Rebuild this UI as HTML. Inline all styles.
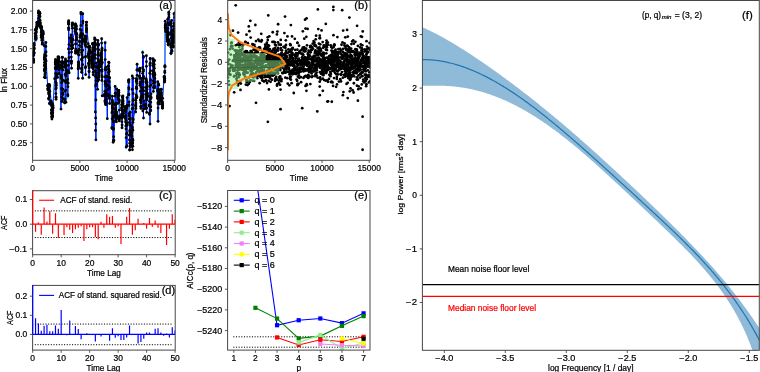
<!DOCTYPE html>
<html><head><meta charset="utf-8"><style>
html,body{margin:0;padding:0;background:#fff;width:760px;height:372px;overflow:hidden}
svg{display:block;filter:blur(0.3px)}
text{font-family:"Liberation Sans",sans-serif;stroke:currentColor;stroke-width:0.22px}
</style></head><body>
<svg width="760" height="372" viewBox="0 0 760 372" font-family="Liberation Sans, sans-serif">
<rect width="760" height="372" fill="#fff"/>
<clipPath id="ca"><rect x="32.6" y="0.5" width="142.4" height="159.8"/></clipPath>
<g clip-path="url(#ca)">
<polyline points="32.31,52.12 32.32,54.19 32.37,56.39 32.39,56.56 32.62,54.19 32.68,55.39 32.73,56.13 32.75,54.71 32.8,51.6 32.81,52.7 32.86,53.63 32.9,54.19 32.91,54.02 33.19,51.37 33.23,55.87 33.24,59.36 33.29,60.36 33.31,57.97 33.33,60.53 33.33,60.29 33.41,59.99 33.53,61.55 33.54,62.46 33.56,59.24 33.85,55.47 33.89,50.74 33.89,49.73 33.94,48.61 34.05,44.98 34.09,44.72 34.13,44.03 34.28,46.67 34.29,53.4 35.25,33.86 35.26,32.5 35.28,30.44 35.46,32.92 35.49,37.29 35.56,35.73 35.58,35.68 35.63,41.67 35.68,39.21 35.8,38.95 35.84,39.44 35.94,41.72 35.95,38.87 36.02,38.62 36.14,34.51 36.3,30.85 36.3,32.83 36.34,30.39 36.34,29.23 36.48,28.59 36.52,28.86 36.54,27.27 36.7,28.72 36.89,23.33 36.95,23.38 36.95,26.89 36.97,26.96 37.01,27.09 37.06,25.12 37.09,22.56 38.4,13.68 38.44,15.04 38.52,10.25 38.71,12.86 38.73,19.21 38.8,23 38.84,25.37 38.97,22.83 38.98,26.32 39.1,23.55 39.12,22.98 39.15,21.37 39.16,15.39 39.19,16.18 39.33,17.67 39.34,14.8 39.34,14.89 39.46,12.32 39.56,11.35 39.65,11.6 39.73,12.41 39.79,11.82 39.91,12.69 39.98,16.25 40.06,19.05 40.09,22.05 40.13,23.27 40.15,23.16 40.2,22.92 40.2,26.19 40.24,27.21 40.26,27.18 41.28,38.07 41.3,33.42 41.39,34.94 41.43,30.03 41.46,26.27 41.58,26.04 41.59,30.6 41.83,31.36 41.84,37.88 41.88,41.2 42.28,44.01 42.35,43.55 42.35,44.15 42.42,38.64 42.42,36.95 42.45,34.96 42.48,33.72 42.52,35.01 42.52,32.63 42.73,38.39 42.79,36.76 42.79,37.19 42.8,30.63 42.82,34.58 42.91,31.28 42.93,29.53 42.97,32.73 43.08,35 43.12,32.04 44.33,47.13 44.36,56.87 44.36,70.58 44.39,77.79 44.45,71.16 44.46,63.37 44.46,64.56 44.47,60.14 44.57,55.92 44.57,53.4 44.58,57.43 44.73,63.51 44.74,69.48 44.81,68.48 44.94,64.76 44.95,69.51 45.07,76.52 45.24,77.17 45.27,76.95 45.44,74.32 45.55,68.93 45.62,68.42 45.65,65.78 45.7,62.18 45.71,59.86 45.73,59.09 45.75,52.07 45.85,46.89 45.87,43.2 45.97,52.01 45.99,55.98 46.01,59.81 47.87,86.26 47.87,89.15 47.91,87.48 47.94,85.66 48.03,85.61 48.05,83.26 48.15,83.62 48.18,85.38 48.23,85.59 48.25,84.47 48.29,86.36 48.42,86.35 48.43,86.58 48.59,93.79 48.69,101.3 48.71,97.4 48.75,93.55 48.95,91.28 49.24,86.24 49.3,85.69 49.34,97.06 49.58,103.31 49.63,103.54 49.63,96.29 49.78,92.03 49.79,85.73 51.13,102.19 51.18,102.5 51.31,102 51.33,104.21 51.34,110.86 51.47,113.54 51.56,115.36 51.6,111.47 51.66,117.71 51.93,119.61 52.03,119.46 52.15,111.76 52.19,110.69 52.2,104.94 52.29,101.55 52.36,107.92 52.41,111.75 52.42,113.01 52.47,115.67 52.51,117.59 52.52,116.58 52.52,114.74 52.6,111.31 52.61,110.14 52.66,108.6 52.7,104.16 52.76,103.98 52.84,106.38 52.87,107.79 52.9,106.87 52.93,104.14 54.67,76.98 55.28,66.7 55.36,68.57 55.36,68.27 55.38,63.74 55.39,63.77 55.41,62.58 55.49,61.11 55.53,59.33 55.53,60.98 55.61,63.98 55.71,74.37 55.72,80.84 55.84,87.77 55.88,93.07 55.96,95.15 56.01,98.33 56.03,96.4 56.09,86.03 56.1,68.23 56.11,60.2 56.17,65.6 56.21,74.11 56.24,85.37 56.25,87.71 56.29,84.42 56.32,77.02 57.61,78.66 57.62,74.53 57.63,67.8 57.89,60.17 57.9,55.46 57.91,63.91 57.99,69.69 58.01,66.07 58.02,66.03 58.08,58.54 58.11,60.9 58.13,64.54 58.25,60.42 58.25,58.3 58.35,61.44 58.39,64.09 58.45,65.82 58.55,64.89 58.59,59.16 58.76,59.47 58.77,58.65 58.79,60.32 58.87,58.81 58.91,62.67 58.92,65.91 58.97,69.86 59.04,68.65 59.04,72.62 59.13,65.78 59.42,69 61,106.72 61.04,62.94 61.06,63.94 61.1,66.9 61.23,75.15 61.32,77.6 61.43,79.23 61.63,84.92 61.67,88.9 61.84,98.19 62.03,100.76 62.14,94.74 62.2,89.7 62.22,80.83 62.22,67.82 62.33,61.33 62.33,57.42 62.34,57.99 62.36,62.28 62.54,65.62 62.63,67.79 62.66,61.68 62.77,61.55 62.79,71.97 62.83,77 62.85,88.47 62.9,93.51 62.91,92.56 62.98,101.89 64.55,96.55 64.57,104.32 64.67,104.57 64.91,100.18 65.05,90.82 65.06,81.39 65.09,73.5 65.13,67.93 65.26,63.76 65.27,65.24 65.4,63.42 65.41,59.53 65.44,58.6 65.53,62.97 65.6,61.63 65.72,63.63 65.76,68.19 65.77,80.75 65.9,102.25 65.93,89.15 65.95,80.1 65.96,81.38 65.98,80.1 66.02,77.33 66.03,72.59 66.19,74.97 66.22,70.44 66.22,61.94 66.43,65.17 67.58,70.45 67.66,78.1 67.77,83.93 67.81,95.79 67.83,98.38 67.9,88.19 68.14,83.21 68.15,70.52 68.28,65.81 68.31,61.09 68.48,50.7 68.59,28.98 68.6,28.86 68.64,22 68.64,22.31 68.66,22.24 68.67,24.04 68.68,25.11 68.74,21.81 68.79,27.92 68.97,44.01 69,55.38 69.11,73.78 69.13,51.38 69.41,37.28 71.03,36.89 71.07,35.67 71.1,37.97 71.26,42.19 71.28,43.93 71.28,56.95 71.32,59.19 71.33,63.98 71.43,62.45 71.51,68.25 71.51,63.79 71.56,52.75 71.57,43.09 71.62,39.27 71.62,40.05 71.66,50.05 71.71,47.8 71.81,47.22 71.81,50 71.91,45.62 71.93,46.42 72.02,41.08 72.17,24.61 72.32,22.07 72.47,26.82 72.51,23.11 72.51,22.73 72.56,28.57 72.62,39.67 72.74,45.67 72.77,42.37 72.84,37.16 75.02,31.86 75.18,28.54 75.27,27.2 75.36,25.1 75.37,26.55 75.46,21.86 75.51,23.65 75.55,28.13 75.65,42.49 75.65,49.89 75.65,52.99 75.67,50.89 75.71,51.03 75.77,48.28 75.8,46.3 75.84,38.94 76.03,31.69 76.17,25.87 76.24,30.24 76.41,27.16 76.41,27.36 76.42,34.11 76.5,36.07 76.78,38.14 76.79,33.49 78.21,52.31 78.22,51.61 78.25,55.06 78.26,68.11 78.26,79.45 78.27,69.05 78.34,63.46 78.35,65.26 78.39,62.76 78.45,62.87 78.6,60.44 78.61,65.53 78.64,65.62 78.69,66.19 78.84,64.92 78.86,66.35 78.87,59.9 78.87,56.17 79.07,52.04 79.3,50 79.47,45.34 79.47,41.93 79.62,44.21 80,35.95 80.05,35.74 80.12,29.14 80.92,14.56 80.99,12.55 81.01,26.23 81.09,34.49 81.15,33.38 81.2,29.32 81.3,34.07 81.39,46.76 81.46,52.44 81.52,57.81 81.53,70.24 81.71,69.41 81.71,70.28 81.77,73.68 81.79,66.99 81.91,60.99 81.91,54.83 81.91,50.99 81.91,43.79 81.92,34.92 82.06,38 82.32,43.85 82.57,47.48 82.63,64.66 82.64,78.78 82.69,56.27 82.78,32.28 82.8,25.57 82.8,13.35 82.86,23.75 82.88,39.97 84.71,41.61 84.74,41.72 84.8,36.7 84.85,40.26 84.86,39.56 84.96,42.53 85,40.42 85.01,42.81 85.12,45.56 85.18,43.57 85.3,56.3 85.36,68.24 85.64,73.86 85.64,66.22 85.68,55.25 85.84,46.2 85.85,42.63 85.94,40.86 86.2,38.63 86.21,39.14 86.21,25.02 86.34,29.33 86.36,23.58 86.38,30.53 86.44,31.31 86.45,26.47 86.52,27.72 86.54,29.24 86.56,24.54 88.17,41.98 88.22,49.21 88.23,53.28 88.28,56.53 88.35,51.78 88.51,57.94 88.64,62.83 88.78,66.55 88.83,63.32 88.85,54.23 88.86,48.9 88.94,52.41 89.02,65.07 89.03,72.32 89.08,78.69 89.12,71.82 89.13,66.38 89.18,59.06 89.26,60.35 89.28,62.54 89.44,61.17 89.44,56.55 89.46,54.03 89.53,46.17 89.56,46.14 89.61,46.62 89.62,52.29 89.73,51.05 89.75,50.42 89.98,50.88 91.53,55.89 91.61,60.18 91.62,61.67 91.67,60.43 91.69,63.55 91.74,61.05 91.79,63.55 91.89,68.93 91.89,66.6 92.03,66.25 92.09,57.73 92.15,55.84 92.4,52.73 92.42,52.87 92.53,50.02 92.6,42.25 92.66,48.07 92.68,44.75 92.68,43.6 92.76,51.03 92.93,58.28 92.99,57.94 93,55.25 93.04,60.07 93.07,65.97 93.21,69.82 93.24,74.87 93.25,72.82 93.28,66.96 93.29,62.38 93.36,61.73 93.47,65.25 94.43,66.59 94.47,57.68 94.55,46.72 94.56,43.38 94.62,39.39 94.79,40.71 94.82,44.79 94.91,50.46 94.94,54.7 95.1,44.45 95.12,39.71 95.25,41.19 95.26,43.48 95.28,51.79 95.3,57.82 95.3,111.76 95.32,70.38 95.41,75.47 95.5,131 95.58,86.06 95.6,119.99 95.8,124.73 95.9,140.45 95.9,99.66 96.05,82.29 96.07,80.67 96.13,75.97 96.13,73.89 96.15,74.81 96.23,69.18 96.28,63.92 97.52,79.14 97.59,89.61 97.59,81.44 97.6,67.18 97.6,56.1 97.68,47.87 97.75,43.61 97.75,47.57 97.84,44.24 97.87,40.15 97.97,44.75 98.07,50.99 98.15,60.64 98.23,68.29 98.32,79.66 98.5,82.1 98.51,64.49 98.57,44.03 98.59,45.43 98.7,50.6 98.73,55.79 98.81,65.53 98.84,69.48 98.94,69.14 98.97,75.4 98.97,77.81 99.28,74.53 99.29,71.58 99.32,70.82 99.33,66.87 99.38,69.27 99.5,65.79 100.42,64.18 100.47,63.63 100.48,61.93 100.58,59.21 100.7,66.67 100.75,63.17 100.83,58.87 100.94,56.07 100.95,54.07 101.03,55.69 101.19,55.88 101.23,63.36 101.32,57.13 101.38,58.91 101.45,58.08 101.53,61.57 101.55,65.17 101.57,55.1 101.62,43.37 101.63,37.35 101.63,50.28 101.63,60.55 101.66,70.18 101.72,67.7 101.75,75.79 101.79,81.2 101.88,71.02 101.89,63.69 101.92,48.67 102.04,46.51 102.14,61.37 102.22,78.38 102.23,97.06 104.44,94.43 104.67,95.33 104.68,95.94 104.84,102.71 104.87,91.84 104.98,80.94 104.98,77.77 105,68.54 105.13,49.05 105.14,40.98 105.19,59.89 105.27,82.58 105.29,84.27 105.33,101.86 105.56,105.03 105.62,104.04 105.65,99.17 105.69,102.92 105.72,103.93 105.75,95.19 105.79,90.45 105.83,85.44 105.88,67.96 105.89,69.89 105.98,78.68 106,89.36 106,105.51 106.04,94.99 106.04,104.41 106.14,102.7 106.25,100.39 106.37,93.19 106.37,82.43 106.38,74.91 107.3,117.97 107.87,75.09 107.91,82.14 107.91,86.78 107.98,89.8 108.09,93.62 108.09,95.69 108.16,93.5 108.31,87.3 108.31,77.66 108.37,66.17 108.4,66.28 108.41,66.97 108.51,71.32 108.56,75.3 108.58,74.54 108.71,69.32 108.72,61.31 108.99,62.29 109.22,73.35 109.3,80.63 109.41,86.69 109.43,97.8 109.58,97.68 109.6,102.97 109.63,96.23 109.68,79.81 111.87,110.67 111.95,127.47 112.01,128.28 112.16,118.75 112.35,111.21 112.36,101.33 112.39,97.35 112.4,99.53 112.42,101.76 112.43,101.89 112.5,106.1 112.58,107.55 112.64,109.74 112.68,103.94 112.76,109.01 112.99,115.87 113.09,128.06 113.15,141.24 113.17,128.02 113.2,117.26 113.25,110.94 113.29,119.85 113.31,122.32 113.34,128.93 113.41,138.78 113.51,142.18 113.65,136.83 113.79,140.12 114.84,118.31 114.85,115.14 115.01,103.3 115.08,98.53 115.13,85.11 115.24,93.12 115.33,106.18 115.33,108.22 115.4,108.46 115.44,113.58 115.47,119.33 115.57,120 115.68,116.3 115.72,109.88 115.73,103.47 115.76,102.55 115.78,108.48 115.87,111.04 115.88,113.41 116.11,115.36 116.33,113.6 116.4,118.65 116.42,122.19 116.43,118.16 116.45,115.27 116.46,115.21 116.48,116.25 116.52,117.22 116.52,113.32 116.53,113.93 116.58,106.45 116.68,92.64 116.71,89.37 117.84,92.4 117.87,95.94 118.04,95.78 118.06,97.25 118.11,103.05 118.19,99.26 118.31,92 118.32,94.72 118.34,94.93 118.59,95.17 118.72,90.85 118.72,91.73 118.83,92.2 119.08,96.64 119.11,98.71 119.14,101.13 119.2,101.58 119.23,110.31 119.24,117.47 119.3,120.95 119.3,118.48 119.35,117.94 119.42,114.29 119.48,119.92 119.5,114.07 121.53,116.63 121.55,115.19 121.59,116.2 121.61,106.91 121.81,104.75 121.83,106.63 121.87,102.76 121.89,109.93 121.96,119.06 121.96,121.6 122.04,128.88 122.08,124.64 122.22,115.33 122.25,102.01 122.27,97.23 122.33,106.12 122.34,107.52 122.4,110.57 122.53,102.81 122.57,100.42 122.8,97.57 122.82,97.74 122.85,99.23 122.91,96.62 123.02,101.18 123.06,105.96 123.18,102.8 123.18,110.61 123.3,117.39 123.37,115.29 123.49,112.5 125.22,108.02 125.23,109.42 125.26,105.83 125.33,109.18 125.34,111.17 125.35,108.58 125.38,115.44 125.41,116 125.61,119.48 125.61,115.45 125.67,110.97 125.68,111.44 125.76,121.33 125.85,125.36 125.99,122.23 126.02,123.98 126.03,126.43 126.1,136.66 126.2,149.2 126.38,133.63 126.39,121.57 126.52,108.75 126.86,107.54 126.97,123.07 126.98,132.36 127.01,145.6 127.07,124.73 127.09,105.94 127.1,96.62 127.12,105.63 128.53,80.17 128.59,83.55 128.65,95.31 128.78,87.47 128.86,89.65 128.88,82.59 128.9,80.96 128.91,95.13 128.98,107.53 129,103.58 129.02,113.71 129.07,115.25 129.28,119.96 129.41,123.03 129.46,135.02 129.48,138.2 129.69,147.71 129.69,150.41 129.77,144.09 129.91,132.25 129.92,117.72 129.97,125.81 129.97,129.63 130.07,134.96 130.11,147.03 130.16,133.26 130.19,117.66 130.23,109.74 131.31,124.87 131.37,131.59 131.4,140.77 131.52,145.58 131.55,145.7 131.76,132.78 131.84,135 131.87,136.9 131.96,142.97 131.97,147.26 132.01,145.92 132.02,140.06 132.12,128.27 132.15,108.77 132.17,89.05 132.24,76.99 132.36,106.65 132.38,126.66 132.44,149.32 132.69,140.27 132.73,138.99 132.81,139.83 132.83,143.78 132.87,130.58 132.94,123.15 132.94,117.81 132.95,107.64 133.05,99.32 133.12,94.43 133.19,76.37 133.23,99.3 133.28,122.05 135.56,105.75 135.63,112.59 135.79,104.52 135.8,98.84 135.84,98.04 135.88,103.53 135.91,104.72 135.91,108.79 136.07,96.35 136.26,89.55 136.28,76.72 136.29,79.8 136.41,79.41 136.47,82.91 136.57,87.35 136.61,97.29 136.79,96.7 136.83,95.23 136.85,88.75 136.95,83.71 137,78.61 137.06,75.61 137.06,70.35 137.1,64.5 137.13,69.06 139.44,66.95 139.45,76.33 139.53,76.19 139.64,69.78 139.75,70.56 139.84,68.3 139.86,69.01 139.88,71.28 139.91,78.46 140,80.92 140.02,84.54 140.17,83.86 140.39,90.05 140.41,98.28 140.55,99.69 140.6,101.29 140.81,102.95 140.86,108.32 140.95,108.26 140.97,106.04 141.06,99.94 141.1,96.51 141.28,89.11 141.29,81.99 141.36,79.32 142.01,94.9 142.03,96.05 142.04,96.02 142.08,96.26 142.14,98.58 142.24,91.66 142.37,91.4 142.42,97.17 142.42,94.54 142.42,87.13 142.47,80.87 142.63,68.9 142.63,49.93 142.65,73.05 142.72,92.54 142.8,97.69 142.85,109.6 143.02,97.03 143.12,83.15 143.33,70.96 143.35,58.14 143.47,56.51 143.5,117.55 143.57,73.59 143.58,76.51 143.67,77.87 143.7,90.26 143.72,105.32 143.98,109.3 143.99,101.74 145.45,104.64 145.49,103.25 145.53,107.19 145.61,108.12 145.64,94.1 145.65,85.64 146.06,77.89 146.07,81.76 146.36,81.06 146.4,64.57 146.41,55.74 146.45,61.78 146.46,78.6 146.55,90.52 146.56,98.12 146.65,109.14 146.67,109.37 146.78,99.37 146.78,94.71 146.87,96.83 146.89,96.53 146.89,93.56 146.96,93.49 147.07,85.55 147.09,91.67 147.1,83.6 147.15,86.46 147.35,91.47 149.18,94.99 149.19,106.54 149.25,104.82 149.28,105.61 149.3,113.46 149.49,112.85 149.69,102.09 149.73,86.67 149.77,73.85 149.97,63.05 150,124.62 150.09,64.36 150.15,60.04 150.26,59.75 150.32,64.09 150.47,71.39 150.51,80.69 150.53,93.11 150.55,111.87 150.6,109.94 150.66,102.28 150.79,106.65 150.82,96.02 150.92,97.97 150.98,97.94 150.98,95.61 150.99,84.42 152.82,73.11 152.9,73.26 152.9,64.81 152.93,61.03 153.14,60.53 153.14,62.98 153.25,76.97 153.3,82.86 153.31,85.74 153.39,93.28 153.39,82.98 153.51,77.99 153.58,69.8 153.7,61.92 153.76,66.78 153.76,62.87 153.82,62.92 153.89,63.2 154.19,61.08 154.25,60.42 154.33,63.97 154.38,67.97 154.5,71.7 154.55,77.97 154.6,72.23 154.61,78.35 154.65,87.77 154.71,89.49 154.77,83.27 154.79,73.78 157.52,99.24 157.55,95.61 157.64,95.89 157.67,93.35 157.68,92.77 157.69,82.35 157.7,88.79 157.97,103.62 158.03,122.5 158.09,108.63 158.17,102.59 158.18,94.71 158.26,90.28 158.49,89.36 158.57,85.11 158.62,84.13 158.72,89.97 158.83,96.24 158.86,92.21 158.93,95.42 158.99,94.21 159,99.32 159,103.59 159.05,103.42 159.06,104.8 159.11,102.88 159.21,100.39 159.38,98.38 159.43,100.07 159.47,103.12 160.83,102.31 160.85,99.02 160.89,97.9 160.93,96.88 161.1,93 161.15,89.01 161.16,88.1 161.25,91.03 161.3,91.41 161.32,94.99 161.34,94.16 161.4,97.93 161.49,97.02 161.58,102.32 161.86,102 162.03,103.44 162.03,103.38 162.1,103.19 162.12,104.9 162.19,103.77 162.23,104.32 162.32,107.18 162.36,105.23 162.45,100.67 162.47,105.97 162.49,107.27 162.55,105.61 162.59,103.93 162.65,97.51 164.04,79.56 164.31,75.31 164.4,77.28 164.44,80.09 164.47,79.01 164.48,79.88 164.52,82.2 164.53,78.93 164.56,81.09 164.57,81.63 164.73,79.65 164.76,77.51 164.78,69.27 164.82,71.36 164.9,65.28 164.92,66.07 164.94,67.2 165.13,25.77 165.19,23.21 165.19,27.05 165.39,27.9 165.53,22.61 165.58,24.72 165.68,24.86 165.7,27.16 165.74,26.68 165.74,30.27 165.74,28.95 165.75,28.55 165.8,29.34 165.84,33.21 165.87,31.73 165.92,24.51 167.06,32.08 167.07,35.3 167.13,38.72 167.32,39.17 167.39,41.23 167.5,39.01 167.54,32.18 167.68,22.29 167.71,18.41 167.79,27.57 167.84,35.99 167.96,33.66 167.98,33.86 168.03,40.31 168.21,40.88 168.21,44.64 168.29,45.02 168.33,41.75 168.39,41.4 168.41,40.4 168.44,42.44 168.49,43.46 168.56,41.17 168.61,33.18 168.76,26.52 168.78,16.78 168.83,10.25 168.84,14.3 168.87,14.84 170.5,24.89 170.54,22.09 170.62,24.03 170.65,34.82 170.73,41.85 170.89,45.95 170.92,46.46 170.99,46.41 170.99,55.29 171.02,54.45 171.35,43.75 171.36,35.88 171.54,32.22 171.58,27.25 171.67,20.29 171.76,28.48 171.76,41.96 171.76,43.88 171.84,50.78 171.89,52.24 171.91,46.44 171.92,40.75 172.01,38.19 172.17,39.25 172.21,40.22 172.25,39.95 172.25,44.38 172.28,41.18 172.33,34.97 172.39,35.06 172.48,35.44 173.3,38.61 173.32,47.16 173.33,43 173.39,40.74 173.41,39.88 173.57,39.69 173.58,45.94 173.64,39.28 173.74,31.08 173.85,29.87 173.96,25.23 173.97,24.47 173.99,12.48 174,23.65 174.02,36.06 174.05,40.39 174.11,35.58 174.13,40.12 174.18,38.94 174.22,42.37 174.45,42.03 174.52,39.76 174.55,38.94 174.72,42.39 174.82,37.64 174.99,35.38 175,33.68 175.07,26.98 175.07,25.85 175.1,24.02 175.1,18.06 175.11,12.3 175.14,24.64" fill="none" stroke="#00e5ee" stroke-width="0.8" stroke-linejoin="round"/>
<polyline points="32.31,53.94 32.32,53.93 32.37,55.66 32.39,55.79 32.62,55.66 32.68,55.77 32.73,55.96 32.75,53.75 32.8,52.38 32.81,54.09 32.86,52.42 32.9,52.86 32.91,53.58 33.19,52.1 33.23,55.39 33.24,59.23 33.29,59.36 33.31,59.47 33.33,60.39 33.33,60.48 33.41,61.32 33.53,61.29 33.54,62.42 33.56,59.73 33.85,55 33.89,52.44 33.89,49.79 33.94,48.09 34.05,44.64 34.09,43.43 34.13,45.47 34.28,48.48 34.29,53.11 35.25,33.31 35.26,29.95 35.28,29.7 35.46,33.97 35.49,36.32 35.56,36.75 35.58,37.46 35.63,38.54 35.68,38.82 35.8,38.09 35.84,38.76 35.94,39.54 35.95,38.53 36.02,37.16 36.14,35.75 36.3,32.52 36.3,31.12 36.34,28.62 36.34,28.62 36.48,28.32 36.52,28.66 36.54,28.1 36.7,26.87 36.89,22.54 36.95,22.77 36.95,26.44 36.97,25.7 37.01,26.48 37.06,24.23 37.09,23.97 38.4,13.07 38.44,12.41 38.52,10.88 38.71,13.01 38.73,18.14 38.8,21.85 38.84,24.62 38.97,24.77 38.98,25.72 39.1,24.97 39.12,23.97 39.15,20.71 39.16,15.74 39.19,15.21 39.33,13.9 39.34,13.86 39.34,14.02 39.46,13.4 39.56,12.13 39.65,12.87 39.73,13.05 39.79,13.13 39.91,13.48 39.98,16.5 40.06,20.25 40.09,23.75 40.13,24.91 40.15,22.61 40.2,22.84 40.2,24.96 40.24,25.96 40.26,27.59 41.28,37.26 41.3,35.14 41.39,32.2 41.43,28.59 41.46,26.53 41.58,27.44 41.59,30.15 41.83,33.61 41.84,38.81 41.88,40.3 42.28,43.92 42.35,44.13 42.35,43.01 42.42,39.88 42.42,36.61 42.45,35.56 42.48,34.74 42.52,34.45 42.52,33.82 42.73,36.1 42.79,37.46 42.79,34.8 42.8,31.94 42.82,33.85 42.91,32.72 42.93,31.14 42.97,32.54 43.08,34.18 43.12,33.56 44.33,45.71 44.36,57.83 44.36,70.42 44.39,77.33 44.45,70.45 44.46,65.53 44.46,62.62 44.47,59.46 44.57,56.43 44.57,54.63 44.58,59.46 44.73,65.15 44.74,68.83 44.81,68.89 44.94,66.12 44.95,70.15 45.07,74.64 45.24,77.57 45.27,77.65 45.44,72.7 45.55,68.38 45.62,68.36 45.65,66.51 45.7,64.04 45.71,61.27 45.73,59.66 45.75,52.33 45.85,46.46 45.87,42.54 45.97,51.75 45.99,55.72 46.01,61.02 47.87,88.84 47.87,89.78 47.91,88.63 47.94,86.44 48.03,85.94 48.05,84.75 48.15,84.96 48.18,85.5 48.23,85.45 48.25,85.25 48.29,85.76 48.42,86.61 48.43,87.81 48.59,93.74 48.69,99.04 48.71,98.21 48.75,92.15 48.95,89.62 49.24,84.44 49.3,86.67 49.34,94.64 49.58,103.17 49.63,103.84 49.63,96.57 49.78,91.31 49.79,85.67 51.13,102.4 51.18,100.96 51.31,102.87 51.33,105.46 51.34,109.91 51.47,112.7 51.56,114.05 51.6,112.75 51.66,116.41 51.93,119.03 52.03,117.35 52.15,113.26 52.19,110.43 52.2,105.28 52.29,103.45 52.36,108.78 52.41,110.39 52.42,113.57 52.47,116.54 52.51,116.55 52.52,115.39 52.52,113.56 52.6,112.26 52.61,110.21 52.66,107.36 52.7,104.95 52.76,104.88 52.84,105.39 52.87,105.92 52.9,108.25 52.93,107.26 54.67,78.72 55.28,67.91 55.36,68.73 55.36,67.53 55.38,63.92 55.39,64.61 55.41,62.39 55.49,62.27 55.53,59.38 55.53,61.75 55.61,60.76 55.71,73.39 55.72,81.84 55.84,88.97 55.88,93.6 55.96,97.12 56.01,99.21 56.03,97.29 56.09,84.97 56.1,68.74 56.11,61.15 56.17,67.21 56.21,75.52 56.24,85.45 56.25,87.96 56.29,83.06 56.32,77.77 57.61,77.39 57.62,74.22 57.63,67.8 57.89,62.58 57.9,57.01 57.91,63.02 57.99,68.02 58.01,65.82 58.02,65.12 58.08,59.03 58.11,61.35 58.13,65.34 58.25,59.25 58.25,57.89 58.35,61.72 58.39,64.49 58.45,65.15 58.55,64.5 58.59,60.16 58.76,57.41 58.77,58.35 58.79,60.31 58.87,57.04 58.91,61.44 58.92,66.02 58.97,69.22 59.04,69.93 59.04,73.39 59.13,68.49 59.42,67.54 61,109 61.04,62.13 61.06,64.94 61.1,68.08 61.23,75.39 61.32,77.28 61.43,78.5 61.63,82.8 61.67,88.47 61.84,97.14 62.03,101.48 62.14,93.88 62.2,89.52 62.22,81.39 62.22,67.94 62.33,61.4 62.33,57.19 62.34,57.51 62.36,62.89 62.54,66.51 62.63,66.89 62.66,63.72 62.77,62.29 62.79,70.1 62.83,80.25 62.85,89.3 62.9,92.68 62.91,94.54 62.98,98.78 64.55,99.65 64.57,102.6 64.67,102.71 64.91,99.08 65.05,91.09 65.06,80.96 65.09,74.57 65.13,66.96 65.26,65.11 65.27,65.57 65.4,62.23 65.41,60.87 65.44,59.04 65.53,62.78 65.6,63.24 65.72,62.23 65.76,67.79 65.77,82.57 65.9,102.31 65.93,90.08 65.95,80.89 65.96,81.29 65.98,80.95 66.02,76.18 66.03,73.43 66.19,73.79 66.22,70.49 66.22,60.92 66.43,65.82 67.58,71.06 67.66,79.49 67.77,83.24 67.81,94.66 67.83,95.84 67.9,86.64 68.14,82.91 68.15,70.78 68.28,65.34 68.31,61.13 68.48,48.94 68.59,27.85 68.6,29.86 68.64,22.83 68.64,20.67 68.66,21.87 68.67,24.32 68.68,23.69 68.74,22.28 68.79,28.26 68.97,44.56 69,57.73 69.11,72.74 69.13,52.83 69.41,37.97 71.03,37.79 71.07,34.8 71.1,38.05 71.26,42.17 71.28,45.95 71.28,57.06 71.32,60.96 71.33,63.61 71.43,62.01 71.51,68.27 71.51,61.34 71.56,52.12 71.57,42.38 71.62,39.09 71.62,40.28 71.66,48.89 71.71,46.48 71.81,48.78 71.81,48.74 71.91,45 71.93,45.27 72.02,40.52 72.17,26.11 72.32,23.48 72.47,24.63 72.51,22.81 72.51,24.43 72.56,28.15 72.62,40.11 72.74,47.88 72.77,45.12 72.84,39.08 75.02,31.53 75.18,28.6 75.27,27.5 75.36,24.76 75.37,25.83 75.46,24.39 75.51,24.01 75.55,29.13 75.65,43.97 75.65,50.55 75.65,53.14 75.67,51.21 75.71,52.77 75.77,48.86 75.8,43.88 75.84,40.2 76.03,33.71 76.17,25.54 76.24,29.53 76.41,26.61 76.41,28.71 76.42,32.91 76.5,37.01 76.78,39.5 76.79,34.22 78.21,52.44 78.22,50.75 78.25,54.31 78.26,68.14 78.26,78.33 78.27,68.95 78.34,62.39 78.35,66.94 78.39,64.65 78.45,61.94 78.6,62.11 78.61,65.89 78.64,65.73 78.69,66.77 78.84,65.47 78.86,64.68 78.87,62.93 78.87,55.11 79.07,49.28 79.3,49.97 79.47,45.37 79.47,41.05 79.62,42.02 80,37.37 80.05,35.64 80.12,29.36 80.92,13.89 80.99,12.36 81.01,25.44 81.09,34.99 81.15,33.32 81.2,30.12 81.3,34.86 81.39,46.93 81.46,52.61 81.52,59.22 81.53,68.36 81.71,69.57 81.71,71.94 81.77,72.36 81.79,67.89 81.91,60.38 81.91,54.85 81.91,50.69 81.91,43.59 81.92,35.61 82.06,37.95 82.32,41.41 82.57,50.17 82.63,64.58 82.64,78.26 82.69,57.53 82.78,33.93 82.8,22.97 82.8,13.79 82.86,21.26 82.88,39.33 84.71,41.52 84.74,41.15 84.8,35.94 84.85,38.84 84.86,39.03 84.96,42.36 85,40.21 85.01,41.19 85.12,44.58 85.18,44.77 85.3,57.06 85.36,67.84 85.64,74.61 85.64,66.67 85.68,56.4 85.84,46.51 85.85,42.12 85.94,39.66 86.2,38.61 86.21,36.65 86.21,25.12 86.34,25.5 86.36,22.38 86.38,29.93 86.44,31.91 86.45,29.86 86.52,27.91 86.54,29.02 86.56,22.23 88.17,43.64 88.22,46.92 88.23,53.58 88.28,55.66 88.35,54.83 88.51,57.78 88.64,63.24 88.78,65.73 88.83,63.21 88.85,55.6 88.86,47.77 88.94,51.58 89.02,64.35 89.03,71.11 89.08,77.37 89.12,71.85 89.13,68.01 89.18,60.72 89.26,58.73 89.28,61.68 89.44,61.04 89.44,57.07 89.46,53.99 89.53,46.14 89.56,46.55 89.61,47.46 89.62,49.7 89.73,50.78 89.75,51.15 89.98,52.44 91.53,56.76 91.61,59.31 91.62,60.76 91.67,60.7 91.69,63.49 91.74,61.41 91.79,64.88 91.89,67.37 91.89,66.15 92.03,63.28 92.09,58.64 92.15,56 92.4,51.67 92.42,53.17 92.53,51.69 92.6,43.39 92.66,47.95 92.68,44.34 92.68,43.72 92.76,49.83 92.93,57.09 92.99,57.55 93,55.22 93.04,60.37 93.07,65.3 93.21,68.72 93.24,74.8 93.25,72.28 93.28,67.35 93.29,64.08 93.36,62.93 93.47,64.33 94.43,66.05 94.47,55.78 94.55,46.65 94.56,42.34 94.62,37.81 94.79,39.52 94.82,45.52 94.91,50.68 94.94,54.54 95.1,45.63 95.12,39.14 95.25,39.97 95.26,44.06 95.28,49.42 95.3,58.17 95.3,112 95.32,70.67 95.41,76.32 95.5,130.5 95.58,86.04 95.6,118 95.8,124 95.9,139.8 95.9,99.92 96.05,83.99 96.07,80.78 96.13,76.99 96.13,72.75 96.15,74.85 96.23,67.19 96.28,63.04 97.52,78.13 97.59,89.34 97.59,81.19 97.6,66.4 97.6,54.99 97.68,48.72 97.75,43.02 97.75,44.42 97.84,44.35 97.87,40.45 97.97,45.58 98.07,52.72 98.15,59.21 98.23,68.22 98.32,79.3 98.5,79.88 98.51,61.48 98.57,45.09 98.59,44.16 98.7,49.86 98.73,55.31 98.81,64.96 98.84,69.51 98.94,67.23 98.97,74.66 98.97,77.39 99.28,73.03 99.29,70.5 99.32,70.26 99.33,66.47 99.38,67.16 99.5,65.17 100.42,64.28 100.47,64.66 100.48,62.34 100.58,60.46 100.7,66.54 100.75,62.86 100.83,61.33 100.94,56.04 100.95,53.29 101.03,55.48 101.19,57.02 101.23,61.84 101.32,57.96 101.38,60.38 101.45,59.38 101.53,61.58 101.55,63.98 101.57,53.7 101.62,43.11 101.63,38.78 101.63,51.06 101.63,61.63 101.66,70.39 101.72,69.83 101.75,75.65 101.79,80.43 101.88,71.2 101.89,63.14 101.92,49.8 102.04,48.26 102.14,62.13 102.22,76.99 102.23,95.82 104.44,94.98 104.67,93.89 104.68,96.33 104.84,100.89 104.87,91.25 104.98,81.48 104.98,76.81 105,69.47 105.13,50.17 105.14,42.72 105.19,59.58 105.27,82.64 105.29,84.36 105.33,102.36 105.56,103.3 105.62,104.55 105.65,100.04 105.69,101.42 105.72,102.23 105.75,94.79 105.79,92.54 105.83,86.16 105.88,67.22 105.89,69.87 105.98,76.82 106,91 106,104.7 106.04,95.74 106.04,102.82 106.14,102.79 106.25,99.15 106.37,93.97 106.37,84.12 106.38,76.24 107.3,118.7 107.87,76.32 107.91,80.7 107.91,85.17 107.98,89.47 108.09,94.86 108.09,95.84 108.16,94.33 108.31,85.55 108.31,77.28 108.37,65.58 108.4,66.76 108.41,69.39 108.51,72.25 108.56,76.64 108.58,74.1 108.71,69.2 108.72,62.27 108.99,62.76 109.22,71.47 109.3,81.78 109.41,87.79 109.43,98.08 109.58,98.52 109.6,103.48 109.63,95.59 109.68,77.73 111.87,112.81 111.95,127.49 112.01,128.24 112.16,118.85 112.35,111.44 112.36,101.73 112.39,96.14 112.4,100.09 112.42,101.91 112.43,101.89 112.5,105.97 112.58,107.76 112.64,108.54 112.68,103.95 112.76,108.8 112.99,115.94 113.09,129.27 113.15,142.23 113.17,129.28 113.2,117.02 113.25,111.8 113.29,121.12 113.31,122.03 113.34,128.3 113.41,140.89 113.51,140.15 113.65,136.79 113.79,140.24 114.84,117.03 114.85,115.06 115.01,104.02 115.08,95.9 115.13,86.4 115.24,93.23 115.33,105.17 115.33,109.5 115.4,108.59 115.44,113.11 115.47,116.44 115.57,121.07 115.68,116.36 115.72,109.09 115.73,103.37 115.76,103.99 115.78,107.99 115.87,110.91 115.88,112.88 116.11,114 116.33,112.38 116.4,118.16 116.42,121.81 116.43,119.48 116.45,115.43 116.46,114.94 116.48,116.73 116.52,117.1 116.52,114.31 116.53,112.09 116.58,103.87 116.68,93.11 116.71,88.89 117.84,92.68 117.87,94.42 118.04,95.26 118.06,97.16 118.11,103.31 118.19,99.11 118.31,93.2 118.32,93.91 118.34,95.79 118.59,94.53 118.72,90.69 118.72,90.42 118.83,92.22 119.08,95.42 119.11,99.82 119.14,100.4 119.2,101.85 119.23,110.08 119.24,117.39 119.3,119.83 119.3,120.91 119.35,117.55 119.42,116.09 119.48,118.47 119.5,116.43 121.53,117.84 121.55,117.2 121.59,114.23 121.61,108.46 121.81,104.61 121.83,107.27 121.87,104.92 121.89,110.34 121.96,118.26 121.96,121.82 122.04,127.75 122.08,125.08 122.22,115.32 122.25,102.48 122.27,96.81 122.33,103.85 122.34,107.08 122.4,110.34 122.53,103.55 122.57,101.32 122.8,95.82 122.82,99.08 122.85,100.32 122.91,96.74 123.02,101.69 123.06,103.61 123.18,105.64 123.18,110.18 123.3,116.54 123.37,116.64 123.49,113.27 125.22,107.5 125.23,107.47 125.26,106.93 125.33,111.08 125.34,110.01 125.35,106.75 125.38,115.84 125.41,118.66 125.61,117.74 125.61,115.69 125.67,109.62 125.68,111.49 125.76,121.78 125.85,125.9 125.99,120.46 126.02,122.26 126.03,129 126.1,137.78 126.2,147.07 126.38,134.07 126.39,123.2 126.52,108.74 126.86,107.67 126.97,123.18 126.98,132.94 127.01,145.97 127.07,125.28 127.09,105.54 127.1,97.59 127.12,105.98 128.53,80.34 128.59,81.99 128.65,94.86 128.78,87.6 128.86,89.01 128.88,82.1 128.9,79.66 128.91,94.52 128.98,105.38 129,101.96 129.02,113.76 129.07,115.74 129.28,118.9 129.41,122.41 129.46,135.13 129.48,139.97 129.69,149.91 129.69,149.99 129.77,143.16 129.91,131.29 129.92,119.27 129.97,124.56 129.97,130.27 130.07,134.49 130.11,146.53 130.16,134.22 130.19,118.37 130.23,112.22 131.31,125.97 131.37,133.75 131.4,140.24 131.52,145.5 131.55,144.6 131.76,132.35 131.84,135.76 131.87,136.48 131.96,143.44 131.97,146.53 132.01,145.54 132.02,141.25 132.12,128.26 132.15,108.71 132.17,89.42 132.24,75.92 132.36,104.59 132.38,127.1 132.44,149.74 132.69,142.97 132.73,139.14 132.81,140.36 132.83,146.37 132.87,130.24 132.94,122.44 132.94,118.69 132.95,108.09 133.05,100.48 133.12,93.51 133.19,78.19 133.23,99.68 133.28,119.71 135.56,105.68 135.63,112.03 135.79,104.69 135.8,100.25 135.84,98.08 135.88,103.04 135.91,105.94 135.91,108.38 136.07,94.85 136.26,88.26 136.28,78.62 136.29,80.97 136.41,81.35 136.47,81.62 136.57,86.62 136.61,96.45 136.79,97.76 136.83,96.63 136.85,88.66 136.95,83.59 137,79.64 137.06,75.44 137.06,69.58 137.1,64.23 137.13,70.31 139.44,69.48 139.45,76.64 139.53,75.99 139.64,70.09 139.75,71.07 139.84,69.13 139.86,68.15 139.88,71.34 139.91,78.31 140,82.09 140.02,85.28 140.17,83.66 140.39,91.25 140.41,99.79 140.55,100.08 140.6,99.85 140.81,102.72 140.86,106.57 140.95,108.42 140.97,106.42 141.06,101.62 141.1,97.2 141.28,87.39 141.29,81.59 141.36,78.44 142.01,94.06 142.03,96.06 142.04,96.27 142.08,96.12 142.14,97.78 142.24,91.11 142.37,90.81 142.42,96.99 142.42,95.46 142.42,87.45 142.47,82 142.63,67.69 142.63,52.45 142.65,73.31 142.72,89.67 142.8,98.1 142.85,110.96 143.02,97.05 143.12,81.61 143.33,71.15 143.35,57.4 143.47,56.39 143.5,118 143.57,69.81 143.58,76.42 143.67,78.51 143.7,90.84 143.72,104.87 143.98,108.81 143.99,100.81 145.45,104.47 145.49,104.97 145.53,106.55 145.61,108.49 145.64,94.45 145.65,87.42 146.06,78.58 146.07,82.64 146.36,81.11 146.4,66.31 146.41,55.68 146.45,61.63 146.46,79.95 146.55,91.27 146.56,99.15 146.65,108.05 146.67,112.4 146.78,99.78 146.78,96.7 146.87,97.35 146.89,95.51 146.89,94.32 146.96,93.32 147.07,86.57 147.09,89.34 147.1,82.5 147.15,85.11 147.35,93.06 149.18,96.31 149.19,105.24 149.25,105.05 149.28,105.92 149.3,113.06 149.49,114.36 149.69,101.16 149.73,86.64 149.77,73.28 149.97,63.86 150,124 150.09,65.21 150.15,58.89 150.26,58.39 150.32,63 150.47,70.77 150.51,79.93 150.53,96.36 150.55,110.87 150.6,110.27 150.66,102.16 150.79,107 150.82,97.69 150.92,98.62 150.98,97.15 150.98,93.91 150.99,85.17 152.82,74.2 152.9,71.51 152.9,65.87 152.93,58.55 153.14,60.47 153.14,64.04 153.25,75.79 153.3,80.83 153.31,87.46 153.39,91.41 153.39,83.31 153.51,76.21 153.58,70.26 153.7,63.81 153.76,66.18 153.76,61.76 153.82,60.4 153.89,61.14 154.19,60.25 154.25,60.71 154.33,64.59 154.38,68.33 154.5,72.7 154.55,78.3 154.6,75.29 154.61,78.13 154.65,87.8 154.71,86.41 154.77,82.35 154.79,74.35 157.52,98.56 157.55,97.08 157.64,96.61 157.67,95.59 157.68,91.04 157.69,81.64 157.7,90.2 157.97,103.69 158.03,121.36 158.09,108.04 158.17,102.13 158.18,95.74 158.26,91.04 158.49,89.24 158.57,84 158.62,85.13 158.72,91.32 158.83,94.87 158.86,93.33 158.93,94.13 158.99,93.92 159,98.27 159,101.5 159.05,102.6 159.06,103.87 159.11,103.98 159.21,101.23 159.38,97.6 159.43,98.23 159.47,101.45 160.83,99.53 160.85,98.64 160.89,97.65 160.93,95.67 161.1,92.97 161.15,89.09 161.16,89.36 161.25,89.84 161.3,92.7 161.32,94.37 161.34,95.87 161.4,96.62 161.49,98.26 161.58,101.31 161.86,103.91 162.03,103.97 162.03,101.96 162.1,104.15 162.12,104.82 162.19,104.34 162.23,107.09 162.32,106.81 162.36,104.72 162.45,102 162.47,105.28 162.49,108.23 162.55,106.82 162.59,103.92 162.65,98.33 164.04,76.81 164.31,77.17 164.4,76.39 164.44,78.9 164.47,81.38 164.48,81.96 164.52,81.52 164.53,79.5 164.56,80.63 164.57,80.26 164.73,80.1 164.76,78.78 164.78,72.54 164.82,71.12 164.9,66.39 164.92,65.69 164.94,66.92 165.13,27.43 165.19,21.14 165.19,25.75 165.39,26.88 165.53,24.03 165.58,25.21 165.68,25.52 165.7,27.66 165.74,28.03 165.74,29.75 165.74,28.68 165.75,28.11 165.8,29.94 165.84,31.66 165.87,31.5 165.92,27.79 167.06,32.84 167.07,35.36 167.13,37.56 167.32,39.53 167.39,41.53 167.5,39.8 167.54,31.38 167.68,22.83 167.71,19.14 167.79,28.46 167.84,35.32 167.96,34.3 167.98,35.87 168.03,39.56 168.21,41.72 168.21,44.21 168.29,44.57 168.33,40.31 168.39,40.15 168.41,41.09 168.44,42.64 168.49,45.01 168.56,39.16 168.61,32.65 168.76,24.84 168.78,17.16 168.83,12.71 168.84,12.46 168.87,14.73 170.5,24.73 170.54,22.02 170.62,23.25 170.65,34.18 170.73,43.76 170.89,44.64 170.92,47.1 170.99,46.97 170.99,53.21 171.02,53.34 171.35,44.16 171.36,38.11 171.54,32.03 171.58,26.61 171.67,20.38 171.76,29.97 171.76,42.91 171.76,45.38 171.84,50.53 171.89,51.26 171.91,45.21 171.92,41.63 172.01,37.91 172.17,38.58 172.21,40.83 172.25,40.13 172.25,41.84 172.28,40.93 172.33,33.91 172.39,35.59 172.48,35.39 173.3,40.67 173.32,47.19 173.33,41.57 173.39,38.22 173.41,38.45 173.57,38.87 173.58,45.88 173.64,40 173.74,31.27 173.85,29.13 173.96,26.17 173.97,23.35 173.99,13.66 174,25.79 174.02,37.28 174.05,42.39 174.11,37.23 174.13,38.76 174.18,39.18 174.22,42.11 174.45,40.64 174.52,38.25 174.55,39.55 174.72,40.8 174.82,37.18 174.99,35.37 175,33.15 175.07,28.69 175.07,26.8 175.1,24.15 175.1,17.33 175.11,12.75 175.14,24.8" fill="none" stroke="#0000ff" stroke-width="0.85" stroke-linejoin="round"/>
<g fill="#000"><circle cx="32.31" cy="53.94" r="1.42"/><circle cx="32.32" cy="53.93" r="1.42"/><circle cx="32.37" cy="55.66" r="1.42"/><circle cx="32.39" cy="55.79" r="1.42"/><circle cx="32.62" cy="55.66" r="1.42"/><circle cx="32.68" cy="55.77" r="1.42"/><circle cx="32.73" cy="55.96" r="1.42"/><circle cx="32.75" cy="53.75" r="1.42"/><circle cx="32.8" cy="52.38" r="1.42"/><circle cx="32.81" cy="54.09" r="1.42"/><circle cx="32.86" cy="52.42" r="1.42"/><circle cx="32.9" cy="52.86" r="1.42"/><circle cx="32.91" cy="53.58" r="1.42"/><circle cx="33.19" cy="52.1" r="1.42"/><circle cx="33.23" cy="55.39" r="1.42"/><circle cx="33.24" cy="59.23" r="1.42"/><circle cx="33.29" cy="59.36" r="1.42"/><circle cx="33.31" cy="59.47" r="1.42"/><circle cx="33.33" cy="60.39" r="1.42"/><circle cx="33.33" cy="60.48" r="1.42"/><circle cx="33.41" cy="61.32" r="1.42"/><circle cx="33.53" cy="61.29" r="1.42"/><circle cx="33.54" cy="62.42" r="1.42"/><circle cx="33.56" cy="59.73" r="1.42"/><circle cx="33.85" cy="55" r="1.42"/><circle cx="33.89" cy="52.44" r="1.42"/><circle cx="33.89" cy="49.79" r="1.42"/><circle cx="33.94" cy="48.09" r="1.42"/><circle cx="34.05" cy="44.64" r="1.42"/><circle cx="34.09" cy="43.43" r="1.42"/><circle cx="34.13" cy="45.47" r="1.42"/><circle cx="34.28" cy="48.48" r="1.42"/><circle cx="34.29" cy="53.11" r="1.42"/><circle cx="35.25" cy="33.31" r="1.42"/><circle cx="35.26" cy="29.95" r="1.42"/><circle cx="35.28" cy="29.7" r="1.42"/><circle cx="35.46" cy="33.97" r="1.42"/><circle cx="35.49" cy="36.32" r="1.42"/><circle cx="35.56" cy="36.75" r="1.42"/><circle cx="35.58" cy="37.46" r="1.42"/><circle cx="35.63" cy="38.54" r="1.42"/><circle cx="35.68" cy="38.82" r="1.42"/><circle cx="35.8" cy="38.09" r="1.42"/><circle cx="35.84" cy="38.76" r="1.42"/><circle cx="35.94" cy="39.54" r="1.42"/><circle cx="35.95" cy="38.53" r="1.42"/><circle cx="36.02" cy="37.16" r="1.42"/><circle cx="36.14" cy="35.75" r="1.42"/><circle cx="36.3" cy="32.52" r="1.42"/><circle cx="36.3" cy="31.12" r="1.42"/><circle cx="36.34" cy="28.62" r="1.42"/><circle cx="36.34" cy="28.62" r="1.42"/><circle cx="36.48" cy="28.32" r="1.42"/><circle cx="36.52" cy="28.66" r="1.42"/><circle cx="36.54" cy="28.1" r="1.42"/><circle cx="36.7" cy="26.87" r="1.42"/><circle cx="36.89" cy="22.54" r="1.42"/><circle cx="36.95" cy="22.77" r="1.42"/><circle cx="36.95" cy="26.44" r="1.42"/><circle cx="36.97" cy="25.7" r="1.42"/><circle cx="37.01" cy="26.48" r="1.42"/><circle cx="37.06" cy="24.23" r="1.42"/><circle cx="37.09" cy="23.97" r="1.42"/><circle cx="38.4" cy="13.07" r="1.42"/><circle cx="38.44" cy="12.41" r="1.42"/><circle cx="38.52" cy="10.88" r="1.42"/><circle cx="38.71" cy="13.01" r="1.42"/><circle cx="38.73" cy="18.14" r="1.42"/><circle cx="38.8" cy="21.85" r="1.42"/><circle cx="38.84" cy="24.62" r="1.42"/><circle cx="38.97" cy="24.77" r="1.42"/><circle cx="38.98" cy="25.72" r="1.42"/><circle cx="39.1" cy="24.97" r="1.42"/><circle cx="39.12" cy="23.97" r="1.42"/><circle cx="39.15" cy="20.71" r="1.42"/><circle cx="39.16" cy="15.74" r="1.42"/><circle cx="39.19" cy="15.21" r="1.42"/><circle cx="39.33" cy="13.9" r="1.42"/><circle cx="39.34" cy="13.86" r="1.42"/><circle cx="39.34" cy="14.02" r="1.42"/><circle cx="39.46" cy="13.4" r="1.42"/><circle cx="39.56" cy="12.13" r="1.42"/><circle cx="39.65" cy="12.87" r="1.42"/><circle cx="39.73" cy="13.05" r="1.42"/><circle cx="39.79" cy="13.13" r="1.42"/><circle cx="39.91" cy="13.48" r="1.42"/><circle cx="39.98" cy="16.5" r="1.42"/><circle cx="40.06" cy="20.25" r="1.42"/><circle cx="40.09" cy="23.75" r="1.42"/><circle cx="40.13" cy="24.91" r="1.42"/><circle cx="40.15" cy="22.61" r="1.42"/><circle cx="40.2" cy="22.84" r="1.42"/><circle cx="40.2" cy="24.96" r="1.42"/><circle cx="40.24" cy="25.96" r="1.42"/><circle cx="40.26" cy="27.59" r="1.42"/><circle cx="41.28" cy="37.26" r="1.42"/><circle cx="41.3" cy="35.14" r="1.42"/><circle cx="41.39" cy="32.2" r="1.42"/><circle cx="41.43" cy="28.59" r="1.42"/><circle cx="41.46" cy="26.53" r="1.42"/><circle cx="41.58" cy="27.44" r="1.42"/><circle cx="41.59" cy="30.15" r="1.42"/><circle cx="41.83" cy="33.61" r="1.42"/><circle cx="41.84" cy="38.81" r="1.42"/><circle cx="41.88" cy="40.3" r="1.42"/><circle cx="42.28" cy="43.92" r="1.42"/><circle cx="42.35" cy="44.13" r="1.42"/><circle cx="42.35" cy="43.01" r="1.42"/><circle cx="42.42" cy="39.88" r="1.42"/><circle cx="42.42" cy="36.61" r="1.42"/><circle cx="42.45" cy="35.56" r="1.42"/><circle cx="42.48" cy="34.74" r="1.42"/><circle cx="42.52" cy="34.45" r="1.42"/><circle cx="42.52" cy="33.82" r="1.42"/><circle cx="42.73" cy="36.1" r="1.42"/><circle cx="42.79" cy="37.46" r="1.42"/><circle cx="42.79" cy="34.8" r="1.42"/><circle cx="42.8" cy="31.94" r="1.42"/><circle cx="42.82" cy="33.85" r="1.42"/><circle cx="42.91" cy="32.72" r="1.42"/><circle cx="42.93" cy="31.14" r="1.42"/><circle cx="42.97" cy="32.54" r="1.42"/><circle cx="43.08" cy="34.18" r="1.42"/><circle cx="43.12" cy="33.56" r="1.42"/><circle cx="44.33" cy="45.71" r="1.42"/><circle cx="44.36" cy="57.83" r="1.42"/><circle cx="44.36" cy="70.42" r="1.42"/><circle cx="44.39" cy="77.33" r="1.42"/><circle cx="44.45" cy="70.45" r="1.42"/><circle cx="44.46" cy="65.53" r="1.42"/><circle cx="44.46" cy="62.62" r="1.42"/><circle cx="44.47" cy="59.46" r="1.42"/><circle cx="44.57" cy="56.43" r="1.42"/><circle cx="44.57" cy="54.63" r="1.42"/><circle cx="44.58" cy="59.46" r="1.42"/><circle cx="44.73" cy="65.15" r="1.42"/><circle cx="44.74" cy="68.83" r="1.42"/><circle cx="44.81" cy="68.89" r="1.42"/><circle cx="44.94" cy="66.12" r="1.42"/><circle cx="44.95" cy="70.15" r="1.42"/><circle cx="45.07" cy="74.64" r="1.42"/><circle cx="45.24" cy="77.57" r="1.42"/><circle cx="45.27" cy="77.65" r="1.42"/><circle cx="45.44" cy="72.7" r="1.42"/><circle cx="45.55" cy="68.38" r="1.42"/><circle cx="45.62" cy="68.36" r="1.42"/><circle cx="45.65" cy="66.51" r="1.42"/><circle cx="45.7" cy="64.04" r="1.42"/><circle cx="45.71" cy="61.27" r="1.42"/><circle cx="45.73" cy="59.66" r="1.42"/><circle cx="45.75" cy="52.33" r="1.42"/><circle cx="45.85" cy="46.46" r="1.42"/><circle cx="45.87" cy="42.54" r="1.42"/><circle cx="45.97" cy="51.75" r="1.42"/><circle cx="45.99" cy="55.72" r="1.42"/><circle cx="46.01" cy="61.02" r="1.42"/><circle cx="47.87" cy="88.84" r="1.42"/><circle cx="47.87" cy="89.78" r="1.42"/><circle cx="47.91" cy="88.63" r="1.42"/><circle cx="47.94" cy="86.44" r="1.42"/><circle cx="48.03" cy="85.94" r="1.42"/><circle cx="48.05" cy="84.75" r="1.42"/><circle cx="48.15" cy="84.96" r="1.42"/><circle cx="48.18" cy="85.5" r="1.42"/><circle cx="48.23" cy="85.45" r="1.42"/><circle cx="48.25" cy="85.25" r="1.42"/><circle cx="48.29" cy="85.76" r="1.42"/><circle cx="48.42" cy="86.61" r="1.42"/><circle cx="48.43" cy="87.81" r="1.42"/><circle cx="48.59" cy="93.74" r="1.42"/><circle cx="48.69" cy="99.04" r="1.42"/><circle cx="48.71" cy="98.21" r="1.42"/><circle cx="48.75" cy="92.15" r="1.42"/><circle cx="48.95" cy="89.62" r="1.42"/><circle cx="49.24" cy="84.44" r="1.42"/><circle cx="49.3" cy="86.67" r="1.42"/><circle cx="49.34" cy="94.64" r="1.42"/><circle cx="49.58" cy="103.17" r="1.42"/><circle cx="49.63" cy="103.84" r="1.42"/><circle cx="49.63" cy="96.57" r="1.42"/><circle cx="49.78" cy="91.31" r="1.42"/><circle cx="49.79" cy="85.67" r="1.42"/><circle cx="51.13" cy="102.4" r="1.42"/><circle cx="51.18" cy="100.96" r="1.42"/><circle cx="51.31" cy="102.87" r="1.42"/><circle cx="51.33" cy="105.46" r="1.42"/><circle cx="51.34" cy="109.91" r="1.42"/><circle cx="51.47" cy="112.7" r="1.42"/><circle cx="51.56" cy="114.05" r="1.42"/><circle cx="51.6" cy="112.75" r="1.42"/><circle cx="51.66" cy="116.41" r="1.42"/><circle cx="51.93" cy="119.03" r="1.42"/><circle cx="52.03" cy="117.35" r="1.42"/><circle cx="52.15" cy="113.26" r="1.42"/><circle cx="52.19" cy="110.43" r="1.42"/><circle cx="52.2" cy="105.28" r="1.42"/><circle cx="52.29" cy="103.45" r="1.42"/><circle cx="52.36" cy="108.78" r="1.42"/><circle cx="52.41" cy="110.39" r="1.42"/><circle cx="52.42" cy="113.57" r="1.42"/><circle cx="52.47" cy="116.54" r="1.42"/><circle cx="52.51" cy="116.55" r="1.42"/><circle cx="52.52" cy="115.39" r="1.42"/><circle cx="52.52" cy="113.56" r="1.42"/><circle cx="52.6" cy="112.26" r="1.42"/><circle cx="52.61" cy="110.21" r="1.42"/><circle cx="52.66" cy="107.36" r="1.42"/><circle cx="52.7" cy="104.95" r="1.42"/><circle cx="52.76" cy="104.88" r="1.42"/><circle cx="52.84" cy="105.39" r="1.42"/><circle cx="52.87" cy="105.92" r="1.42"/><circle cx="52.9" cy="108.25" r="1.42"/><circle cx="52.93" cy="107.26" r="1.42"/><circle cx="54.67" cy="78.72" r="1.42"/><circle cx="55.28" cy="67.91" r="1.42"/><circle cx="55.36" cy="68.73" r="1.42"/><circle cx="55.36" cy="67.53" r="1.42"/><circle cx="55.38" cy="63.92" r="1.42"/><circle cx="55.39" cy="64.61" r="1.42"/><circle cx="55.41" cy="62.39" r="1.42"/><circle cx="55.49" cy="62.27" r="1.42"/><circle cx="55.53" cy="59.38" r="1.42"/><circle cx="55.53" cy="61.75" r="1.42"/><circle cx="55.61" cy="60.76" r="1.42"/><circle cx="55.71" cy="73.39" r="1.42"/><circle cx="55.72" cy="81.84" r="1.42"/><circle cx="55.84" cy="88.97" r="1.42"/><circle cx="55.88" cy="93.6" r="1.42"/><circle cx="55.96" cy="97.12" r="1.42"/><circle cx="56.01" cy="99.21" r="1.42"/><circle cx="56.03" cy="97.29" r="1.42"/><circle cx="56.09" cy="84.97" r="1.42"/><circle cx="56.1" cy="68.74" r="1.42"/><circle cx="56.11" cy="61.15" r="1.42"/><circle cx="56.17" cy="67.21" r="1.42"/><circle cx="56.21" cy="75.52" r="1.42"/><circle cx="56.24" cy="85.45" r="1.42"/><circle cx="56.25" cy="87.96" r="1.42"/><circle cx="56.29" cy="83.06" r="1.42"/><circle cx="56.32" cy="77.77" r="1.42"/><circle cx="57.61" cy="77.39" r="1.42"/><circle cx="57.62" cy="74.22" r="1.42"/><circle cx="57.63" cy="67.8" r="1.42"/><circle cx="57.89" cy="62.58" r="1.42"/><circle cx="57.9" cy="57.01" r="1.42"/><circle cx="57.91" cy="63.02" r="1.42"/><circle cx="57.99" cy="68.02" r="1.42"/><circle cx="58.01" cy="65.82" r="1.42"/><circle cx="58.02" cy="65.12" r="1.42"/><circle cx="58.08" cy="59.03" r="1.42"/><circle cx="58.11" cy="61.35" r="1.42"/><circle cx="58.13" cy="65.34" r="1.42"/><circle cx="58.25" cy="59.25" r="1.42"/><circle cx="58.25" cy="57.89" r="1.42"/><circle cx="58.35" cy="61.72" r="1.42"/><circle cx="58.39" cy="64.49" r="1.42"/><circle cx="58.45" cy="65.15" r="1.42"/><circle cx="58.55" cy="64.5" r="1.42"/><circle cx="58.59" cy="60.16" r="1.42"/><circle cx="58.76" cy="57.41" r="1.42"/><circle cx="58.77" cy="58.35" r="1.42"/><circle cx="58.79" cy="60.31" r="1.42"/><circle cx="58.87" cy="57.04" r="1.42"/><circle cx="58.91" cy="61.44" r="1.42"/><circle cx="58.92" cy="66.02" r="1.42"/><circle cx="58.97" cy="69.22" r="1.42"/><circle cx="59.04" cy="69.93" r="1.42"/><circle cx="59.04" cy="73.39" r="1.42"/><circle cx="59.13" cy="68.49" r="1.42"/><circle cx="59.42" cy="67.54" r="1.42"/><circle cx="61" cy="109" r="1.42"/><circle cx="61.04" cy="62.13" r="1.42"/><circle cx="61.06" cy="64.94" r="1.42"/><circle cx="61.1" cy="68.08" r="1.42"/><circle cx="61.23" cy="75.39" r="1.42"/><circle cx="61.32" cy="77.28" r="1.42"/><circle cx="61.43" cy="78.5" r="1.42"/><circle cx="61.63" cy="82.8" r="1.42"/><circle cx="61.67" cy="88.47" r="1.42"/><circle cx="61.84" cy="97.14" r="1.42"/><circle cx="62.03" cy="101.48" r="1.42"/><circle cx="62.14" cy="93.88" r="1.42"/><circle cx="62.2" cy="89.52" r="1.42"/><circle cx="62.22" cy="81.39" r="1.42"/><circle cx="62.22" cy="67.94" r="1.42"/><circle cx="62.33" cy="61.4" r="1.42"/><circle cx="62.33" cy="57.19" r="1.42"/><circle cx="62.34" cy="57.51" r="1.42"/><circle cx="62.36" cy="62.89" r="1.42"/><circle cx="62.54" cy="66.51" r="1.42"/><circle cx="62.63" cy="66.89" r="1.42"/><circle cx="62.66" cy="63.72" r="1.42"/><circle cx="62.77" cy="62.29" r="1.42"/><circle cx="62.79" cy="70.1" r="1.42"/><circle cx="62.83" cy="80.25" r="1.42"/><circle cx="62.85" cy="89.3" r="1.42"/><circle cx="62.9" cy="92.68" r="1.42"/><circle cx="62.91" cy="94.54" r="1.42"/><circle cx="62.98" cy="98.78" r="1.42"/><circle cx="64.55" cy="99.65" r="1.42"/><circle cx="64.57" cy="102.6" r="1.42"/><circle cx="64.67" cy="102.71" r="1.42"/><circle cx="64.91" cy="99.08" r="1.42"/><circle cx="65.05" cy="91.09" r="1.42"/><circle cx="65.06" cy="80.96" r="1.42"/><circle cx="65.09" cy="74.57" r="1.42"/><circle cx="65.13" cy="66.96" r="1.42"/><circle cx="65.26" cy="65.11" r="1.42"/><circle cx="65.27" cy="65.57" r="1.42"/><circle cx="65.4" cy="62.23" r="1.42"/><circle cx="65.41" cy="60.87" r="1.42"/><circle cx="65.44" cy="59.04" r="1.42"/><circle cx="65.53" cy="62.78" r="1.42"/><circle cx="65.6" cy="63.24" r="1.42"/><circle cx="65.72" cy="62.23" r="1.42"/><circle cx="65.76" cy="67.79" r="1.42"/><circle cx="65.77" cy="82.57" r="1.42"/><circle cx="65.9" cy="102.31" r="1.42"/><circle cx="65.93" cy="90.08" r="1.42"/><circle cx="65.95" cy="80.89" r="1.42"/><circle cx="65.96" cy="81.29" r="1.42"/><circle cx="65.98" cy="80.95" r="1.42"/><circle cx="66.02" cy="76.18" r="1.42"/><circle cx="66.03" cy="73.43" r="1.42"/><circle cx="66.19" cy="73.79" r="1.42"/><circle cx="66.22" cy="70.49" r="1.42"/><circle cx="66.22" cy="60.92" r="1.42"/><circle cx="66.43" cy="65.82" r="1.42"/><circle cx="67.58" cy="71.06" r="1.42"/><circle cx="67.66" cy="79.49" r="1.42"/><circle cx="67.77" cy="83.24" r="1.42"/><circle cx="67.81" cy="94.66" r="1.42"/><circle cx="67.83" cy="95.84" r="1.42"/><circle cx="67.9" cy="86.64" r="1.42"/><circle cx="68.14" cy="82.91" r="1.42"/><circle cx="68.15" cy="70.78" r="1.42"/><circle cx="68.28" cy="65.34" r="1.42"/><circle cx="68.31" cy="61.13" r="1.42"/><circle cx="68.48" cy="48.94" r="1.42"/><circle cx="68.59" cy="27.85" r="1.42"/><circle cx="68.6" cy="29.86" r="1.42"/><circle cx="68.64" cy="22.83" r="1.42"/><circle cx="68.64" cy="20.67" r="1.42"/><circle cx="68.66" cy="21.87" r="1.42"/><circle cx="68.67" cy="24.32" r="1.42"/><circle cx="68.68" cy="23.69" r="1.42"/><circle cx="68.74" cy="22.28" r="1.42"/><circle cx="68.79" cy="28.26" r="1.42"/><circle cx="68.97" cy="44.56" r="1.42"/><circle cx="69" cy="57.73" r="1.42"/><circle cx="69.11" cy="72.74" r="1.42"/><circle cx="69.13" cy="52.83" r="1.42"/><circle cx="69.41" cy="37.97" r="1.42"/><circle cx="71.03" cy="37.79" r="1.42"/><circle cx="71.07" cy="34.8" r="1.42"/><circle cx="71.1" cy="38.05" r="1.42"/><circle cx="71.26" cy="42.17" r="1.42"/><circle cx="71.28" cy="45.95" r="1.42"/><circle cx="71.28" cy="57.06" r="1.42"/><circle cx="71.32" cy="60.96" r="1.42"/><circle cx="71.33" cy="63.61" r="1.42"/><circle cx="71.43" cy="62.01" r="1.42"/><circle cx="71.51" cy="68.27" r="1.42"/><circle cx="71.51" cy="61.34" r="1.42"/><circle cx="71.56" cy="52.12" r="1.42"/><circle cx="71.57" cy="42.38" r="1.42"/><circle cx="71.62" cy="39.09" r="1.42"/><circle cx="71.62" cy="40.28" r="1.42"/><circle cx="71.66" cy="48.89" r="1.42"/><circle cx="71.71" cy="46.48" r="1.42"/><circle cx="71.81" cy="48.78" r="1.42"/><circle cx="71.81" cy="48.74" r="1.42"/><circle cx="71.91" cy="45" r="1.42"/><circle cx="71.93" cy="45.27" r="1.42"/><circle cx="72.02" cy="40.52" r="1.42"/><circle cx="72.17" cy="26.11" r="1.42"/><circle cx="72.32" cy="23.48" r="1.42"/><circle cx="72.47" cy="24.63" r="1.42"/><circle cx="72.51" cy="22.81" r="1.42"/><circle cx="72.51" cy="24.43" r="1.42"/><circle cx="72.56" cy="28.15" r="1.42"/><circle cx="72.62" cy="40.11" r="1.42"/><circle cx="72.74" cy="47.88" r="1.42"/><circle cx="72.77" cy="45.12" r="1.42"/><circle cx="72.84" cy="39.08" r="1.42"/><circle cx="75.02" cy="31.53" r="1.42"/><circle cx="75.18" cy="28.6" r="1.42"/><circle cx="75.27" cy="27.5" r="1.42"/><circle cx="75.36" cy="24.76" r="1.42"/><circle cx="75.37" cy="25.83" r="1.42"/><circle cx="75.46" cy="24.39" r="1.42"/><circle cx="75.51" cy="24.01" r="1.42"/><circle cx="75.55" cy="29.13" r="1.42"/><circle cx="75.65" cy="43.97" r="1.42"/><circle cx="75.65" cy="50.55" r="1.42"/><circle cx="75.65" cy="53.14" r="1.42"/><circle cx="75.67" cy="51.21" r="1.42"/><circle cx="75.71" cy="52.77" r="1.42"/><circle cx="75.77" cy="48.86" r="1.42"/><circle cx="75.8" cy="43.88" r="1.42"/><circle cx="75.84" cy="40.2" r="1.42"/><circle cx="76.03" cy="33.71" r="1.42"/><circle cx="76.17" cy="25.54" r="1.42"/><circle cx="76.24" cy="29.53" r="1.42"/><circle cx="76.41" cy="26.61" r="1.42"/><circle cx="76.41" cy="28.71" r="1.42"/><circle cx="76.42" cy="32.91" r="1.42"/><circle cx="76.5" cy="37.01" r="1.42"/><circle cx="76.78" cy="39.5" r="1.42"/><circle cx="76.79" cy="34.22" r="1.42"/><circle cx="78.21" cy="52.44" r="1.42"/><circle cx="78.22" cy="50.75" r="1.42"/><circle cx="78.25" cy="54.31" r="1.42"/><circle cx="78.26" cy="68.14" r="1.42"/><circle cx="78.26" cy="78.33" r="1.42"/><circle cx="78.27" cy="68.95" r="1.42"/><circle cx="78.34" cy="62.39" r="1.42"/><circle cx="78.35" cy="66.94" r="1.42"/><circle cx="78.39" cy="64.65" r="1.42"/><circle cx="78.45" cy="61.94" r="1.42"/><circle cx="78.6" cy="62.11" r="1.42"/><circle cx="78.61" cy="65.89" r="1.42"/><circle cx="78.64" cy="65.73" r="1.42"/><circle cx="78.69" cy="66.77" r="1.42"/><circle cx="78.84" cy="65.47" r="1.42"/><circle cx="78.86" cy="64.68" r="1.42"/><circle cx="78.87" cy="62.93" r="1.42"/><circle cx="78.87" cy="55.11" r="1.42"/><circle cx="79.07" cy="49.28" r="1.42"/><circle cx="79.3" cy="49.97" r="1.42"/><circle cx="79.47" cy="45.37" r="1.42"/><circle cx="79.47" cy="41.05" r="1.42"/><circle cx="79.62" cy="42.02" r="1.42"/><circle cx="80" cy="37.37" r="1.42"/><circle cx="80.05" cy="35.64" r="1.42"/><circle cx="80.12" cy="29.36" r="1.42"/><circle cx="80.92" cy="13.89" r="1.42"/><circle cx="80.99" cy="12.36" r="1.42"/><circle cx="81.01" cy="25.44" r="1.42"/><circle cx="81.09" cy="34.99" r="1.42"/><circle cx="81.15" cy="33.32" r="1.42"/><circle cx="81.2" cy="30.12" r="1.42"/><circle cx="81.3" cy="34.86" r="1.42"/><circle cx="81.39" cy="46.93" r="1.42"/><circle cx="81.46" cy="52.61" r="1.42"/><circle cx="81.52" cy="59.22" r="1.42"/><circle cx="81.53" cy="68.36" r="1.42"/><circle cx="81.71" cy="69.57" r="1.42"/><circle cx="81.71" cy="71.94" r="1.42"/><circle cx="81.77" cy="72.36" r="1.42"/><circle cx="81.79" cy="67.89" r="1.42"/><circle cx="81.91" cy="60.38" r="1.42"/><circle cx="81.91" cy="54.85" r="1.42"/><circle cx="81.91" cy="50.69" r="1.42"/><circle cx="81.91" cy="43.59" r="1.42"/><circle cx="81.92" cy="35.61" r="1.42"/><circle cx="82.06" cy="37.95" r="1.42"/><circle cx="82.32" cy="41.41" r="1.42"/><circle cx="82.57" cy="50.17" r="1.42"/><circle cx="82.63" cy="64.58" r="1.42"/><circle cx="82.64" cy="78.26" r="1.42"/><circle cx="82.69" cy="57.53" r="1.42"/><circle cx="82.78" cy="33.93" r="1.42"/><circle cx="82.8" cy="22.97" r="1.42"/><circle cx="82.8" cy="13.79" r="1.42"/><circle cx="82.86" cy="21.26" r="1.42"/><circle cx="82.88" cy="39.33" r="1.42"/><circle cx="84.71" cy="41.52" r="1.42"/><circle cx="84.74" cy="41.15" r="1.42"/><circle cx="84.8" cy="35.94" r="1.42"/><circle cx="84.85" cy="38.84" r="1.42"/><circle cx="84.86" cy="39.03" r="1.42"/><circle cx="84.96" cy="42.36" r="1.42"/><circle cx="85" cy="40.21" r="1.42"/><circle cx="85.01" cy="41.19" r="1.42"/><circle cx="85.12" cy="44.58" r="1.42"/><circle cx="85.18" cy="44.77" r="1.42"/><circle cx="85.3" cy="57.06" r="1.42"/><circle cx="85.36" cy="67.84" r="1.42"/><circle cx="85.64" cy="74.61" r="1.42"/><circle cx="85.64" cy="66.67" r="1.42"/><circle cx="85.68" cy="56.4" r="1.42"/><circle cx="85.84" cy="46.51" r="1.42"/><circle cx="85.85" cy="42.12" r="1.42"/><circle cx="85.94" cy="39.66" r="1.42"/><circle cx="86.2" cy="38.61" r="1.42"/><circle cx="86.21" cy="36.65" r="1.42"/><circle cx="86.21" cy="25.12" r="1.42"/><circle cx="86.34" cy="25.5" r="1.42"/><circle cx="86.36" cy="22.38" r="1.42"/><circle cx="86.38" cy="29.93" r="1.42"/><circle cx="86.44" cy="31.91" r="1.42"/><circle cx="86.45" cy="29.86" r="1.42"/><circle cx="86.52" cy="27.91" r="1.42"/><circle cx="86.54" cy="29.02" r="1.42"/><circle cx="86.56" cy="22.23" r="1.42"/><circle cx="88.17" cy="43.64" r="1.42"/><circle cx="88.22" cy="46.92" r="1.42"/><circle cx="88.23" cy="53.58" r="1.42"/><circle cx="88.28" cy="55.66" r="1.42"/><circle cx="88.35" cy="54.83" r="1.42"/><circle cx="88.51" cy="57.78" r="1.42"/><circle cx="88.64" cy="63.24" r="1.42"/><circle cx="88.78" cy="65.73" r="1.42"/><circle cx="88.83" cy="63.21" r="1.42"/><circle cx="88.85" cy="55.6" r="1.42"/><circle cx="88.86" cy="47.77" r="1.42"/><circle cx="88.94" cy="51.58" r="1.42"/><circle cx="89.02" cy="64.35" r="1.42"/><circle cx="89.03" cy="71.11" r="1.42"/><circle cx="89.08" cy="77.37" r="1.42"/><circle cx="89.12" cy="71.85" r="1.42"/><circle cx="89.13" cy="68.01" r="1.42"/><circle cx="89.18" cy="60.72" r="1.42"/><circle cx="89.26" cy="58.73" r="1.42"/><circle cx="89.28" cy="61.68" r="1.42"/><circle cx="89.44" cy="61.04" r="1.42"/><circle cx="89.44" cy="57.07" r="1.42"/><circle cx="89.46" cy="53.99" r="1.42"/><circle cx="89.53" cy="46.14" r="1.42"/><circle cx="89.56" cy="46.55" r="1.42"/><circle cx="89.61" cy="47.46" r="1.42"/><circle cx="89.62" cy="49.7" r="1.42"/><circle cx="89.73" cy="50.78" r="1.42"/><circle cx="89.75" cy="51.15" r="1.42"/><circle cx="89.98" cy="52.44" r="1.42"/><circle cx="91.53" cy="56.76" r="1.42"/><circle cx="91.61" cy="59.31" r="1.42"/><circle cx="91.62" cy="60.76" r="1.42"/><circle cx="91.67" cy="60.7" r="1.42"/><circle cx="91.69" cy="63.49" r="1.42"/><circle cx="91.74" cy="61.41" r="1.42"/><circle cx="91.79" cy="64.88" r="1.42"/><circle cx="91.89" cy="67.37" r="1.42"/><circle cx="91.89" cy="66.15" r="1.42"/><circle cx="92.03" cy="63.28" r="1.42"/><circle cx="92.09" cy="58.64" r="1.42"/><circle cx="92.15" cy="56" r="1.42"/><circle cx="92.4" cy="51.67" r="1.42"/><circle cx="92.42" cy="53.17" r="1.42"/><circle cx="92.53" cy="51.69" r="1.42"/><circle cx="92.6" cy="43.39" r="1.42"/><circle cx="92.66" cy="47.95" r="1.42"/><circle cx="92.68" cy="44.34" r="1.42"/><circle cx="92.68" cy="43.72" r="1.42"/><circle cx="92.76" cy="49.83" r="1.42"/><circle cx="92.93" cy="57.09" r="1.42"/><circle cx="92.99" cy="57.55" r="1.42"/><circle cx="93" cy="55.22" r="1.42"/><circle cx="93.04" cy="60.37" r="1.42"/><circle cx="93.07" cy="65.3" r="1.42"/><circle cx="93.21" cy="68.72" r="1.42"/><circle cx="93.24" cy="74.8" r="1.42"/><circle cx="93.25" cy="72.28" r="1.42"/><circle cx="93.28" cy="67.35" r="1.42"/><circle cx="93.29" cy="64.08" r="1.42"/><circle cx="93.36" cy="62.93" r="1.42"/><circle cx="93.47" cy="64.33" r="1.42"/><circle cx="94.43" cy="66.05" r="1.42"/><circle cx="94.47" cy="55.78" r="1.42"/><circle cx="94.55" cy="46.65" r="1.42"/><circle cx="94.56" cy="42.34" r="1.42"/><circle cx="94.62" cy="37.81" r="1.42"/><circle cx="94.79" cy="39.52" r="1.42"/><circle cx="94.82" cy="45.52" r="1.42"/><circle cx="94.91" cy="50.68" r="1.42"/><circle cx="94.94" cy="54.54" r="1.42"/><circle cx="95.1" cy="45.63" r="1.42"/><circle cx="95.12" cy="39.14" r="1.42"/><circle cx="95.25" cy="39.97" r="1.42"/><circle cx="95.26" cy="44.06" r="1.42"/><circle cx="95.28" cy="49.42" r="1.42"/><circle cx="95.3" cy="58.17" r="1.42"/><circle cx="95.3" cy="112" r="1.42"/><circle cx="95.32" cy="70.67" r="1.42"/><circle cx="95.41" cy="76.32" r="1.42"/><circle cx="95.5" cy="130.5" r="1.42"/><circle cx="95.58" cy="86.04" r="1.42"/><circle cx="95.6" cy="118" r="1.42"/><circle cx="95.8" cy="124" r="1.42"/><circle cx="95.9" cy="139.8" r="1.42"/><circle cx="95.9" cy="99.92" r="1.42"/><circle cx="96.05" cy="83.99" r="1.42"/><circle cx="96.07" cy="80.78" r="1.42"/><circle cx="96.13" cy="76.99" r="1.42"/><circle cx="96.13" cy="72.75" r="1.42"/><circle cx="96.15" cy="74.85" r="1.42"/><circle cx="96.23" cy="67.19" r="1.42"/><circle cx="96.28" cy="63.04" r="1.42"/><circle cx="97.52" cy="78.13" r="1.42"/><circle cx="97.59" cy="89.34" r="1.42"/><circle cx="97.59" cy="81.19" r="1.42"/><circle cx="97.6" cy="66.4" r="1.42"/><circle cx="97.6" cy="54.99" r="1.42"/><circle cx="97.68" cy="48.72" r="1.42"/><circle cx="97.75" cy="43.02" r="1.42"/><circle cx="97.75" cy="44.42" r="1.42"/><circle cx="97.84" cy="44.35" r="1.42"/><circle cx="97.87" cy="40.45" r="1.42"/><circle cx="97.97" cy="45.58" r="1.42"/><circle cx="98.07" cy="52.72" r="1.42"/><circle cx="98.15" cy="59.21" r="1.42"/><circle cx="98.23" cy="68.22" r="1.42"/><circle cx="98.32" cy="79.3" r="1.42"/><circle cx="98.5" cy="79.88" r="1.42"/><circle cx="98.51" cy="61.48" r="1.42"/><circle cx="98.57" cy="45.09" r="1.42"/><circle cx="98.59" cy="44.16" r="1.42"/><circle cx="98.7" cy="49.86" r="1.42"/><circle cx="98.73" cy="55.31" r="1.42"/><circle cx="98.81" cy="64.96" r="1.42"/><circle cx="98.84" cy="69.51" r="1.42"/><circle cx="98.94" cy="67.23" r="1.42"/><circle cx="98.97" cy="74.66" r="1.42"/><circle cx="98.97" cy="77.39" r="1.42"/><circle cx="99.28" cy="73.03" r="1.42"/><circle cx="99.29" cy="70.5" r="1.42"/><circle cx="99.32" cy="70.26" r="1.42"/><circle cx="99.33" cy="66.47" r="1.42"/><circle cx="99.38" cy="67.16" r="1.42"/><circle cx="99.5" cy="65.17" r="1.42"/><circle cx="100.42" cy="64.28" r="1.42"/><circle cx="100.47" cy="64.66" r="1.42"/><circle cx="100.48" cy="62.34" r="1.42"/><circle cx="100.58" cy="60.46" r="1.42"/><circle cx="100.7" cy="66.54" r="1.42"/><circle cx="100.75" cy="62.86" r="1.42"/><circle cx="100.83" cy="61.33" r="1.42"/><circle cx="100.94" cy="56.04" r="1.42"/><circle cx="100.95" cy="53.29" r="1.42"/><circle cx="101.03" cy="55.48" r="1.42"/><circle cx="101.19" cy="57.02" r="1.42"/><circle cx="101.23" cy="61.84" r="1.42"/><circle cx="101.32" cy="57.96" r="1.42"/><circle cx="101.38" cy="60.38" r="1.42"/><circle cx="101.45" cy="59.38" r="1.42"/><circle cx="101.53" cy="61.58" r="1.42"/><circle cx="101.55" cy="63.98" r="1.42"/><circle cx="101.57" cy="53.7" r="1.42"/><circle cx="101.62" cy="43.11" r="1.42"/><circle cx="101.63" cy="38.78" r="1.42"/><circle cx="101.63" cy="51.06" r="1.42"/><circle cx="101.63" cy="61.63" r="1.42"/><circle cx="101.66" cy="70.39" r="1.42"/><circle cx="101.72" cy="69.83" r="1.42"/><circle cx="101.75" cy="75.65" r="1.42"/><circle cx="101.79" cy="80.43" r="1.42"/><circle cx="101.88" cy="71.2" r="1.42"/><circle cx="101.89" cy="63.14" r="1.42"/><circle cx="101.92" cy="49.8" r="1.42"/><circle cx="102.04" cy="48.26" r="1.42"/><circle cx="102.14" cy="62.13" r="1.42"/><circle cx="102.22" cy="76.99" r="1.42"/><circle cx="102.23" cy="95.82" r="1.42"/><circle cx="104.44" cy="94.98" r="1.42"/><circle cx="104.67" cy="93.89" r="1.42"/><circle cx="104.68" cy="96.33" r="1.42"/><circle cx="104.84" cy="100.89" r="1.42"/><circle cx="104.87" cy="91.25" r="1.42"/><circle cx="104.98" cy="81.48" r="1.42"/><circle cx="104.98" cy="76.81" r="1.42"/><circle cx="105" cy="69.47" r="1.42"/><circle cx="105.13" cy="50.17" r="1.42"/><circle cx="105.14" cy="42.72" r="1.42"/><circle cx="105.19" cy="59.58" r="1.42"/><circle cx="105.27" cy="82.64" r="1.42"/><circle cx="105.29" cy="84.36" r="1.42"/><circle cx="105.33" cy="102.36" r="1.42"/><circle cx="105.56" cy="103.3" r="1.42"/><circle cx="105.62" cy="104.55" r="1.42"/><circle cx="105.65" cy="100.04" r="1.42"/><circle cx="105.69" cy="101.42" r="1.42"/><circle cx="105.72" cy="102.23" r="1.42"/><circle cx="105.75" cy="94.79" r="1.42"/><circle cx="105.79" cy="92.54" r="1.42"/><circle cx="105.83" cy="86.16" r="1.42"/><circle cx="105.88" cy="67.22" r="1.42"/><circle cx="105.89" cy="69.87" r="1.42"/><circle cx="105.98" cy="76.82" r="1.42"/><circle cx="106" cy="91" r="1.42"/><circle cx="106" cy="104.7" r="1.42"/><circle cx="106.04" cy="95.74" r="1.42"/><circle cx="106.04" cy="102.82" r="1.42"/><circle cx="106.14" cy="102.79" r="1.42"/><circle cx="106.25" cy="99.15" r="1.42"/><circle cx="106.37" cy="93.97" r="1.42"/><circle cx="106.37" cy="84.12" r="1.42"/><circle cx="106.38" cy="76.24" r="1.42"/><circle cx="107.3" cy="118.7" r="1.42"/><circle cx="107.87" cy="76.32" r="1.42"/><circle cx="107.91" cy="80.7" r="1.42"/><circle cx="107.91" cy="85.17" r="1.42"/><circle cx="107.98" cy="89.47" r="1.42"/><circle cx="108.09" cy="94.86" r="1.42"/><circle cx="108.09" cy="95.84" r="1.42"/><circle cx="108.16" cy="94.33" r="1.42"/><circle cx="108.31" cy="85.55" r="1.42"/><circle cx="108.31" cy="77.28" r="1.42"/><circle cx="108.37" cy="65.58" r="1.42"/><circle cx="108.4" cy="66.76" r="1.42"/><circle cx="108.41" cy="69.39" r="1.42"/><circle cx="108.51" cy="72.25" r="1.42"/><circle cx="108.56" cy="76.64" r="1.42"/><circle cx="108.58" cy="74.1" r="1.42"/><circle cx="108.71" cy="69.2" r="1.42"/><circle cx="108.72" cy="62.27" r="1.42"/><circle cx="108.99" cy="62.76" r="1.42"/><circle cx="109.22" cy="71.47" r="1.42"/><circle cx="109.3" cy="81.78" r="1.42"/><circle cx="109.41" cy="87.79" r="1.42"/><circle cx="109.43" cy="98.08" r="1.42"/><circle cx="109.58" cy="98.52" r="1.42"/><circle cx="109.6" cy="103.48" r="1.42"/><circle cx="109.63" cy="95.59" r="1.42"/><circle cx="109.68" cy="77.73" r="1.42"/><circle cx="111.87" cy="112.81" r="1.42"/><circle cx="111.95" cy="127.49" r="1.42"/><circle cx="112.01" cy="128.24" r="1.42"/><circle cx="112.16" cy="118.85" r="1.42"/><circle cx="112.35" cy="111.44" r="1.42"/><circle cx="112.36" cy="101.73" r="1.42"/><circle cx="112.39" cy="96.14" r="1.42"/><circle cx="112.4" cy="100.09" r="1.42"/><circle cx="112.42" cy="101.91" r="1.42"/><circle cx="112.43" cy="101.89" r="1.42"/><circle cx="112.5" cy="105.97" r="1.42"/><circle cx="112.58" cy="107.76" r="1.42"/><circle cx="112.64" cy="108.54" r="1.42"/><circle cx="112.68" cy="103.95" r="1.42"/><circle cx="112.76" cy="108.8" r="1.42"/><circle cx="112.99" cy="115.94" r="1.42"/><circle cx="113.09" cy="129.27" r="1.42"/><circle cx="113.15" cy="142.23" r="1.42"/><circle cx="113.17" cy="129.28" r="1.42"/><circle cx="113.2" cy="117.02" r="1.42"/><circle cx="113.25" cy="111.8" r="1.42"/><circle cx="113.29" cy="121.12" r="1.42"/><circle cx="113.31" cy="122.03" r="1.42"/><circle cx="113.34" cy="128.3" r="1.42"/><circle cx="113.41" cy="140.89" r="1.42"/><circle cx="113.51" cy="140.15" r="1.42"/><circle cx="113.65" cy="136.79" r="1.42"/><circle cx="113.79" cy="140.24" r="1.42"/><circle cx="114.84" cy="117.03" r="1.42"/><circle cx="114.85" cy="115.06" r="1.42"/><circle cx="115.01" cy="104.02" r="1.42"/><circle cx="115.08" cy="95.9" r="1.42"/><circle cx="115.13" cy="86.4" r="1.42"/><circle cx="115.24" cy="93.23" r="1.42"/><circle cx="115.33" cy="105.17" r="1.42"/><circle cx="115.33" cy="109.5" r="1.42"/><circle cx="115.4" cy="108.59" r="1.42"/><circle cx="115.44" cy="113.11" r="1.42"/><circle cx="115.47" cy="116.44" r="1.42"/><circle cx="115.57" cy="121.07" r="1.42"/><circle cx="115.68" cy="116.36" r="1.42"/><circle cx="115.72" cy="109.09" r="1.42"/><circle cx="115.73" cy="103.37" r="1.42"/><circle cx="115.76" cy="103.99" r="1.42"/><circle cx="115.78" cy="107.99" r="1.42"/><circle cx="115.87" cy="110.91" r="1.42"/><circle cx="115.88" cy="112.88" r="1.42"/><circle cx="116.11" cy="114" r="1.42"/><circle cx="116.33" cy="112.38" r="1.42"/><circle cx="116.4" cy="118.16" r="1.42"/><circle cx="116.42" cy="121.81" r="1.42"/><circle cx="116.43" cy="119.48" r="1.42"/><circle cx="116.45" cy="115.43" r="1.42"/><circle cx="116.46" cy="114.94" r="1.42"/><circle cx="116.48" cy="116.73" r="1.42"/><circle cx="116.52" cy="117.1" r="1.42"/><circle cx="116.52" cy="114.31" r="1.42"/><circle cx="116.53" cy="112.09" r="1.42"/><circle cx="116.58" cy="103.87" r="1.42"/><circle cx="116.68" cy="93.11" r="1.42"/><circle cx="116.71" cy="88.89" r="1.42"/><circle cx="117.84" cy="92.68" r="1.42"/><circle cx="117.87" cy="94.42" r="1.42"/><circle cx="118.04" cy="95.26" r="1.42"/><circle cx="118.06" cy="97.16" r="1.42"/><circle cx="118.11" cy="103.31" r="1.42"/><circle cx="118.19" cy="99.11" r="1.42"/><circle cx="118.31" cy="93.2" r="1.42"/><circle cx="118.32" cy="93.91" r="1.42"/><circle cx="118.34" cy="95.79" r="1.42"/><circle cx="118.59" cy="94.53" r="1.42"/><circle cx="118.72" cy="90.69" r="1.42"/><circle cx="118.72" cy="90.42" r="1.42"/><circle cx="118.83" cy="92.22" r="1.42"/><circle cx="119.08" cy="95.42" r="1.42"/><circle cx="119.11" cy="99.82" r="1.42"/><circle cx="119.14" cy="100.4" r="1.42"/><circle cx="119.2" cy="101.85" r="1.42"/><circle cx="119.23" cy="110.08" r="1.42"/><circle cx="119.24" cy="117.39" r="1.42"/><circle cx="119.3" cy="119.83" r="1.42"/><circle cx="119.3" cy="120.91" r="1.42"/><circle cx="119.35" cy="117.55" r="1.42"/><circle cx="119.42" cy="116.09" r="1.42"/><circle cx="119.48" cy="118.47" r="1.42"/><circle cx="119.5" cy="116.43" r="1.42"/><circle cx="121.53" cy="117.84" r="1.42"/><circle cx="121.55" cy="117.2" r="1.42"/><circle cx="121.59" cy="114.23" r="1.42"/><circle cx="121.61" cy="108.46" r="1.42"/><circle cx="121.81" cy="104.61" r="1.42"/><circle cx="121.83" cy="107.27" r="1.42"/><circle cx="121.87" cy="104.92" r="1.42"/><circle cx="121.89" cy="110.34" r="1.42"/><circle cx="121.96" cy="118.26" r="1.42"/><circle cx="121.96" cy="121.82" r="1.42"/><circle cx="122.04" cy="127.75" r="1.42"/><circle cx="122.08" cy="125.08" r="1.42"/><circle cx="122.22" cy="115.32" r="1.42"/><circle cx="122.25" cy="102.48" r="1.42"/><circle cx="122.27" cy="96.81" r="1.42"/><circle cx="122.33" cy="103.85" r="1.42"/><circle cx="122.34" cy="107.08" r="1.42"/><circle cx="122.4" cy="110.34" r="1.42"/><circle cx="122.53" cy="103.55" r="1.42"/><circle cx="122.57" cy="101.32" r="1.42"/><circle cx="122.8" cy="95.82" r="1.42"/><circle cx="122.82" cy="99.08" r="1.42"/><circle cx="122.85" cy="100.32" r="1.42"/><circle cx="122.91" cy="96.74" r="1.42"/><circle cx="123.02" cy="101.69" r="1.42"/><circle cx="123.06" cy="103.61" r="1.42"/><circle cx="123.18" cy="105.64" r="1.42"/><circle cx="123.18" cy="110.18" r="1.42"/><circle cx="123.3" cy="116.54" r="1.42"/><circle cx="123.37" cy="116.64" r="1.42"/><circle cx="123.49" cy="113.27" r="1.42"/><circle cx="125.22" cy="107.5" r="1.42"/><circle cx="125.23" cy="107.47" r="1.42"/><circle cx="125.26" cy="106.93" r="1.42"/><circle cx="125.33" cy="111.08" r="1.42"/><circle cx="125.34" cy="110.01" r="1.42"/><circle cx="125.35" cy="106.75" r="1.42"/><circle cx="125.38" cy="115.84" r="1.42"/><circle cx="125.41" cy="118.66" r="1.42"/><circle cx="125.61" cy="117.74" r="1.42"/><circle cx="125.61" cy="115.69" r="1.42"/><circle cx="125.67" cy="109.62" r="1.42"/><circle cx="125.68" cy="111.49" r="1.42"/><circle cx="125.76" cy="121.78" r="1.42"/><circle cx="125.85" cy="125.9" r="1.42"/><circle cx="125.99" cy="120.46" r="1.42"/><circle cx="126.02" cy="122.26" r="1.42"/><circle cx="126.03" cy="129" r="1.42"/><circle cx="126.1" cy="137.78" r="1.42"/><circle cx="126.2" cy="147.07" r="1.42"/><circle cx="126.38" cy="134.07" r="1.42"/><circle cx="126.39" cy="123.2" r="1.42"/><circle cx="126.52" cy="108.74" r="1.42"/><circle cx="126.86" cy="107.67" r="1.42"/><circle cx="126.97" cy="123.18" r="1.42"/><circle cx="126.98" cy="132.94" r="1.42"/><circle cx="127.01" cy="145.97" r="1.42"/><circle cx="127.07" cy="125.28" r="1.42"/><circle cx="127.09" cy="105.54" r="1.42"/><circle cx="127.1" cy="97.59" r="1.42"/><circle cx="127.12" cy="105.98" r="1.42"/><circle cx="128.53" cy="80.34" r="1.42"/><circle cx="128.59" cy="81.99" r="1.42"/><circle cx="128.65" cy="94.86" r="1.42"/><circle cx="128.78" cy="87.6" r="1.42"/><circle cx="128.86" cy="89.01" r="1.42"/><circle cx="128.88" cy="82.1" r="1.42"/><circle cx="128.9" cy="79.66" r="1.42"/><circle cx="128.91" cy="94.52" r="1.42"/><circle cx="128.98" cy="105.38" r="1.42"/><circle cx="129" cy="101.96" r="1.42"/><circle cx="129.02" cy="113.76" r="1.42"/><circle cx="129.07" cy="115.74" r="1.42"/><circle cx="129.28" cy="118.9" r="1.42"/><circle cx="129.41" cy="122.41" r="1.42"/><circle cx="129.46" cy="135.13" r="1.42"/><circle cx="129.48" cy="139.97" r="1.42"/><circle cx="129.69" cy="149.91" r="1.42"/><circle cx="129.69" cy="149.99" r="1.42"/><circle cx="129.77" cy="143.16" r="1.42"/><circle cx="129.91" cy="131.29" r="1.42"/><circle cx="129.92" cy="119.27" r="1.42"/><circle cx="129.97" cy="124.56" r="1.42"/><circle cx="129.97" cy="130.27" r="1.42"/><circle cx="130.07" cy="134.49" r="1.42"/><circle cx="130.11" cy="146.53" r="1.42"/><circle cx="130.16" cy="134.22" r="1.42"/><circle cx="130.19" cy="118.37" r="1.42"/><circle cx="130.23" cy="112.22" r="1.42"/><circle cx="131.31" cy="125.97" r="1.42"/><circle cx="131.37" cy="133.75" r="1.42"/><circle cx="131.4" cy="140.24" r="1.42"/><circle cx="131.52" cy="145.5" r="1.42"/><circle cx="131.55" cy="144.6" r="1.42"/><circle cx="131.76" cy="132.35" r="1.42"/><circle cx="131.84" cy="135.76" r="1.42"/><circle cx="131.87" cy="136.48" r="1.42"/><circle cx="131.96" cy="143.44" r="1.42"/><circle cx="131.97" cy="146.53" r="1.42"/><circle cx="132.01" cy="145.54" r="1.42"/><circle cx="132.02" cy="141.25" r="1.42"/><circle cx="132.12" cy="128.26" r="1.42"/><circle cx="132.15" cy="108.71" r="1.42"/><circle cx="132.17" cy="89.42" r="1.42"/><circle cx="132.24" cy="75.92" r="1.42"/><circle cx="132.36" cy="104.59" r="1.42"/><circle cx="132.38" cy="127.1" r="1.42"/><circle cx="132.44" cy="149.74" r="1.42"/><circle cx="132.69" cy="142.97" r="1.42"/><circle cx="132.73" cy="139.14" r="1.42"/><circle cx="132.81" cy="140.36" r="1.42"/><circle cx="132.83" cy="146.37" r="1.42"/><circle cx="132.87" cy="130.24" r="1.42"/><circle cx="132.94" cy="122.44" r="1.42"/><circle cx="132.94" cy="118.69" r="1.42"/><circle cx="132.95" cy="108.09" r="1.42"/><circle cx="133.05" cy="100.48" r="1.42"/><circle cx="133.12" cy="93.51" r="1.42"/><circle cx="133.19" cy="78.19" r="1.42"/><circle cx="133.23" cy="99.68" r="1.42"/><circle cx="133.28" cy="119.71" r="1.42"/><circle cx="135.56" cy="105.68" r="1.42"/><circle cx="135.63" cy="112.03" r="1.42"/><circle cx="135.79" cy="104.69" r="1.42"/><circle cx="135.8" cy="100.25" r="1.42"/><circle cx="135.84" cy="98.08" r="1.42"/><circle cx="135.88" cy="103.04" r="1.42"/><circle cx="135.91" cy="105.94" r="1.42"/><circle cx="135.91" cy="108.38" r="1.42"/><circle cx="136.07" cy="94.85" r="1.42"/><circle cx="136.26" cy="88.26" r="1.42"/><circle cx="136.28" cy="78.62" r="1.42"/><circle cx="136.29" cy="80.97" r="1.42"/><circle cx="136.41" cy="81.35" r="1.42"/><circle cx="136.47" cy="81.62" r="1.42"/><circle cx="136.57" cy="86.62" r="1.42"/><circle cx="136.61" cy="96.45" r="1.42"/><circle cx="136.79" cy="97.76" r="1.42"/><circle cx="136.83" cy="96.63" r="1.42"/><circle cx="136.85" cy="88.66" r="1.42"/><circle cx="136.95" cy="83.59" r="1.42"/><circle cx="137" cy="79.64" r="1.42"/><circle cx="137.06" cy="75.44" r="1.42"/><circle cx="137.06" cy="69.58" r="1.42"/><circle cx="137.1" cy="64.23" r="1.42"/><circle cx="137.13" cy="70.31" r="1.42"/><circle cx="139.44" cy="69.48" r="1.42"/><circle cx="139.45" cy="76.64" r="1.42"/><circle cx="139.53" cy="75.99" r="1.42"/><circle cx="139.64" cy="70.09" r="1.42"/><circle cx="139.75" cy="71.07" r="1.42"/><circle cx="139.84" cy="69.13" r="1.42"/><circle cx="139.86" cy="68.15" r="1.42"/><circle cx="139.88" cy="71.34" r="1.42"/><circle cx="139.91" cy="78.31" r="1.42"/><circle cx="140" cy="82.09" r="1.42"/><circle cx="140.02" cy="85.28" r="1.42"/><circle cx="140.17" cy="83.66" r="1.42"/><circle cx="140.39" cy="91.25" r="1.42"/><circle cx="140.41" cy="99.79" r="1.42"/><circle cx="140.55" cy="100.08" r="1.42"/><circle cx="140.6" cy="99.85" r="1.42"/><circle cx="140.81" cy="102.72" r="1.42"/><circle cx="140.86" cy="106.57" r="1.42"/><circle cx="140.95" cy="108.42" r="1.42"/><circle cx="140.97" cy="106.42" r="1.42"/><circle cx="141.06" cy="101.62" r="1.42"/><circle cx="141.1" cy="97.2" r="1.42"/><circle cx="141.28" cy="87.39" r="1.42"/><circle cx="141.29" cy="81.59" r="1.42"/><circle cx="141.36" cy="78.44" r="1.42"/><circle cx="142.01" cy="94.06" r="1.42"/><circle cx="142.03" cy="96.06" r="1.42"/><circle cx="142.04" cy="96.27" r="1.42"/><circle cx="142.08" cy="96.12" r="1.42"/><circle cx="142.14" cy="97.78" r="1.42"/><circle cx="142.24" cy="91.11" r="1.42"/><circle cx="142.37" cy="90.81" r="1.42"/><circle cx="142.42" cy="96.99" r="1.42"/><circle cx="142.42" cy="95.46" r="1.42"/><circle cx="142.42" cy="87.45" r="1.42"/><circle cx="142.47" cy="82" r="1.42"/><circle cx="142.63" cy="67.69" r="1.42"/><circle cx="142.63" cy="52.45" r="1.42"/><circle cx="142.65" cy="73.31" r="1.42"/><circle cx="142.72" cy="89.67" r="1.42"/><circle cx="142.8" cy="98.1" r="1.42"/><circle cx="142.85" cy="110.96" r="1.42"/><circle cx="143.02" cy="97.05" r="1.42"/><circle cx="143.12" cy="81.61" r="1.42"/><circle cx="143.33" cy="71.15" r="1.42"/><circle cx="143.35" cy="57.4" r="1.42"/><circle cx="143.47" cy="56.39" r="1.42"/><circle cx="143.5" cy="118" r="1.42"/><circle cx="143.57" cy="69.81" r="1.42"/><circle cx="143.58" cy="76.42" r="1.42"/><circle cx="143.67" cy="78.51" r="1.42"/><circle cx="143.7" cy="90.84" r="1.42"/><circle cx="143.72" cy="104.87" r="1.42"/><circle cx="143.98" cy="108.81" r="1.42"/><circle cx="143.99" cy="100.81" r="1.42"/><circle cx="145.45" cy="104.47" r="1.42"/><circle cx="145.49" cy="104.97" r="1.42"/><circle cx="145.53" cy="106.55" r="1.42"/><circle cx="145.61" cy="108.49" r="1.42"/><circle cx="145.64" cy="94.45" r="1.42"/><circle cx="145.65" cy="87.42" r="1.42"/><circle cx="146.06" cy="78.58" r="1.42"/><circle cx="146.07" cy="82.64" r="1.42"/><circle cx="146.36" cy="81.11" r="1.42"/><circle cx="146.4" cy="66.31" r="1.42"/><circle cx="146.41" cy="55.68" r="1.42"/><circle cx="146.45" cy="61.63" r="1.42"/><circle cx="146.46" cy="79.95" r="1.42"/><circle cx="146.55" cy="91.27" r="1.42"/><circle cx="146.56" cy="99.15" r="1.42"/><circle cx="146.65" cy="108.05" r="1.42"/><circle cx="146.67" cy="112.4" r="1.42"/><circle cx="146.78" cy="99.78" r="1.42"/><circle cx="146.78" cy="96.7" r="1.42"/><circle cx="146.87" cy="97.35" r="1.42"/><circle cx="146.89" cy="95.51" r="1.42"/><circle cx="146.89" cy="94.32" r="1.42"/><circle cx="146.96" cy="93.32" r="1.42"/><circle cx="147.07" cy="86.57" r="1.42"/><circle cx="147.09" cy="89.34" r="1.42"/><circle cx="147.1" cy="82.5" r="1.42"/><circle cx="147.15" cy="85.11" r="1.42"/><circle cx="147.35" cy="93.06" r="1.42"/><circle cx="149.18" cy="96.31" r="1.42"/><circle cx="149.19" cy="105.24" r="1.42"/><circle cx="149.25" cy="105.05" r="1.42"/><circle cx="149.28" cy="105.92" r="1.42"/><circle cx="149.3" cy="113.06" r="1.42"/><circle cx="149.49" cy="114.36" r="1.42"/><circle cx="149.69" cy="101.16" r="1.42"/><circle cx="149.73" cy="86.64" r="1.42"/><circle cx="149.77" cy="73.28" r="1.42"/><circle cx="149.97" cy="63.86" r="1.42"/><circle cx="150" cy="124" r="1.42"/><circle cx="150.09" cy="65.21" r="1.42"/><circle cx="150.15" cy="58.89" r="1.42"/><circle cx="150.26" cy="58.39" r="1.42"/><circle cx="150.32" cy="63" r="1.42"/><circle cx="150.47" cy="70.77" r="1.42"/><circle cx="150.51" cy="79.93" r="1.42"/><circle cx="150.53" cy="96.36" r="1.42"/><circle cx="150.55" cy="110.87" r="1.42"/><circle cx="150.6" cy="110.27" r="1.42"/><circle cx="150.66" cy="102.16" r="1.42"/><circle cx="150.79" cy="107" r="1.42"/><circle cx="150.82" cy="97.69" r="1.42"/><circle cx="150.92" cy="98.62" r="1.42"/><circle cx="150.98" cy="97.15" r="1.42"/><circle cx="150.98" cy="93.91" r="1.42"/><circle cx="150.99" cy="85.17" r="1.42"/><circle cx="152.82" cy="74.2" r="1.42"/><circle cx="152.9" cy="71.51" r="1.42"/><circle cx="152.9" cy="65.87" r="1.42"/><circle cx="152.93" cy="58.55" r="1.42"/><circle cx="153.14" cy="60.47" r="1.42"/><circle cx="153.14" cy="64.04" r="1.42"/><circle cx="153.25" cy="75.79" r="1.42"/><circle cx="153.3" cy="80.83" r="1.42"/><circle cx="153.31" cy="87.46" r="1.42"/><circle cx="153.39" cy="91.41" r="1.42"/><circle cx="153.39" cy="83.31" r="1.42"/><circle cx="153.51" cy="76.21" r="1.42"/><circle cx="153.58" cy="70.26" r="1.42"/><circle cx="153.7" cy="63.81" r="1.42"/><circle cx="153.76" cy="66.18" r="1.42"/><circle cx="153.76" cy="61.76" r="1.42"/><circle cx="153.82" cy="60.4" r="1.42"/><circle cx="153.89" cy="61.14" r="1.42"/><circle cx="154.19" cy="60.25" r="1.42"/><circle cx="154.25" cy="60.71" r="1.42"/><circle cx="154.33" cy="64.59" r="1.42"/><circle cx="154.38" cy="68.33" r="1.42"/><circle cx="154.5" cy="72.7" r="1.42"/><circle cx="154.55" cy="78.3" r="1.42"/><circle cx="154.6" cy="75.29" r="1.42"/><circle cx="154.61" cy="78.13" r="1.42"/><circle cx="154.65" cy="87.8" r="1.42"/><circle cx="154.71" cy="86.41" r="1.42"/><circle cx="154.77" cy="82.35" r="1.42"/><circle cx="154.79" cy="74.35" r="1.42"/><circle cx="157.52" cy="98.56" r="1.42"/><circle cx="157.55" cy="97.08" r="1.42"/><circle cx="157.64" cy="96.61" r="1.42"/><circle cx="157.67" cy="95.59" r="1.42"/><circle cx="157.68" cy="91.04" r="1.42"/><circle cx="157.69" cy="81.64" r="1.42"/><circle cx="157.7" cy="90.2" r="1.42"/><circle cx="157.97" cy="103.69" r="1.42"/><circle cx="158.03" cy="121.36" r="1.42"/><circle cx="158.09" cy="108.04" r="1.42"/><circle cx="158.17" cy="102.13" r="1.42"/><circle cx="158.18" cy="95.74" r="1.42"/><circle cx="158.26" cy="91.04" r="1.42"/><circle cx="158.49" cy="89.24" r="1.42"/><circle cx="158.57" cy="84" r="1.42"/><circle cx="158.62" cy="85.13" r="1.42"/><circle cx="158.72" cy="91.32" r="1.42"/><circle cx="158.83" cy="94.87" r="1.42"/><circle cx="158.86" cy="93.33" r="1.42"/><circle cx="158.93" cy="94.13" r="1.42"/><circle cx="158.99" cy="93.92" r="1.42"/><circle cx="159" cy="98.27" r="1.42"/><circle cx="159" cy="101.5" r="1.42"/><circle cx="159.05" cy="102.6" r="1.42"/><circle cx="159.06" cy="103.87" r="1.42"/><circle cx="159.11" cy="103.98" r="1.42"/><circle cx="159.21" cy="101.23" r="1.42"/><circle cx="159.38" cy="97.6" r="1.42"/><circle cx="159.43" cy="98.23" r="1.42"/><circle cx="159.47" cy="101.45" r="1.42"/><circle cx="160.83" cy="99.53" r="1.42"/><circle cx="160.85" cy="98.64" r="1.42"/><circle cx="160.89" cy="97.65" r="1.42"/><circle cx="160.93" cy="95.67" r="1.42"/><circle cx="161.1" cy="92.97" r="1.42"/><circle cx="161.15" cy="89.09" r="1.42"/><circle cx="161.16" cy="89.36" r="1.42"/><circle cx="161.25" cy="89.84" r="1.42"/><circle cx="161.3" cy="92.7" r="1.42"/><circle cx="161.32" cy="94.37" r="1.42"/><circle cx="161.34" cy="95.87" r="1.42"/><circle cx="161.4" cy="96.62" r="1.42"/><circle cx="161.49" cy="98.26" r="1.42"/><circle cx="161.58" cy="101.31" r="1.42"/><circle cx="161.86" cy="103.91" r="1.42"/><circle cx="162.03" cy="103.97" r="1.42"/><circle cx="162.03" cy="101.96" r="1.42"/><circle cx="162.1" cy="104.15" r="1.42"/><circle cx="162.12" cy="104.82" r="1.42"/><circle cx="162.19" cy="104.34" r="1.42"/><circle cx="162.23" cy="107.09" r="1.42"/><circle cx="162.32" cy="106.81" r="1.42"/><circle cx="162.36" cy="104.72" r="1.42"/><circle cx="162.45" cy="102" r="1.42"/><circle cx="162.47" cy="105.28" r="1.42"/><circle cx="162.49" cy="108.23" r="1.42"/><circle cx="162.55" cy="106.82" r="1.42"/><circle cx="162.59" cy="103.92" r="1.42"/><circle cx="162.65" cy="98.33" r="1.42"/><circle cx="164.04" cy="76.81" r="1.42"/><circle cx="164.31" cy="77.17" r="1.42"/><circle cx="164.4" cy="76.39" r="1.42"/><circle cx="164.44" cy="78.9" r="1.42"/><circle cx="164.47" cy="81.38" r="1.42"/><circle cx="164.48" cy="81.96" r="1.42"/><circle cx="164.52" cy="81.52" r="1.42"/><circle cx="164.53" cy="79.5" r="1.42"/><circle cx="164.56" cy="80.63" r="1.42"/><circle cx="164.57" cy="80.26" r="1.42"/><circle cx="164.73" cy="80.1" r="1.42"/><circle cx="164.76" cy="78.78" r="1.42"/><circle cx="164.78" cy="72.54" r="1.42"/><circle cx="164.82" cy="71.12" r="1.42"/><circle cx="164.9" cy="66.39" r="1.42"/><circle cx="164.92" cy="65.69" r="1.42"/><circle cx="164.94" cy="66.92" r="1.42"/><circle cx="165.13" cy="27.43" r="1.42"/><circle cx="165.19" cy="21.14" r="1.42"/><circle cx="165.19" cy="25.75" r="1.42"/><circle cx="165.39" cy="26.88" r="1.42"/><circle cx="165.53" cy="24.03" r="1.42"/><circle cx="165.58" cy="25.21" r="1.42"/><circle cx="165.68" cy="25.52" r="1.42"/><circle cx="165.7" cy="27.66" r="1.42"/><circle cx="165.74" cy="28.03" r="1.42"/><circle cx="165.74" cy="29.75" r="1.42"/><circle cx="165.74" cy="28.68" r="1.42"/><circle cx="165.75" cy="28.11" r="1.42"/><circle cx="165.8" cy="29.94" r="1.42"/><circle cx="165.84" cy="31.66" r="1.42"/><circle cx="165.87" cy="31.5" r="1.42"/><circle cx="165.92" cy="27.79" r="1.42"/><circle cx="167.06" cy="32.84" r="1.42"/><circle cx="167.07" cy="35.36" r="1.42"/><circle cx="167.13" cy="37.56" r="1.42"/><circle cx="167.32" cy="39.53" r="1.42"/><circle cx="167.39" cy="41.53" r="1.42"/><circle cx="167.5" cy="39.8" r="1.42"/><circle cx="167.54" cy="31.38" r="1.42"/><circle cx="167.68" cy="22.83" r="1.42"/><circle cx="167.71" cy="19.14" r="1.42"/><circle cx="167.79" cy="28.46" r="1.42"/><circle cx="167.84" cy="35.32" r="1.42"/><circle cx="167.96" cy="34.3" r="1.42"/><circle cx="167.98" cy="35.87" r="1.42"/><circle cx="168.03" cy="39.56" r="1.42"/><circle cx="168.21" cy="41.72" r="1.42"/><circle cx="168.21" cy="44.21" r="1.42"/><circle cx="168.29" cy="44.57" r="1.42"/><circle cx="168.33" cy="40.31" r="1.42"/><circle cx="168.39" cy="40.15" r="1.42"/><circle cx="168.41" cy="41.09" r="1.42"/><circle cx="168.44" cy="42.64" r="1.42"/><circle cx="168.49" cy="45.01" r="1.42"/><circle cx="168.56" cy="39.16" r="1.42"/><circle cx="168.61" cy="32.65" r="1.42"/><circle cx="168.76" cy="24.84" r="1.42"/><circle cx="168.78" cy="17.16" r="1.42"/><circle cx="168.83" cy="12.71" r="1.42"/><circle cx="168.84" cy="12.46" r="1.42"/><circle cx="168.87" cy="14.73" r="1.42"/><circle cx="170.5" cy="24.73" r="1.42"/><circle cx="170.54" cy="22.02" r="1.42"/><circle cx="170.62" cy="23.25" r="1.42"/><circle cx="170.65" cy="34.18" r="1.42"/><circle cx="170.73" cy="43.76" r="1.42"/><circle cx="170.89" cy="44.64" r="1.42"/><circle cx="170.92" cy="47.1" r="1.42"/><circle cx="170.99" cy="46.97" r="1.42"/><circle cx="170.99" cy="53.21" r="1.42"/><circle cx="171.02" cy="53.34" r="1.42"/><circle cx="171.35" cy="44.16" r="1.42"/><circle cx="171.36" cy="38.11" r="1.42"/><circle cx="171.54" cy="32.03" r="1.42"/><circle cx="171.58" cy="26.61" r="1.42"/><circle cx="171.67" cy="20.38" r="1.42"/><circle cx="171.76" cy="29.97" r="1.42"/><circle cx="171.76" cy="42.91" r="1.42"/><circle cx="171.76" cy="45.38" r="1.42"/><circle cx="171.84" cy="50.53" r="1.42"/><circle cx="171.89" cy="51.26" r="1.42"/><circle cx="171.91" cy="45.21" r="1.42"/><circle cx="171.92" cy="41.63" r="1.42"/><circle cx="172.01" cy="37.91" r="1.42"/><circle cx="172.17" cy="38.58" r="1.42"/><circle cx="172.21" cy="40.83" r="1.42"/><circle cx="172.25" cy="40.13" r="1.42"/><circle cx="172.25" cy="41.84" r="1.42"/><circle cx="172.28" cy="40.93" r="1.42"/><circle cx="172.33" cy="33.91" r="1.42"/><circle cx="172.39" cy="35.59" r="1.42"/><circle cx="172.48" cy="35.39" r="1.42"/><circle cx="173.3" cy="40.67" r="1.42"/><circle cx="173.32" cy="47.19" r="1.42"/><circle cx="173.33" cy="41.57" r="1.42"/><circle cx="173.39" cy="38.22" r="1.42"/><circle cx="173.41" cy="38.45" r="1.42"/><circle cx="173.57" cy="38.87" r="1.42"/><circle cx="173.58" cy="45.88" r="1.42"/><circle cx="173.64" cy="40" r="1.42"/><circle cx="173.74" cy="31.27" r="1.42"/><circle cx="173.85" cy="29.13" r="1.42"/><circle cx="173.96" cy="26.17" r="1.42"/><circle cx="173.97" cy="23.35" r="1.42"/><circle cx="173.99" cy="13.66" r="1.42"/><circle cx="174" cy="25.79" r="1.42"/><circle cx="174.02" cy="37.28" r="1.42"/><circle cx="174.05" cy="42.39" r="1.42"/><circle cx="174.11" cy="37.23" r="1.42"/><circle cx="174.13" cy="38.76" r="1.42"/><circle cx="174.18" cy="39.18" r="1.42"/><circle cx="174.22" cy="42.11" r="1.42"/><circle cx="174.45" cy="40.64" r="1.42"/><circle cx="174.52" cy="38.25" r="1.42"/><circle cx="174.55" cy="39.55" r="1.42"/><circle cx="174.72" cy="40.8" r="1.42"/><circle cx="174.82" cy="37.18" r="1.42"/><circle cx="174.99" cy="35.37" r="1.42"/><circle cx="175" cy="33.15" r="1.42"/><circle cx="175.07" cy="28.69" r="1.42"/><circle cx="175.07" cy="26.8" r="1.42"/><circle cx="175.1" cy="24.15" r="1.42"/><circle cx="175.1" cy="17.33" r="1.42"/><circle cx="175.11" cy="12.75" r="1.42"/><circle cx="175.14" cy="24.8" r="1.42"/></g>
</g>
<rect x="32.6" y="0.5" width="142.4" height="159.8" fill="none" stroke="#464646" stroke-width="1.0"/>
<line x1="29.9" y1="11.1" x2="32.6" y2="11.1" stroke="#464646" stroke-width="0.9" />
<text x="27.2" y="14.05" font-size="8.55" text-anchor="end" fill="#000" color="#000" textLength="16.48" lengthAdjust="spacingAndGlyphs" >2.00</text>
<line x1="29.9" y1="29.9" x2="32.6" y2="29.9" stroke="#464646" stroke-width="0.9" />
<text x="27.2" y="32.85" font-size="8.55" text-anchor="end" fill="#000" color="#000" textLength="16.48" lengthAdjust="spacingAndGlyphs" >1.75</text>
<line x1="29.9" y1="48.7" x2="32.6" y2="48.7" stroke="#464646" stroke-width="0.9" />
<text x="27.2" y="51.65" font-size="8.55" text-anchor="end" fill="#000" color="#000" textLength="16.48" lengthAdjust="spacingAndGlyphs" >1.50</text>
<line x1="29.9" y1="67.5" x2="32.6" y2="67.5" stroke="#464646" stroke-width="0.9" />
<text x="27.2" y="70.45" font-size="8.55" text-anchor="end" fill="#000" color="#000" textLength="16.48" lengthAdjust="spacingAndGlyphs" >1.25</text>
<line x1="29.9" y1="86.3" x2="32.6" y2="86.3" stroke="#464646" stroke-width="0.9" />
<text x="27.2" y="89.25" font-size="8.55" text-anchor="end" fill="#000" color="#000" textLength="16.48" lengthAdjust="spacingAndGlyphs" >1.00</text>
<line x1="29.9" y1="105.1" x2="32.6" y2="105.1" stroke="#464646" stroke-width="0.9" />
<text x="27.2" y="108.05" font-size="8.55" text-anchor="end" fill="#000" color="#000" textLength="16.48" lengthAdjust="spacingAndGlyphs" >0.75</text>
<line x1="29.9" y1="123.9" x2="32.6" y2="123.9" stroke="#464646" stroke-width="0.9" />
<text x="27.2" y="126.85" font-size="8.55" text-anchor="end" fill="#000" color="#000" textLength="16.48" lengthAdjust="spacingAndGlyphs" >0.50</text>
<line x1="29.9" y1="142.7" x2="32.6" y2="142.7" stroke="#464646" stroke-width="0.9" />
<text x="27.2" y="145.65" font-size="8.55" text-anchor="end" fill="#000" color="#000" textLength="16.48" lengthAdjust="spacingAndGlyphs" >0.25</text>
<line x1="32.6" y1="160.3" x2="32.6" y2="163" stroke="#464646" stroke-width="0.9" />
<text x="32.6" y="171" font-size="8.55" text-anchor="middle" fill="#000" color="#000" textLength="4.71" lengthAdjust="spacingAndGlyphs" >0</text>
<line x1="79.83" y1="160.3" x2="79.83" y2="163" stroke="#464646" stroke-width="0.9" />
<text x="79.83" y="171" font-size="8.55" text-anchor="middle" fill="#000" color="#000" textLength="18.83" lengthAdjust="spacingAndGlyphs" >5000</text>
<line x1="127.07" y1="160.3" x2="127.07" y2="163" stroke="#464646" stroke-width="0.9" />
<text x="127.07" y="171" font-size="8.55" text-anchor="middle" fill="#000" color="#000" textLength="23.54" lengthAdjust="spacingAndGlyphs" >10000</text>
<line x1="174.3" y1="160.3" x2="174.3" y2="163" stroke="#464646" stroke-width="0.9" />
<text x="174.3" y="171" font-size="8.55" text-anchor="middle" fill="#000" color="#000" textLength="23.54" lengthAdjust="spacingAndGlyphs" >15000</text>
<text x="103.7" y="181" font-size="8.55" text-anchor="middle" fill="#000" color="#000" textLength="18.11" lengthAdjust="spacingAndGlyphs" >Time</text>
<text x="7.4" y="80.3" font-size="8.55" text-anchor="middle" fill="#000" color="#000" textLength="24.48" lengthAdjust="spacingAndGlyphs" transform="rotate(-90 7.4 80.3)" >ln Flux</text>
<text x="172.5" y="8.8" font-size="10.6" text-anchor="end" fill="#000" color="#000" textLength="13.3" lengthAdjust="spacingAndGlyphs" >(a)</text>
<clipPath id="cb"><rect x="227.7" y="0.5" width="142.5" height="159.8"/></clipPath>
<g clip-path="url(#cb)">
<g fill="#000"><circle cx="277.81" cy="70.81" r="1.38"/><circle cx="239.12" cy="61.44" r="1.38"/><circle cx="312.43" cy="76.21" r="1.38"/><circle cx="367.72" cy="57.01" r="1.38"/><circle cx="267.11" cy="71.2" r="1.38"/><circle cx="331.27" cy="64.4" r="1.38"/><circle cx="355.98" cy="65.7" r="1.38"/><circle cx="266.25" cy="57.9" r="1.38"/><circle cx="358.6" cy="64.89" r="1.38"/><circle cx="334.3" cy="62.54" r="1.38"/><circle cx="319.66" cy="49.37" r="1.38"/><circle cx="255.35" cy="25" r="1.38"/><circle cx="267.21" cy="47.87" r="1.38"/><circle cx="242.17" cy="69.53" r="1.38"/><circle cx="355.29" cy="71" r="1.38"/><circle cx="342.93" cy="77.64" r="1.38"/><circle cx="240.03" cy="54.63" r="1.38"/><circle cx="303.34" cy="63.82" r="1.38"/><circle cx="258.05" cy="63.26" r="1.38"/><circle cx="336.75" cy="70.96" r="1.38"/><circle cx="309.34" cy="66.07" r="1.38"/><circle cx="362.36" cy="72.26" r="1.38"/><circle cx="331.27" cy="60.74" r="1.38"/><circle cx="242.04" cy="59.77" r="1.38"/><circle cx="280.8" cy="44.81" r="1.38"/><circle cx="309.78" cy="70.51" r="1.38"/><circle cx="357.58" cy="54.48" r="1.38"/><circle cx="280.54" cy="79.24" r="1.38"/><circle cx="254.46" cy="67.71" r="1.38"/><circle cx="268.05" cy="56.38" r="1.38"/><circle cx="263.05" cy="66.8" r="1.38"/><circle cx="249.71" cy="67.43" r="1.38"/><circle cx="276.68" cy="60.54" r="1.38"/><circle cx="263.17" cy="51.45" r="1.38"/><circle cx="300.41" cy="67.56" r="1.38"/><circle cx="355.08" cy="71" r="1.38"/><circle cx="363.63" cy="56.59" r="1.38"/><circle cx="250.41" cy="64.69" r="1.38"/><circle cx="308.81" cy="63.66" r="1.38"/><circle cx="323.68" cy="63.57" r="1.38"/><circle cx="249.42" cy="81.31" r="1.38"/><circle cx="303.45" cy="77.95" r="1.38"/><circle cx="256.2" cy="72.45" r="1.38"/><circle cx="279.56" cy="76.94" r="1.38"/><circle cx="273.84" cy="66.66" r="1.38"/><circle cx="343.78" cy="63.06" r="1.38"/><circle cx="261.05" cy="66.76" r="1.38"/><circle cx="304.63" cy="60.48" r="1.38"/><circle cx="311.11" cy="49.97" r="1.38"/><circle cx="274.69" cy="55.9" r="1.38"/><circle cx="360.09" cy="77.6" r="1.38"/><circle cx="275.01" cy="48.14" r="1.38"/><circle cx="274.16" cy="42.12" r="1.38"/><circle cx="326.35" cy="72.05" r="1.38"/><circle cx="297.17" cy="69.49" r="1.38"/><circle cx="330.94" cy="82.05" r="1.38"/><circle cx="249.48" cy="57.18" r="1.38"/><circle cx="248.79" cy="77.59" r="1.38"/><circle cx="332.54" cy="82.4" r="1.38"/><circle cx="283.04" cy="54.31" r="1.38"/><circle cx="349.79" cy="50.31" r="1.38"/><circle cx="260.96" cy="66.46" r="1.38"/><circle cx="261.92" cy="78.34" r="1.38"/><circle cx="350.66" cy="58.24" r="1.38"/><circle cx="279.22" cy="77.85" r="1.38"/><circle cx="243.34" cy="59.73" r="1.38"/><circle cx="259.08" cy="61.73" r="1.38"/><circle cx="337.31" cy="55.35" r="1.38"/><circle cx="265.51" cy="59.28" r="1.38"/><circle cx="306.86" cy="70.24" r="1.38"/><circle cx="346.58" cy="70.09" r="1.38"/><circle cx="314.65" cy="70.5" r="1.38"/><circle cx="334.91" cy="53.96" r="1.38"/><circle cx="366.85" cy="62.69" r="1.38"/><circle cx="270.32" cy="78.51" r="1.38"/><circle cx="352.51" cy="62.9" r="1.38"/><circle cx="306.19" cy="48.73" r="1.38"/><circle cx="256.39" cy="52.46" r="1.38"/><circle cx="246.5" cy="34.71" r="1.38"/><circle cx="274.4" cy="74.7" r="1.38"/><circle cx="247.31" cy="67.64" r="1.38"/><circle cx="337.62" cy="71.36" r="1.38"/><circle cx="307.1" cy="65.85" r="1.38"/><circle cx="355.26" cy="57.39" r="1.38"/><circle cx="352.8" cy="58.64" r="1.38"/><circle cx="312.59" cy="63.21" r="1.38"/><circle cx="290.78" cy="76.56" r="1.38"/><circle cx="247.77" cy="67.87" r="1.38"/><circle cx="294.62" cy="55.15" r="1.38"/><circle cx="358.36" cy="58.06" r="1.38"/><circle cx="310.94" cy="45.91" r="1.38"/><circle cx="293.11" cy="61.41" r="1.38"/><circle cx="314.32" cy="60.55" r="1.38"/><circle cx="306.12" cy="59.75" r="1.38"/><circle cx="316.53" cy="55.24" r="1.38"/><circle cx="256.04" cy="57.73" r="1.38"/><circle cx="248.88" cy="63.77" r="1.38"/><circle cx="306.56" cy="64.2" r="1.38"/><circle cx="346.19" cy="65.02" r="1.38"/><circle cx="228.16" cy="69.01" r="1.38"/><circle cx="264.18" cy="48.87" r="1.38"/><circle cx="311.07" cy="65.5" r="1.38"/><circle cx="298.89" cy="58.72" r="1.38"/><circle cx="356.1" cy="63.85" r="1.38"/><circle cx="258.07" cy="71.31" r="1.38"/><circle cx="243.94" cy="61.11" r="1.38"/><circle cx="250.55" cy="80.09" r="1.38"/><circle cx="298.61" cy="71.05" r="1.38"/><circle cx="269.18" cy="52.64" r="1.38"/><circle cx="292.57" cy="69.66" r="1.38"/><circle cx="325.68" cy="80.51" r="1.38"/><circle cx="273.48" cy="50.16" r="1.38"/><circle cx="322.44" cy="62.17" r="1.38"/><circle cx="335.27" cy="66.21" r="1.38"/><circle cx="305.5" cy="85.93" r="1.38"/><circle cx="356.94" cy="64.97" r="1.38"/><circle cx="360.76" cy="54.62" r="1.38"/><circle cx="309.14" cy="68.75" r="1.38"/><circle cx="367.73" cy="65.59" r="1.38"/><circle cx="261.23" cy="72.04" r="1.38"/><circle cx="270.09" cy="73.4" r="1.38"/><circle cx="291.53" cy="52.48" r="1.38"/><circle cx="300.19" cy="60.69" r="1.38"/><circle cx="344.42" cy="68.3" r="1.38"/><circle cx="291.43" cy="55.06" r="1.38"/><circle cx="234.54" cy="68.04" r="1.38"/><circle cx="327.39" cy="101.52" r="1.38"/><circle cx="259.42" cy="61.24" r="1.38"/><circle cx="353.38" cy="67.59" r="1.38"/><circle cx="257.9" cy="52.49" r="1.38"/><circle cx="269.82" cy="49.01" r="1.38"/><circle cx="247.25" cy="56.63" r="1.38"/><circle cx="270.8" cy="75.46" r="1.38"/><circle cx="313.3" cy="70.69" r="1.38"/><circle cx="265.78" cy="61.39" r="1.38"/><circle cx="234.6" cy="55.77" r="1.38"/><circle cx="311.22" cy="70.25" r="1.38"/><circle cx="332.38" cy="68.64" r="1.38"/><circle cx="243.21" cy="66.04" r="1.38"/><circle cx="288.13" cy="71.81" r="1.38"/><circle cx="237.42" cy="59.13" r="1.38"/><circle cx="276.92" cy="34.46" r="1.38"/><circle cx="281.05" cy="80.02" r="1.38"/><circle cx="268.51" cy="64.32" r="1.38"/><circle cx="352.37" cy="60.51" r="1.38"/><circle cx="274.73" cy="64.49" r="1.38"/><circle cx="319.78" cy="95.24" r="1.38"/><circle cx="332.2" cy="51.92" r="1.38"/><circle cx="287.1" cy="56.93" r="1.38"/><circle cx="299.03" cy="45.69" r="1.38"/><circle cx="262.9" cy="52" r="1.38"/><circle cx="263.65" cy="56.37" r="1.38"/><circle cx="235.25" cy="57.92" r="1.38"/><circle cx="356.71" cy="49.33" r="1.38"/><circle cx="297.81" cy="63.74" r="1.38"/><circle cx="247.23" cy="65.5" r="1.38"/><circle cx="330.86" cy="73.91" r="1.38"/><circle cx="292.88" cy="59.98" r="1.38"/><circle cx="300.63" cy="50.62" r="1.38"/><circle cx="269.64" cy="69.85" r="1.38"/><circle cx="250.65" cy="37.54" r="1.38"/><circle cx="341.52" cy="44.75" r="1.38"/><circle cx="245.33" cy="41.92" r="1.38"/><circle cx="269.84" cy="66.09" r="1.38"/><circle cx="334.79" cy="56.87" r="1.38"/><circle cx="270.16" cy="76.8" r="1.38"/><circle cx="363.21" cy="79.62" r="1.38"/><circle cx="252.66" cy="64.69" r="1.38"/><circle cx="302.85" cy="31.36" r="1.38"/><circle cx="304.34" cy="76.81" r="1.38"/><circle cx="298.99" cy="72.53" r="1.38"/><circle cx="338" cy="71.08" r="1.38"/><circle cx="324.83" cy="45.92" r="1.38"/><circle cx="305.46" cy="51.2" r="1.38"/><circle cx="340.19" cy="69.23" r="1.38"/><circle cx="234.92" cy="67.84" r="1.38"/><circle cx="305.51" cy="28.62" r="1.38"/><circle cx="290.47" cy="62.22" r="1.38"/><circle cx="285.33" cy="65.17" r="1.38"/><circle cx="304.29" cy="38.69" r="1.38"/><circle cx="316.68" cy="75.55" r="1.38"/><circle cx="327.92" cy="66.01" r="1.38"/><circle cx="355.64" cy="64.06" r="1.38"/><circle cx="321.22" cy="54.96" r="1.38"/><circle cx="369.99" cy="81.25" r="1.38"/><circle cx="322.4" cy="54.1" r="1.38"/><circle cx="266.04" cy="56.78" r="1.38"/><circle cx="248.67" cy="61.89" r="1.38"/><circle cx="237.8" cy="67.73" r="1.38"/><circle cx="265.91" cy="58.63" r="1.38"/><circle cx="244.67" cy="55.05" r="1.38"/><circle cx="325.05" cy="69.8" r="1.38"/><circle cx="325.91" cy="65.57" r="1.38"/><circle cx="314.88" cy="56.04" r="1.38"/><circle cx="282.23" cy="65.13" r="1.38"/><circle cx="293.78" cy="63.4" r="1.38"/><circle cx="264.65" cy="59.9" r="1.38"/><circle cx="358.55" cy="61.66" r="1.38"/><circle cx="229.96" cy="68.25" r="1.38"/><circle cx="273.36" cy="60.22" r="1.38"/><circle cx="309.29" cy="55.45" r="1.38"/><circle cx="253.43" cy="56.31" r="1.38"/><circle cx="349.38" cy="70.19" r="1.38"/><circle cx="296.13" cy="74.05" r="1.38"/><circle cx="280.48" cy="80.14" r="1.38"/><circle cx="236.65" cy="57.26" r="1.38"/><circle cx="267.75" cy="45.38" r="1.38"/><circle cx="311.69" cy="65.28" r="1.38"/><circle cx="267.76" cy="70.86" r="1.38"/><circle cx="280.58" cy="57.39" r="1.38"/><circle cx="310.25" cy="47.18" r="1.38"/><circle cx="270.99" cy="52.71" r="1.38"/><circle cx="348.26" cy="75.6" r="1.38"/><circle cx="326.24" cy="49.67" r="1.38"/><circle cx="330.47" cy="71.87" r="1.38"/><circle cx="354.5" cy="59.3" r="1.38"/><circle cx="343.08" cy="55.2" r="1.38"/><circle cx="274.6" cy="61.42" r="1.38"/><circle cx="308.75" cy="68.49" r="1.38"/><circle cx="264.57" cy="67.35" r="1.38"/><circle cx="256.41" cy="76.8" r="1.38"/><circle cx="257.02" cy="69.56" r="1.38"/><circle cx="243.51" cy="64.85" r="1.38"/><circle cx="261.75" cy="69.51" r="1.38"/><circle cx="259.71" cy="75.5" r="1.38"/><circle cx="323.5" cy="69.29" r="1.38"/><circle cx="263.52" cy="58.98" r="1.38"/><circle cx="234.35" cy="75.86" r="1.38"/><circle cx="287.75" cy="83.59" r="1.38"/><circle cx="256.32" cy="50.69" r="1.38"/><circle cx="325.89" cy="70.59" r="1.38"/><circle cx="259.28" cy="41.09" r="1.38"/><circle cx="307.03" cy="45.36" r="1.38"/><circle cx="252.77" cy="68.85" r="1.38"/><circle cx="296.37" cy="62.24" r="1.38"/><circle cx="351.23" cy="62.92" r="1.38"/><circle cx="270.9" cy="62.78" r="1.38"/><circle cx="302.79" cy="47.53" r="1.38"/><circle cx="290.18" cy="44.23" r="1.38"/><circle cx="237.67" cy="72.99" r="1.38"/><circle cx="235.79" cy="50.5" r="1.38"/><circle cx="347.7" cy="98.01" r="1.38"/><circle cx="276.18" cy="56.6" r="1.38"/><circle cx="325.42" cy="67.48" r="1.38"/><circle cx="286.48" cy="62.22" r="1.38"/><circle cx="347.11" cy="45.51" r="1.38"/><circle cx="255.48" cy="50.52" r="1.38"/><circle cx="296.62" cy="79.58" r="1.38"/><circle cx="305.81" cy="63.29" r="1.38"/><circle cx="340.74" cy="74.03" r="1.38"/><circle cx="278.67" cy="59.9" r="1.38"/><circle cx="279.33" cy="61.39" r="1.38"/><circle cx="295.38" cy="58.76" r="1.38"/><circle cx="311.57" cy="73.42" r="1.38"/><circle cx="247.85" cy="72.61" r="1.38"/><circle cx="305.13" cy="49.15" r="1.38"/><circle cx="326.47" cy="40.57" r="1.38"/><circle cx="332.11" cy="66.8" r="1.38"/><circle cx="259.66" cy="83.13" r="1.38"/><circle cx="290.49" cy="49.54" r="1.38"/><circle cx="270.14" cy="60.37" r="1.38"/><circle cx="282.92" cy="63.71" r="1.38"/><circle cx="279.41" cy="66.67" r="1.38"/><circle cx="362.32" cy="51.6" r="1.38"/><circle cx="330.3" cy="68.56" r="1.38"/><circle cx="362.69" cy="53.8" r="1.38"/><circle cx="247.84" cy="68.08" r="1.38"/><circle cx="238.8" cy="62.33" r="1.38"/><circle cx="257.05" cy="67.5" r="1.38"/><circle cx="268.56" cy="75.52" r="1.38"/><circle cx="349.87" cy="67.43" r="1.38"/><circle cx="347.51" cy="57.28" r="1.38"/><circle cx="360.81" cy="44.5" r="1.38"/><circle cx="283.21" cy="73.05" r="1.38"/><circle cx="367" cy="46.54" r="1.38"/><circle cx="316.84" cy="70.18" r="1.38"/><circle cx="355.78" cy="60.52" r="1.38"/><circle cx="243" cy="53.96" r="1.38"/><circle cx="345.61" cy="48.31" r="1.38"/><circle cx="262.83" cy="57" r="1.38"/><circle cx="332.01" cy="68.28" r="1.38"/><circle cx="297.96" cy="71.09" r="1.38"/><circle cx="357.07" cy="62.03" r="1.38"/><circle cx="352.33" cy="60.56" r="1.38"/><circle cx="234.32" cy="55.29" r="1.38"/><circle cx="298.66" cy="60.31" r="1.38"/><circle cx="262.18" cy="63.22" r="1.38"/><circle cx="290.29" cy="51.33" r="1.38"/><circle cx="237.14" cy="55.28" r="1.38"/><circle cx="279.06" cy="67.36" r="1.38"/><circle cx="285.89" cy="67.81" r="1.38"/><circle cx="228.25" cy="69.15" r="1.38"/><circle cx="295.29" cy="72.61" r="1.38"/><circle cx="355.13" cy="54.6" r="1.38"/><circle cx="236.36" cy="78.77" r="1.38"/><circle cx="362.27" cy="57.53" r="1.38"/><circle cx="297.4" cy="42.79" r="1.38"/><circle cx="257.7" cy="75.15" r="1.38"/><circle cx="365.74" cy="61.75" r="1.38"/><circle cx="295.15" cy="49.77" r="1.38"/><circle cx="289.93" cy="57.62" r="1.38"/><circle cx="281.32" cy="81.22" r="1.38"/><circle cx="353.24" cy="40.33" r="1.38"/><circle cx="246.21" cy="60.68" r="1.38"/><circle cx="257.68" cy="57.98" r="1.38"/><circle cx="268.04" cy="62.43" r="1.38"/><circle cx="236.59" cy="53.64" r="1.38"/><circle cx="347.93" cy="76.07" r="1.38"/><circle cx="297.3" cy="73.29" r="1.38"/><circle cx="313.39" cy="58.37" r="1.38"/><circle cx="353.83" cy="43.66" r="1.38"/><circle cx="298.17" cy="59.3" r="1.38"/><circle cx="267.06" cy="70.82" r="1.38"/><circle cx="303.37" cy="58.83" r="1.38"/><circle cx="298.95" cy="75.39" r="1.38"/><circle cx="270.26" cy="54.34" r="1.38"/><circle cx="260.71" cy="74.7" r="1.38"/><circle cx="278.66" cy="54.75" r="1.38"/><circle cx="332.4" cy="60.29" r="1.38"/><circle cx="251.25" cy="73.95" r="1.38"/><circle cx="369.58" cy="43" r="1.38"/><circle cx="261.21" cy="63" r="1.38"/><circle cx="266.54" cy="57.17" r="1.38"/><circle cx="245.2" cy="61.84" r="1.38"/><circle cx="283.52" cy="46.85" r="1.38"/><circle cx="280.67" cy="44.56" r="1.38"/><circle cx="324.82" cy="66.41" r="1.38"/><circle cx="355.33" cy="65.7" r="1.38"/><circle cx="263.01" cy="74.36" r="1.38"/><circle cx="342.99" cy="65.73" r="1.38"/><circle cx="271.61" cy="63.01" r="1.38"/><circle cx="285.63" cy="72.32" r="1.38"/><circle cx="245.97" cy="51.25" r="1.38"/><circle cx="354.86" cy="62.9" r="1.38"/><circle cx="280.87" cy="49.67" r="1.38"/><circle cx="327.53" cy="68.86" r="1.38"/><circle cx="231.47" cy="65.94" r="1.38"/><circle cx="327" cy="50.05" r="1.38"/><circle cx="259.94" cy="62.06" r="1.38"/><circle cx="292.01" cy="36.42" r="1.38"/><circle cx="323.67" cy="47.04" r="1.38"/><circle cx="252.02" cy="67.31" r="1.38"/><circle cx="302.79" cy="58.63" r="1.38"/><circle cx="346.74" cy="53.89" r="1.38"/><circle cx="250.98" cy="59.68" r="1.38"/><circle cx="294.31" cy="68.45" r="1.38"/><circle cx="253.92" cy="69.33" r="1.38"/><circle cx="248.11" cy="68.97" r="1.38"/><circle cx="297.49" cy="71.11" r="1.38"/><circle cx="292.75" cy="47.77" r="1.38"/><circle cx="319.41" cy="50.93" r="1.38"/><circle cx="349.88" cy="74.33" r="1.38"/><circle cx="328.35" cy="57.95" r="1.38"/><circle cx="275.61" cy="78.41" r="1.38"/><circle cx="296.94" cy="64.06" r="1.38"/><circle cx="323.67" cy="64.16" r="1.38"/><circle cx="347.17" cy="59.66" r="1.38"/><circle cx="324.95" cy="66.17" r="1.38"/><circle cx="299.29" cy="51.74" r="1.38"/><circle cx="246.71" cy="60.3" r="1.38"/><circle cx="351.38" cy="44.1" r="1.38"/><circle cx="267.78" cy="61.66" r="1.38"/><circle cx="285.4" cy="67.57" r="1.38"/><circle cx="353.7" cy="73.73" r="1.38"/><circle cx="257.23" cy="58.9" r="1.38"/><circle cx="357.86" cy="57.52" r="1.38"/><circle cx="260.33" cy="74.35" r="1.38"/><circle cx="240.12" cy="61.42" r="1.38"/><circle cx="300.86" cy="64.49" r="1.38"/><circle cx="340.98" cy="81.44" r="1.38"/><circle cx="285.02" cy="16.54" r="1.38"/><circle cx="347.74" cy="82.82" r="1.38"/><circle cx="284.16" cy="47.24" r="1.38"/><circle cx="343.8" cy="65.17" r="1.38"/><circle cx="243.76" cy="74.61" r="1.38"/><circle cx="268.06" cy="46.99" r="1.38"/><circle cx="245.15" cy="60.78" r="1.38"/><circle cx="333.05" cy="85.97" r="1.38"/><circle cx="294.59" cy="65.92" r="1.38"/><circle cx="321.08" cy="73.77" r="1.38"/><circle cx="261.65" cy="64.97" r="1.38"/><circle cx="332.35" cy="56.05" r="1.38"/><circle cx="369.11" cy="62.9" r="1.38"/><circle cx="238.96" cy="77.11" r="1.38"/><circle cx="273.11" cy="62.3" r="1.38"/><circle cx="351.54" cy="55.85" r="1.38"/><circle cx="349" cy="61.01" r="1.38"/><circle cx="351.91" cy="76.43" r="1.38"/><circle cx="259.97" cy="75.59" r="1.38"/><circle cx="307.91" cy="53.66" r="1.38"/><circle cx="239.96" cy="44.37" r="1.38"/><circle cx="289.09" cy="51.9" r="1.38"/><circle cx="309.76" cy="69" r="1.38"/><circle cx="264.53" cy="77.13" r="1.38"/><circle cx="287.83" cy="52.86" r="1.38"/><circle cx="279.86" cy="55.39" r="1.38"/><circle cx="239.76" cy="63.34" r="1.38"/><circle cx="237.46" cy="50.73" r="1.38"/><circle cx="338.96" cy="59.93" r="1.38"/><circle cx="340.22" cy="51.52" r="1.38"/><circle cx="368.16" cy="61.75" r="1.38"/><circle cx="355.48" cy="54.36" r="1.38"/><circle cx="368.33" cy="75.96" r="1.38"/><circle cx="339.6" cy="68.36" r="1.38"/><circle cx="357.09" cy="54.49" r="1.38"/><circle cx="244.22" cy="58.6" r="1.38"/><circle cx="273.09" cy="67.36" r="1.38"/><circle cx="253.53" cy="75.46" r="1.38"/><circle cx="236.32" cy="75.82" r="1.38"/><circle cx="358.31" cy="89.17" r="1.38"/><circle cx="357.35" cy="59.82" r="1.38"/><circle cx="336.96" cy="58.5" r="1.38"/><circle cx="263.74" cy="71.06" r="1.38"/><circle cx="349.11" cy="71.61" r="1.38"/><circle cx="344.38" cy="67.11" r="1.38"/><circle cx="273.8" cy="52.83" r="1.38"/><circle cx="245.88" cy="84.68" r="1.38"/><circle cx="247.01" cy="65.31" r="1.38"/><circle cx="285.95" cy="58.92" r="1.38"/><circle cx="346.23" cy="56.04" r="1.38"/><circle cx="238.57" cy="63.48" r="1.38"/><circle cx="288.91" cy="63.78" r="1.38"/><circle cx="278.21" cy="56.94" r="1.38"/><circle cx="354.81" cy="72.35" r="1.38"/><circle cx="249.49" cy="67.27" r="1.38"/><circle cx="321.08" cy="50.68" r="1.38"/><circle cx="273.71" cy="67.08" r="1.38"/><circle cx="319.79" cy="78.14" r="1.38"/><circle cx="344.82" cy="58.9" r="1.38"/><circle cx="345.16" cy="56.28" r="1.38"/><circle cx="348.13" cy="50" r="1.38"/><circle cx="269.38" cy="61.63" r="1.38"/><circle cx="267" cy="44.35" r="1.38"/><circle cx="245.17" cy="76.8" r="1.38"/><circle cx="264.07" cy="81.34" r="1.38"/><circle cx="244.7" cy="67.12" r="1.38"/><circle cx="339.37" cy="69.56" r="1.38"/><circle cx="234.44" cy="59" r="1.38"/><circle cx="255.01" cy="47.11" r="1.38"/><circle cx="340.25" cy="62.64" r="1.38"/><circle cx="337.16" cy="64.82" r="1.38"/><circle cx="366.36" cy="54.57" r="1.38"/><circle cx="282.34" cy="63.55" r="1.38"/><circle cx="363.53" cy="57.37" r="1.38"/><circle cx="342.81" cy="56.58" r="1.38"/><circle cx="268.48" cy="72.41" r="1.38"/><circle cx="337.83" cy="74.38" r="1.38"/><circle cx="230.46" cy="35.06" r="1.38"/><circle cx="232.66" cy="48.51" r="1.38"/><circle cx="312.89" cy="59.52" r="1.38"/><circle cx="325.14" cy="60.09" r="1.38"/><circle cx="307.75" cy="57.26" r="1.38"/><circle cx="303.51" cy="71.48" r="1.38"/><circle cx="312.75" cy="60.68" r="1.38"/><circle cx="246.35" cy="56.24" r="1.38"/><circle cx="236.76" cy="61.44" r="1.38"/><circle cx="277.47" cy="65.96" r="1.38"/><circle cx="305.72" cy="70.59" r="1.38"/><circle cx="263.15" cy="66.69" r="1.38"/><circle cx="253.2" cy="73.39" r="1.38"/><circle cx="291.28" cy="71.18" r="1.38"/><circle cx="286.06" cy="50.51" r="1.38"/><circle cx="265.97" cy="72.34" r="1.38"/><circle cx="359.75" cy="62.66" r="1.38"/><circle cx="362.01" cy="72.37" r="1.38"/><circle cx="234.36" cy="55.69" r="1.38"/><circle cx="296.08" cy="53.15" r="1.38"/><circle cx="261.57" cy="57.28" r="1.38"/><circle cx="275.57" cy="55.02" r="1.38"/><circle cx="297.57" cy="83.92" r="1.38"/><circle cx="239.11" cy="65.72" r="1.38"/><circle cx="290.05" cy="78.67" r="1.38"/><circle cx="245.6" cy="64.24" r="1.38"/><circle cx="320.18" cy="77.5" r="1.38"/><circle cx="238.86" cy="59.71" r="1.38"/><circle cx="353.9" cy="60.63" r="1.38"/><circle cx="342.02" cy="66.27" r="1.38"/><circle cx="266.05" cy="80.61" r="1.38"/><circle cx="326.2" cy="64.27" r="1.38"/><circle cx="363.29" cy="81.35" r="1.38"/><circle cx="244.26" cy="72.99" r="1.38"/><circle cx="307.48" cy="77.24" r="1.38"/><circle cx="294.01" cy="72.65" r="1.38"/><circle cx="271.9" cy="64.17" r="1.38"/><circle cx="268.71" cy="50.15" r="1.38"/><circle cx="240.02" cy="49.97" r="1.38"/><circle cx="319.87" cy="67.73" r="1.38"/><circle cx="255.86" cy="68.65" r="1.38"/><circle cx="287.91" cy="62.99" r="1.38"/><circle cx="359.9" cy="65.61" r="1.38"/><circle cx="277.31" cy="84.09" r="1.38"/><circle cx="272.74" cy="73.51" r="1.38"/><circle cx="360.52" cy="74.22" r="1.38"/><circle cx="310.82" cy="71.54" r="1.38"/><circle cx="308.96" cy="62.47" r="1.38"/><circle cx="259.38" cy="64.92" r="1.38"/><circle cx="319.03" cy="57.96" r="1.38"/><circle cx="281.71" cy="63.53" r="1.38"/><circle cx="305.16" cy="57.43" r="1.38"/><circle cx="284.34" cy="58.79" r="1.38"/><circle cx="239.25" cy="51.62" r="1.38"/><circle cx="352.72" cy="63.63" r="1.38"/><circle cx="326.23" cy="73" r="1.38"/><circle cx="364.19" cy="82.46" r="1.38"/><circle cx="271.35" cy="60.55" r="1.38"/><circle cx="267.79" cy="40.09" r="1.38"/><circle cx="247.02" cy="82.21" r="1.38"/><circle cx="271.24" cy="52.34" r="1.38"/><circle cx="274.01" cy="64.33" r="1.38"/><circle cx="253.9" cy="65.11" r="1.38"/><circle cx="265.39" cy="76.08" r="1.38"/><circle cx="269.58" cy="55.12" r="1.38"/><circle cx="349.91" cy="68.93" r="1.38"/><circle cx="291.27" cy="54.57" r="1.38"/><circle cx="344.47" cy="68.92" r="1.38"/><circle cx="234.79" cy="58.39" r="1.38"/><circle cx="254.54" cy="50.04" r="1.38"/><circle cx="363.4" cy="69.36" r="1.38"/><circle cx="234.87" cy="50.36" r="1.38"/><circle cx="237.59" cy="67.77" r="1.38"/><circle cx="301.48" cy="65.25" r="1.38"/><circle cx="268.98" cy="59.74" r="1.38"/><circle cx="255.36" cy="56.26" r="1.38"/><circle cx="314.41" cy="42.42" r="1.38"/><circle cx="314.46" cy="45.67" r="1.38"/><circle cx="254.49" cy="53.16" r="1.38"/><circle cx="304.48" cy="51.35" r="1.38"/><circle cx="292.48" cy="48.48" r="1.38"/><circle cx="348.28" cy="78.07" r="1.38"/><circle cx="237.45" cy="70.29" r="1.38"/><circle cx="260.9" cy="66.81" r="1.38"/><circle cx="308.18" cy="75.38" r="1.38"/><circle cx="289.87" cy="62.35" r="1.38"/><circle cx="348.16" cy="74.39" r="1.38"/><circle cx="365.61" cy="57.72" r="1.38"/><circle cx="274.46" cy="62.3" r="1.38"/><circle cx="338.06" cy="62.19" r="1.38"/><circle cx="263.18" cy="65.85" r="1.38"/><circle cx="362.74" cy="31.47" r="1.38"/><circle cx="257.86" cy="75.4" r="1.38"/><circle cx="353.56" cy="67.67" r="1.38"/><circle cx="237.43" cy="55.36" r="1.38"/><circle cx="293.03" cy="64.89" r="1.38"/><circle cx="274.06" cy="55.88" r="1.38"/><circle cx="367.34" cy="63.98" r="1.38"/><circle cx="317.6" cy="77.57" r="1.38"/><circle cx="308.72" cy="70.29" r="1.38"/><circle cx="316.9" cy="65.07" r="1.38"/><circle cx="287.27" cy="78.17" r="1.38"/><circle cx="353.87" cy="83.25" r="1.38"/><circle cx="329.23" cy="56.1" r="1.38"/><circle cx="289" cy="68.98" r="1.38"/><circle cx="268.16" cy="76.79" r="1.38"/><circle cx="248.26" cy="59.54" r="1.38"/><circle cx="272.59" cy="55.97" r="1.38"/><circle cx="278" cy="50.5" r="1.38"/><circle cx="239.16" cy="74.01" r="1.38"/><circle cx="359.45" cy="53.48" r="1.38"/><circle cx="264.45" cy="58.12" r="1.38"/><circle cx="304.62" cy="57.42" r="1.38"/><circle cx="237.12" cy="77.97" r="1.38"/><circle cx="306.33" cy="36.85" r="1.38"/><circle cx="319.72" cy="81.63" r="1.38"/><circle cx="239.06" cy="42.32" r="1.38"/><circle cx="366.67" cy="61.62" r="1.38"/><circle cx="250.94" cy="68.71" r="1.38"/><circle cx="265.15" cy="44.74" r="1.38"/><circle cx="332.61" cy="54.94" r="1.38"/><circle cx="275.67" cy="63.11" r="1.38"/><circle cx="352.58" cy="90.14" r="1.38"/><circle cx="261.63" cy="54.97" r="1.38"/><circle cx="272.42" cy="41.99" r="1.38"/><circle cx="326.31" cy="61.37" r="1.38"/><circle cx="350.2" cy="70.21" r="1.38"/><circle cx="353.59" cy="58.88" r="1.38"/><circle cx="268.74" cy="71.21" r="1.38"/><circle cx="303.33" cy="55" r="1.38"/><circle cx="286.23" cy="56.29" r="1.38"/><circle cx="324" cy="68.91" r="1.38"/><circle cx="260.09" cy="63.36" r="1.38"/><circle cx="347.22" cy="71.12" r="1.38"/><circle cx="329.3" cy="61.43" r="1.38"/><circle cx="252.61" cy="80.57" r="1.38"/><circle cx="272.43" cy="60.46" r="1.38"/><circle cx="275.58" cy="50.92" r="1.38"/><circle cx="360.17" cy="47.44" r="1.38"/><circle cx="292.67" cy="58.5" r="1.38"/><circle cx="315.48" cy="51.33" r="1.38"/><circle cx="360.27" cy="73.68" r="1.38"/><circle cx="284.2" cy="70.03" r="1.38"/><circle cx="362.47" cy="76.24" r="1.38"/><circle cx="269.31" cy="52.49" r="1.38"/><circle cx="235" cy="58.14" r="1.38"/><circle cx="242.32" cy="49.09" r="1.38"/><circle cx="326.31" cy="53.26" r="1.38"/><circle cx="282.02" cy="59.85" r="1.38"/><circle cx="346.43" cy="58.84" r="1.38"/><circle cx="303.62" cy="58.45" r="1.38"/><circle cx="325.36" cy="62.69" r="1.38"/><circle cx="277.92" cy="73.4" r="1.38"/><circle cx="311.35" cy="65.49" r="1.38"/><circle cx="327.13" cy="80.29" r="1.38"/><circle cx="281.37" cy="62" r="1.38"/><circle cx="297.61" cy="69.42" r="1.38"/><circle cx="347.86" cy="68.49" r="1.38"/><circle cx="360.06" cy="52.67" r="1.38"/><circle cx="277.6" cy="58.08" r="1.38"/><circle cx="237.25" cy="44.55" r="1.38"/><circle cx="347.66" cy="64.38" r="1.38"/><circle cx="291.41" cy="61.18" r="1.38"/><circle cx="365.76" cy="57.16" r="1.38"/><circle cx="336.35" cy="64.23" r="1.38"/><circle cx="280.13" cy="57.48" r="1.38"/><circle cx="348.82" cy="75.17" r="1.38"/><circle cx="305.73" cy="57.79" r="1.38"/><circle cx="329.32" cy="74.8" r="1.38"/><circle cx="353.75" cy="60.8" r="1.38"/><circle cx="310.34" cy="84.06" r="1.38"/><circle cx="362.64" cy="58.84" r="1.38"/><circle cx="284.44" cy="54.67" r="1.38"/><circle cx="281.65" cy="62.14" r="1.38"/><circle cx="318.89" cy="43.62" r="1.38"/><circle cx="285.38" cy="47.76" r="1.38"/><circle cx="328.47" cy="58.55" r="1.38"/><circle cx="303.37" cy="62.5" r="1.38"/><circle cx="333.45" cy="58.49" r="1.38"/><circle cx="345.32" cy="53.22" r="1.38"/><circle cx="308.53" cy="55.25" r="1.38"/><circle cx="357.95" cy="79.5" r="1.38"/><circle cx="338.96" cy="81.61" r="1.38"/><circle cx="349.78" cy="91.33" r="1.38"/><circle cx="315.37" cy="60.29" r="1.38"/><circle cx="229.9" cy="70.84" r="1.38"/><circle cx="318.09" cy="64.63" r="1.38"/><circle cx="275.12" cy="52.14" r="1.38"/><circle cx="352.04" cy="66.77" r="1.38"/><circle cx="283.5" cy="57.98" r="1.38"/><circle cx="333.66" cy="46.95" r="1.38"/><circle cx="262.75" cy="63.09" r="1.38"/><circle cx="317.36" cy="60.31" r="1.38"/><circle cx="355.98" cy="65.08" r="1.38"/><circle cx="350.5" cy="77.5" r="1.38"/><circle cx="279.9" cy="57.34" r="1.38"/><circle cx="296.33" cy="53.59" r="1.38"/><circle cx="303.96" cy="47.36" r="1.38"/><circle cx="276.77" cy="79.43" r="1.38"/><circle cx="296.63" cy="55.92" r="1.38"/><circle cx="365.09" cy="57.1" r="1.38"/><circle cx="353.02" cy="51.02" r="1.38"/><circle cx="272.5" cy="64.54" r="1.38"/><circle cx="325.12" cy="62.4" r="1.38"/><circle cx="362.79" cy="72.3" r="1.38"/><circle cx="279.28" cy="69.94" r="1.38"/><circle cx="348.56" cy="71.57" r="1.38"/><circle cx="341.27" cy="50.49" r="1.38"/><circle cx="354.01" cy="70.86" r="1.38"/><circle cx="239.72" cy="56.78" r="1.38"/><circle cx="359.16" cy="62.76" r="1.38"/><circle cx="367.44" cy="77.26" r="1.38"/><circle cx="262.08" cy="52.98" r="1.38"/><circle cx="317.87" cy="51.43" r="1.38"/><circle cx="240.53" cy="44.47" r="1.38"/><circle cx="313.5" cy="68.54" r="1.38"/><circle cx="328.62" cy="59.68" r="1.38"/><circle cx="333.9" cy="60.04" r="1.38"/><circle cx="349.75" cy="61.52" r="1.38"/><circle cx="269.5" cy="56.45" r="1.38"/><circle cx="244.21" cy="56.61" r="1.38"/><circle cx="344.07" cy="67.72" r="1.38"/><circle cx="231.36" cy="43.16" r="1.38"/><circle cx="260.9" cy="77.2" r="1.38"/><circle cx="261.44" cy="68.34" r="1.38"/><circle cx="338.11" cy="54.17" r="1.38"/><circle cx="290.67" cy="58.55" r="1.38"/><circle cx="347.03" cy="66.05" r="1.38"/><circle cx="322.83" cy="78.74" r="1.38"/><circle cx="347.76" cy="46.16" r="1.38"/><circle cx="339.67" cy="63.18" r="1.38"/><circle cx="353.06" cy="60.43" r="1.38"/><circle cx="267.03" cy="66.81" r="1.38"/><circle cx="278.33" cy="58.13" r="1.38"/><circle cx="317.21" cy="64.61" r="1.38"/><circle cx="310.73" cy="59.28" r="1.38"/><circle cx="338.48" cy="57.14" r="1.38"/><circle cx="342.88" cy="57.18" r="1.38"/><circle cx="271.14" cy="72.43" r="1.38"/><circle cx="244.93" cy="64.57" r="1.38"/><circle cx="333.29" cy="56.67" r="1.38"/><circle cx="325.58" cy="61.28" r="1.38"/><circle cx="267.14" cy="61.69" r="1.38"/><circle cx="235.81" cy="45.32" r="1.38"/><circle cx="230.99" cy="46.66" r="1.38"/><circle cx="263.06" cy="71.68" r="1.38"/><circle cx="266.66" cy="61.39" r="1.38"/><circle cx="257.24" cy="68.21" r="1.38"/><circle cx="234.9" cy="56.51" r="1.38"/><circle cx="251.97" cy="63.06" r="1.38"/><circle cx="277.54" cy="68.04" r="1.38"/><circle cx="240.84" cy="83.55" r="1.38"/><circle cx="257.12" cy="65.87" r="1.38"/><circle cx="290.1" cy="64.12" r="1.38"/><circle cx="348.5" cy="71.52" r="1.38"/><circle cx="351.84" cy="59.07" r="1.38"/><circle cx="285.39" cy="77.65" r="1.38"/><circle cx="245.64" cy="59.15" r="1.38"/><circle cx="266.04" cy="76.97" r="1.38"/><circle cx="323.82" cy="45.33" r="1.38"/><circle cx="285.72" cy="69.06" r="1.38"/><circle cx="308.94" cy="56.82" r="1.38"/><circle cx="332.65" cy="51.6" r="1.38"/><circle cx="321.54" cy="30.49" r="1.38"/><circle cx="350.12" cy="63.77" r="1.38"/><circle cx="239.9" cy="81.11" r="1.38"/><circle cx="269.99" cy="60.18" r="1.38"/><circle cx="232.56" cy="65.67" r="1.38"/><circle cx="301.93" cy="61.94" r="1.38"/><circle cx="315.26" cy="59.99" r="1.38"/><circle cx="263.87" cy="69.96" r="1.38"/><circle cx="235.6" cy="56.7" r="1.38"/><circle cx="293.77" cy="93" r="1.38"/><circle cx="251.59" cy="56.93" r="1.38"/><circle cx="255.41" cy="56.59" r="1.38"/><circle cx="282.02" cy="50.26" r="1.38"/><circle cx="362.31" cy="45.34" r="1.38"/><circle cx="278.98" cy="82.94" r="1.38"/><circle cx="328.72" cy="63.35" r="1.38"/><circle cx="280.75" cy="39.98" r="1.38"/><circle cx="285.42" cy="61.78" r="1.38"/><circle cx="247.66" cy="61.85" r="1.38"/><circle cx="253.99" cy="64.95" r="1.38"/><circle cx="337.47" cy="67.06" r="1.38"/><circle cx="288.84" cy="68.11" r="1.38"/><circle cx="268.34" cy="55.64" r="1.38"/><circle cx="368.3" cy="52" r="1.38"/><circle cx="352.78" cy="51.91" r="1.38"/><circle cx="265.35" cy="75.11" r="1.38"/><circle cx="289.56" cy="74.42" r="1.38"/><circle cx="308.45" cy="52.62" r="1.38"/><circle cx="251.37" cy="57.06" r="1.38"/><circle cx="288.56" cy="63.82" r="1.38"/><circle cx="268.16" cy="67.53" r="1.38"/><circle cx="343.12" cy="48.85" r="1.38"/><circle cx="241.17" cy="67.98" r="1.38"/><circle cx="368.92" cy="75.31" r="1.38"/><circle cx="261.25" cy="33.86" r="1.38"/><circle cx="274.87" cy="61.94" r="1.38"/><circle cx="238.47" cy="59.29" r="1.38"/><circle cx="357.73" cy="58.57" r="1.38"/><circle cx="345.65" cy="69.6" r="1.38"/><circle cx="237.33" cy="59.35" r="1.38"/><circle cx="302.93" cy="69.92" r="1.38"/><circle cx="283.33" cy="61.3" r="1.38"/><circle cx="314.03" cy="56.93" r="1.38"/><circle cx="275.55" cy="64.97" r="1.38"/><circle cx="363.91" cy="61.56" r="1.38"/><circle cx="258.75" cy="59.41" r="1.38"/><circle cx="344.53" cy="43.44" r="1.38"/><circle cx="265.82" cy="66.2" r="1.38"/><circle cx="320.21" cy="44.28" r="1.38"/><circle cx="288.63" cy="63.56" r="1.38"/><circle cx="302.6" cy="62.59" r="1.38"/><circle cx="302.06" cy="57.34" r="1.38"/><circle cx="316.86" cy="53.49" r="1.38"/><circle cx="237.39" cy="63.25" r="1.38"/><circle cx="236.17" cy="54.19" r="1.38"/><circle cx="365.99" cy="64.18" r="1.38"/><circle cx="263.75" cy="60.12" r="1.38"/><circle cx="278.52" cy="68.72" r="1.38"/><circle cx="261.85" cy="58.64" r="1.38"/><circle cx="319.67" cy="59.09" r="1.38"/><circle cx="367.85" cy="57.71" r="1.38"/><circle cx="285.06" cy="72.7" r="1.38"/><circle cx="273.47" cy="48.92" r="1.38"/><circle cx="277.48" cy="62.66" r="1.38"/><circle cx="283.78" cy="60.51" r="1.38"/><circle cx="240.5" cy="89.99" r="1.38"/><circle cx="234.54" cy="56.75" r="1.38"/><circle cx="273.84" cy="41.93" r="1.38"/><circle cx="367.91" cy="60.09" r="1.38"/><circle cx="247.82" cy="43.19" r="1.38"/><circle cx="305.88" cy="59.53" r="1.38"/><circle cx="257.21" cy="48.58" r="1.38"/><circle cx="232.94" cy="30.72" r="1.38"/><circle cx="346.92" cy="66.69" r="1.38"/><circle cx="245.83" cy="53.34" r="1.38"/><circle cx="246.95" cy="80.43" r="1.38"/><circle cx="344.1" cy="68.25" r="1.38"/><circle cx="262.42" cy="73.13" r="1.38"/><circle cx="256.03" cy="41.07" r="1.38"/><circle cx="362.05" cy="66.67" r="1.38"/><circle cx="255.38" cy="74.08" r="1.38"/><circle cx="346.16" cy="49.66" r="1.38"/><circle cx="271.39" cy="57.06" r="1.38"/><circle cx="308.27" cy="77.96" r="1.38"/><circle cx="272" cy="79.74" r="1.38"/><circle cx="276.02" cy="51.82" r="1.38"/><circle cx="360.49" cy="64.29" r="1.38"/><circle cx="357" cy="77.34" r="1.38"/><circle cx="252.6" cy="69.99" r="1.38"/><circle cx="330.89" cy="63.59" r="1.38"/><circle cx="247.58" cy="85.1" r="1.38"/><circle cx="270.34" cy="67.71" r="1.38"/><circle cx="237.79" cy="60.28" r="1.38"/><circle cx="319.98" cy="72.15" r="1.38"/><circle cx="331.18" cy="47.02" r="1.38"/><circle cx="334" cy="54.7" r="1.38"/><circle cx="338" cy="64.3" r="1.38"/><circle cx="283.93" cy="72.07" r="1.38"/><circle cx="252.94" cy="44.73" r="1.38"/><circle cx="368.48" cy="48.32" r="1.38"/><circle cx="290.41" cy="65.35" r="1.38"/><circle cx="360.64" cy="88.33" r="1.38"/><circle cx="291.62" cy="83.23" r="1.38"/><circle cx="315.42" cy="50.34" r="1.38"/><circle cx="358.28" cy="66.79" r="1.38"/><circle cx="350.56" cy="88.46" r="1.38"/><circle cx="333.07" cy="67.82" r="1.38"/><circle cx="312.07" cy="49.85" r="1.38"/><circle cx="260.72" cy="77.12" r="1.38"/><circle cx="334.34" cy="44.4" r="1.38"/><circle cx="287.19" cy="63.73" r="1.38"/><circle cx="328.3" cy="63.13" r="1.38"/><circle cx="259.52" cy="47.87" r="1.38"/><circle cx="361.69" cy="48.08" r="1.38"/><circle cx="251.07" cy="57.12" r="1.38"/><circle cx="340.33" cy="62.82" r="1.38"/><circle cx="354.52" cy="71.16" r="1.38"/><circle cx="249.36" cy="31.22" r="1.38"/><circle cx="350.92" cy="55.12" r="1.38"/><circle cx="319.48" cy="47.5" r="1.38"/><circle cx="313.67" cy="55.97" r="1.38"/><circle cx="263.88" cy="81.28" r="1.38"/><circle cx="274.47" cy="49.62" r="1.38"/><circle cx="261.19" cy="62.07" r="1.38"/><circle cx="290.57" cy="45.18" r="1.38"/><circle cx="319.98" cy="53.69" r="1.38"/><circle cx="331.5" cy="65.23" r="1.38"/><circle cx="328.22" cy="67.29" r="1.38"/><circle cx="277.1" cy="84.73" r="1.38"/><circle cx="275.58" cy="58.4" r="1.38"/><circle cx="336.45" cy="74.44" r="1.38"/><circle cx="366.42" cy="84.16" r="1.38"/><circle cx="259.27" cy="58.45" r="1.38"/><circle cx="286.5" cy="69.55" r="1.38"/><circle cx="267.03" cy="83.1" r="1.38"/><circle cx="366.52" cy="41.19" r="1.38"/><circle cx="326.01" cy="63.08" r="1.38"/><circle cx="354.81" cy="59.42" r="1.38"/><circle cx="337.02" cy="84.48" r="1.38"/><circle cx="274.97" cy="42.3" r="1.38"/><circle cx="324.62" cy="61.84" r="1.38"/><circle cx="280.35" cy="70.11" r="1.38"/><circle cx="318.41" cy="55.1" r="1.38"/><circle cx="288.29" cy="64.37" r="1.38"/><circle cx="358.03" cy="67.88" r="1.38"/><circle cx="292.88" cy="58.11" r="1.38"/><circle cx="343.4" cy="92.02" r="1.38"/><circle cx="309.78" cy="76.57" r="1.38"/><circle cx="280.75" cy="48.18" r="1.38"/><circle cx="365.4" cy="64.88" r="1.38"/><circle cx="255.53" cy="67.33" r="1.38"/><circle cx="357.06" cy="51.47" r="1.38"/><circle cx="367.47" cy="57.79" r="1.38"/><circle cx="348.64" cy="73.46" r="1.38"/><circle cx="314.64" cy="64.94" r="1.38"/><circle cx="316.36" cy="58.05" r="1.38"/><circle cx="359.94" cy="69.16" r="1.38"/><circle cx="289.39" cy="64.04" r="1.38"/><circle cx="345.12" cy="55.04" r="1.38"/><circle cx="338.04" cy="66.66" r="1.38"/><circle cx="350.01" cy="56.34" r="1.38"/><circle cx="290.47" cy="63.5" r="1.38"/><circle cx="320.65" cy="48.99" r="1.38"/><circle cx="240.84" cy="60.51" r="1.38"/><circle cx="237.97" cy="85.44" r="1.38"/><circle cx="243.01" cy="66.78" r="1.38"/><circle cx="332.44" cy="52.51" r="1.38"/><circle cx="278.28" cy="62.97" r="1.38"/><circle cx="357.09" cy="25.77" r="1.38"/><circle cx="238.98" cy="73.11" r="1.38"/><circle cx="252.26" cy="62.7" r="1.38"/><circle cx="346.82" cy="56.68" r="1.38"/><circle cx="287.3" cy="60.54" r="1.38"/><circle cx="259.09" cy="47.34" r="1.38"/><circle cx="338.94" cy="64.67" r="1.38"/><circle cx="261.09" cy="71.14" r="1.38"/><circle cx="366.36" cy="51.1" r="1.38"/><circle cx="266.86" cy="42.63" r="1.38"/><circle cx="349.99" cy="63.38" r="1.38"/><circle cx="296.01" cy="53.56" r="1.38"/><circle cx="360.92" cy="65.87" r="1.38"/><circle cx="269.9" cy="62.29" r="1.38"/><circle cx="359.47" cy="56.33" r="1.38"/><circle cx="270.82" cy="73.88" r="1.38"/><circle cx="291.54" cy="55.36" r="1.38"/><circle cx="317.8" cy="53.81" r="1.38"/><circle cx="306.68" cy="84.13" r="1.38"/><circle cx="323.25" cy="75.24" r="1.38"/><circle cx="326.84" cy="47.33" r="1.38"/><circle cx="265.85" cy="65.28" r="1.38"/><circle cx="228.95" cy="70.05" r="1.38"/><circle cx="330.75" cy="45.36" r="1.38"/><circle cx="313.2" cy="64.38" r="1.38"/><circle cx="307.95" cy="62.44" r="1.38"/><circle cx="298.31" cy="65.21" r="1.38"/><circle cx="359.94" cy="66.77" r="1.38"/><circle cx="270.01" cy="60.51" r="1.38"/><circle cx="357.61" cy="61.04" r="1.38"/><circle cx="251.62" cy="74.29" r="1.38"/><circle cx="326.62" cy="46.16" r="1.38"/><circle cx="361.81" cy="71.76" r="1.38"/><circle cx="249.67" cy="60.77" r="1.38"/><circle cx="337.4" cy="37.1" r="1.38"/><circle cx="266.59" cy="52.31" r="1.38"/><circle cx="236.11" cy="55.45" r="1.38"/><circle cx="289.12" cy="64.45" r="1.38"/><circle cx="327.26" cy="70.14" r="1.38"/><circle cx="268.07" cy="53.48" r="1.38"/><circle cx="363.05" cy="61.58" r="1.38"/><circle cx="228.02" cy="77.52" r="1.38"/><circle cx="265.84" cy="80.42" r="1.38"/><circle cx="276.36" cy="66.22" r="1.38"/><circle cx="280.53" cy="89.57" r="1.38"/><circle cx="270.39" cy="58.87" r="1.38"/><circle cx="230.74" cy="54.58" r="1.38"/><circle cx="257.61" cy="69.73" r="1.38"/><circle cx="264.97" cy="52.4" r="1.38"/><circle cx="323.49" cy="55.7" r="1.38"/><circle cx="281.44" cy="78.99" r="1.38"/><circle cx="330.59" cy="55.58" r="1.38"/><circle cx="290.73" cy="51.35" r="1.38"/><circle cx="276.23" cy="76.86" r="1.38"/><circle cx="250.34" cy="65.2" r="1.38"/><circle cx="260.22" cy="58.93" r="1.38"/><circle cx="356.11" cy="65.42" r="1.38"/><circle cx="292.53" cy="54.62" r="1.38"/><circle cx="272.36" cy="50.62" r="1.38"/><circle cx="258.8" cy="75.45" r="1.38"/><circle cx="352.56" cy="66.03" r="1.38"/><circle cx="328" cy="44.64" r="1.38"/><circle cx="326.62" cy="46.59" r="1.38"/><circle cx="342.31" cy="58.6" r="1.38"/><circle cx="262.07" cy="54.49" r="1.38"/><circle cx="331.83" cy="54.53" r="1.38"/><circle cx="237.87" cy="56.99" r="1.38"/><circle cx="322.41" cy="55.76" r="1.38"/><circle cx="273.6" cy="64.8" r="1.38"/><circle cx="321.97" cy="72.81" r="1.38"/><circle cx="259.98" cy="47.63" r="1.38"/><circle cx="278.05" cy="57.85" r="1.38"/><circle cx="323.17" cy="74.52" r="1.38"/><circle cx="361.52" cy="50.32" r="1.38"/><circle cx="276.23" cy="55.25" r="1.38"/><circle cx="251.79" cy="63.82" r="1.38"/><circle cx="245.45" cy="42.07" r="1.38"/><circle cx="323.33" cy="70.92" r="1.38"/><circle cx="355.09" cy="60.23" r="1.38"/><circle cx="230.12" cy="74.48" r="1.38"/><circle cx="276.83" cy="58.45" r="1.38"/><circle cx="251.76" cy="70.05" r="1.38"/><circle cx="363.68" cy="66.21" r="1.38"/><circle cx="246.54" cy="61.38" r="1.38"/><circle cx="237.47" cy="60.9" r="1.38"/><circle cx="337.1" cy="56.13" r="1.38"/><circle cx="369.99" cy="49.68" r="1.38"/><circle cx="337.92" cy="60.57" r="1.38"/><circle cx="244.02" cy="70.88" r="1.38"/><circle cx="285.8" cy="40.26" r="1.38"/><circle cx="301.77" cy="53.58" r="1.38"/><circle cx="355.71" cy="59.11" r="1.38"/><circle cx="335" cy="50.7" r="1.38"/><circle cx="236.25" cy="60.01" r="1.38"/><circle cx="292.23" cy="65.12" r="1.38"/><circle cx="338.61" cy="64.18" r="1.38"/><circle cx="305.07" cy="49.48" r="1.38"/><circle cx="322.67" cy="42.11" r="1.38"/><circle cx="365.5" cy="81.35" r="1.38"/><circle cx="367.1" cy="75.68" r="1.38"/><circle cx="346.91" cy="54.77" r="1.38"/><circle cx="309.16" cy="72.01" r="1.38"/><circle cx="271.51" cy="56.61" r="1.38"/><circle cx="250.45" cy="60.72" r="1.38"/><circle cx="251.56" cy="71.49" r="1.38"/><circle cx="318.93" cy="65.95" r="1.38"/><circle cx="337.79" cy="71.05" r="1.38"/><circle cx="350.01" cy="79.88" r="1.38"/><circle cx="357.89" cy="59" r="1.38"/><circle cx="268.7" cy="76.86" r="1.38"/><circle cx="275.34" cy="62.43" r="1.38"/><circle cx="255.65" cy="74.56" r="1.38"/><circle cx="305.18" cy="76.06" r="1.38"/><circle cx="362.54" cy="54.16" r="1.38"/><circle cx="335.61" cy="49.65" r="1.38"/><circle cx="289.92" cy="72.99" r="1.38"/><circle cx="250.35" cy="63.68" r="1.38"/><circle cx="347.75" cy="66.49" r="1.38"/><circle cx="355.36" cy="52.98" r="1.38"/><circle cx="337.1" cy="52.9" r="1.38"/><circle cx="269.31" cy="36.31" r="1.38"/><circle cx="283.29" cy="64.3" r="1.38"/><circle cx="310.82" cy="68.98" r="1.38"/><circle cx="358.44" cy="75.43" r="1.38"/><circle cx="262.28" cy="62.27" r="1.38"/><circle cx="287.48" cy="65.68" r="1.38"/><circle cx="236.27" cy="61.49" r="1.38"/><circle cx="324.93" cy="57.93" r="1.38"/><circle cx="262.36" cy="80.48" r="1.38"/><circle cx="342.93" cy="63.42" r="1.38"/><circle cx="323.9" cy="67.65" r="1.38"/><circle cx="295.61" cy="61.16" r="1.38"/><circle cx="286.04" cy="62.52" r="1.38"/><circle cx="265.43" cy="46.88" r="1.38"/><circle cx="336.82" cy="78.98" r="1.38"/><circle cx="297.17" cy="80.82" r="1.38"/><circle cx="237.67" cy="61.78" r="1.38"/><circle cx="317.03" cy="59.65" r="1.38"/><circle cx="369.16" cy="62.24" r="1.38"/><circle cx="238.07" cy="58.64" r="1.38"/><circle cx="369.72" cy="67.28" r="1.38"/><circle cx="241.87" cy="59.4" r="1.38"/><circle cx="271.53" cy="71.9" r="1.38"/><circle cx="366.79" cy="60.95" r="1.38"/><circle cx="366.17" cy="86.15" r="1.38"/><circle cx="254" cy="57.39" r="1.38"/><circle cx="330.3" cy="72.08" r="1.38"/><circle cx="314.96" cy="52.02" r="1.38"/><circle cx="284.4" cy="33.06" r="1.38"/><circle cx="339.33" cy="60.25" r="1.38"/><circle cx="318.09" cy="47.81" r="1.38"/><circle cx="259.76" cy="72.3" r="1.38"/><circle cx="297.52" cy="53.74" r="1.38"/><circle cx="328.76" cy="67.83" r="1.38"/><circle cx="316.23" cy="53.44" r="1.38"/><circle cx="305.04" cy="62.96" r="1.38"/><circle cx="332.75" cy="62.61" r="1.38"/><circle cx="246.89" cy="72.81" r="1.38"/><circle cx="332.63" cy="64.7" r="1.38"/><circle cx="232.38" cy="46.07" r="1.38"/><circle cx="316.09" cy="35.71" r="1.38"/><circle cx="289.58" cy="55.09" r="1.38"/><circle cx="346.75" cy="68.85" r="1.38"/><circle cx="366.08" cy="59.01" r="1.38"/><circle cx="243.65" cy="72.84" r="1.38"/><circle cx="281.67" cy="59.47" r="1.38"/><circle cx="287.45" cy="60.22" r="1.38"/><circle cx="305.54" cy="61.81" r="1.38"/><circle cx="357.25" cy="61.83" r="1.38"/><circle cx="313.16" cy="61.7" r="1.38"/><circle cx="271.12" cy="66.74" r="1.38"/><circle cx="322.14" cy="56.17" r="1.38"/><circle cx="274.57" cy="58" r="1.38"/><circle cx="306.78" cy="63.59" r="1.38"/><circle cx="241.75" cy="53.27" r="1.38"/><circle cx="308.03" cy="77.44" r="1.38"/><circle cx="295.87" cy="61.3" r="1.38"/><circle cx="319.64" cy="38.24" r="1.38"/><circle cx="308.42" cy="56.68" r="1.38"/><circle cx="309.28" cy="70.69" r="1.38"/><circle cx="332.71" cy="66.98" r="1.38"/><circle cx="246.71" cy="57.98" r="1.38"/><circle cx="334.76" cy="56.35" r="1.38"/><circle cx="316.55" cy="72.68" r="1.38"/><circle cx="325.78" cy="62.05" r="1.38"/><circle cx="284.61" cy="67.01" r="1.38"/><circle cx="239.83" cy="66.12" r="1.38"/><circle cx="359.04" cy="70.12" r="1.38"/><circle cx="345.49" cy="46.86" r="1.38"/><circle cx="366.73" cy="60.79" r="1.38"/><circle cx="293.27" cy="71.25" r="1.38"/><circle cx="353.72" cy="63.41" r="1.38"/><circle cx="351.84" cy="51.71" r="1.38"/><circle cx="306.03" cy="75.97" r="1.38"/><circle cx="355.97" cy="62.6" r="1.38"/><circle cx="343.74" cy="62.02" r="1.38"/><circle cx="242.33" cy="46.68" r="1.38"/><circle cx="246.76" cy="51.63" r="1.38"/><circle cx="285.73" cy="72.27" r="1.38"/><circle cx="303.6" cy="66.54" r="1.38"/><circle cx="320.66" cy="79.61" r="1.38"/><circle cx="308.08" cy="54.33" r="1.38"/><circle cx="352.48" cy="68.23" r="1.38"/><circle cx="341.75" cy="68.64" r="1.38"/><circle cx="242.3" cy="58.63" r="1.38"/><circle cx="276.02" cy="68.42" r="1.38"/><circle cx="354.17" cy="76.31" r="1.38"/><circle cx="335.26" cy="56.29" r="1.38"/><circle cx="343.78" cy="61.54" r="1.38"/><circle cx="316.97" cy="60.75" r="1.38"/><circle cx="245.69" cy="71.05" r="1.38"/><circle cx="299.4" cy="67.82" r="1.38"/><circle cx="369.31" cy="72.38" r="1.38"/><circle cx="238.41" cy="58.28" r="1.38"/><circle cx="345.01" cy="71.19" r="1.38"/><circle cx="296.6" cy="61.75" r="1.38"/><circle cx="367.12" cy="52.81" r="1.38"/><circle cx="350.13" cy="72.82" r="1.38"/><circle cx="236.94" cy="73.65" r="1.38"/><circle cx="319.33" cy="61.97" r="1.38"/><circle cx="350.24" cy="69.77" r="1.38"/><circle cx="267.47" cy="48.65" r="1.38"/><circle cx="328.08" cy="101.37" r="1.38"/><circle cx="263.92" cy="70.06" r="1.38"/><circle cx="256.94" cy="61.88" r="1.38"/><circle cx="275.02" cy="64.7" r="1.38"/><circle cx="269.44" cy="59.22" r="1.38"/><circle cx="364.78" cy="51.52" r="1.38"/><circle cx="261.17" cy="60.37" r="1.38"/><circle cx="288.17" cy="67.59" r="1.38"/><circle cx="296.9" cy="56.3" r="1.38"/><circle cx="326.15" cy="69.75" r="1.38"/><circle cx="365.86" cy="71.31" r="1.38"/><circle cx="315.15" cy="65.27" r="1.38"/><circle cx="350.28" cy="52.56" r="1.38"/><circle cx="246.42" cy="58.32" r="1.38"/><circle cx="321.91" cy="65.54" r="1.38"/><circle cx="252.26" cy="76.75" r="1.38"/><circle cx="351.81" cy="63.09" r="1.38"/><circle cx="312.53" cy="57.45" r="1.38"/><circle cx="247.1" cy="68.24" r="1.38"/><circle cx="348.79" cy="59.98" r="1.38"/><circle cx="302.48" cy="61.39" r="1.38"/><circle cx="296.87" cy="61.3" r="1.38"/><circle cx="239.26" cy="69.16" r="1.38"/><circle cx="356.88" cy="63.9" r="1.38"/><circle cx="300.9" cy="77.24" r="1.38"/><circle cx="350.85" cy="50.95" r="1.38"/><circle cx="238.42" cy="53.66" r="1.38"/><circle cx="324.51" cy="64.28" r="1.38"/><circle cx="281.18" cy="65.62" r="1.38"/><circle cx="304.13" cy="59.26" r="1.38"/><circle cx="316.63" cy="67.45" r="1.38"/><circle cx="345.32" cy="37.3" r="1.38"/><circle cx="359.21" cy="69.5" r="1.38"/><circle cx="251.45" cy="71.39" r="1.38"/><circle cx="350.14" cy="79.34" r="1.38"/><circle cx="244.34" cy="67.37" r="1.38"/><circle cx="229.24" cy="59.59" r="1.38"/><circle cx="270.61" cy="81.87" r="1.38"/><circle cx="268.25" cy="59.91" r="1.38"/><circle cx="337.54" cy="57.5" r="1.38"/><circle cx="307.52" cy="59.29" r="1.38"/><circle cx="282.99" cy="63.61" r="1.38"/><circle cx="340.32" cy="61.21" r="1.38"/><circle cx="360.99" cy="61.42" r="1.38"/><circle cx="319.05" cy="62.66" r="1.38"/><circle cx="320.72" cy="61.99" r="1.38"/><circle cx="350.43" cy="78.58" r="1.38"/><circle cx="269.4" cy="75.55" r="1.38"/><circle cx="369.55" cy="48.15" r="1.38"/><circle cx="252.8" cy="67.44" r="1.38"/><circle cx="234.15" cy="92.29" r="1.38"/><circle cx="344.95" cy="69.3" r="1.38"/><circle cx="252.54" cy="68.21" r="1.38"/><circle cx="275.49" cy="78.54" r="1.38"/><circle cx="300.78" cy="64.45" r="1.38"/><circle cx="243.53" cy="59" r="1.38"/><circle cx="288.06" cy="71.85" r="1.38"/><circle cx="278.1" cy="24.25" r="1.38"/><circle cx="239.91" cy="64.35" r="1.38"/><circle cx="313.59" cy="41.06" r="1.38"/><circle cx="291.95" cy="72.8" r="1.38"/><circle cx="250.45" cy="54.77" r="1.38"/><circle cx="339.95" cy="68.73" r="1.38"/><circle cx="286.11" cy="52.24" r="1.38"/><circle cx="356.41" cy="69.3" r="1.38"/><circle cx="352.96" cy="67.08" r="1.38"/><circle cx="285.98" cy="44.95" r="1.38"/><circle cx="240.79" cy="53.65" r="1.38"/><circle cx="268.85" cy="57.57" r="1.38"/><circle cx="264.03" cy="74.4" r="1.38"/><circle cx="233.96" cy="76.55" r="1.38"/><circle cx="274.83" cy="53.38" r="1.38"/><circle cx="251.73" cy="70.01" r="1.38"/><circle cx="258.12" cy="68.9" r="1.38"/><circle cx="323.74" cy="70.6" r="1.38"/><circle cx="250.25" cy="53.07" r="1.38"/><circle cx="361.17" cy="63.62" r="1.38"/><circle cx="253.13" cy="68.69" r="1.38"/><circle cx="269.78" cy="68.33" r="1.38"/><circle cx="251.21" cy="66.99" r="1.38"/><circle cx="312.77" cy="43.61" r="1.38"/><circle cx="352.99" cy="59.64" r="1.38"/><circle cx="346.01" cy="56.13" r="1.38"/><circle cx="294.72" cy="67.82" r="1.38"/><circle cx="339.59" cy="65.47" r="1.38"/><circle cx="340.3" cy="61.58" r="1.38"/><circle cx="318.11" cy="52.36" r="1.38"/><circle cx="342.03" cy="58.49" r="1.38"/><circle cx="281.63" cy="52.55" r="1.38"/><circle cx="334.23" cy="69.68" r="1.38"/><circle cx="302.15" cy="59.78" r="1.38"/><circle cx="332.91" cy="58.18" r="1.38"/><circle cx="332.98" cy="60.81" r="1.38"/><circle cx="237.1" cy="65.07" r="1.38"/><circle cx="346.45" cy="63.38" r="1.38"/><circle cx="232.84" cy="69.12" r="1.38"/><circle cx="288.58" cy="63.73" r="1.38"/><circle cx="311.88" cy="62.41" r="1.38"/><circle cx="344.99" cy="53.51" r="1.38"/><circle cx="235.9" cy="65.3" r="1.38"/><circle cx="323.35" cy="67.3" r="1.38"/><circle cx="276.84" cy="50.01" r="1.38"/><circle cx="254.4" cy="60.93" r="1.38"/><circle cx="275.04" cy="44.73" r="1.38"/><circle cx="318.94" cy="52.04" r="1.38"/><circle cx="239.5" cy="60.99" r="1.38"/><circle cx="348.53" cy="63.64" r="1.38"/><circle cx="311.98" cy="47.16" r="1.38"/><circle cx="261.76" cy="62.57" r="1.38"/><circle cx="274.65" cy="68.19" r="1.38"/><circle cx="236.85" cy="65.57" r="1.38"/><circle cx="359.53" cy="53.57" r="1.38"/><circle cx="365.34" cy="78.4" r="1.38"/><circle cx="356.6" cy="70.29" r="1.38"/><circle cx="256.02" cy="66.88" r="1.38"/><circle cx="346.37" cy="61.2" r="1.38"/><circle cx="275.81" cy="70.39" r="1.38"/><circle cx="268.83" cy="64.51" r="1.38"/><circle cx="325.98" cy="49.58" r="1.38"/><circle cx="239.86" cy="74.82" r="1.38"/><circle cx="228.47" cy="64.03" r="1.38"/><circle cx="360.3" cy="61.6" r="1.38"/><circle cx="278.11" cy="60.01" r="1.38"/><circle cx="340.93" cy="57.27" r="1.38"/><circle cx="288.35" cy="59.7" r="1.38"/><circle cx="240.91" cy="65.07" r="1.38"/><circle cx="295.29" cy="56.59" r="1.38"/><circle cx="252.05" cy="55.91" r="1.38"/><circle cx="239.22" cy="46.92" r="1.38"/><circle cx="230.4" cy="64.51" r="1.38"/><circle cx="284.79" cy="68.57" r="1.38"/><circle cx="264.53" cy="61.96" r="1.38"/><circle cx="275.56" cy="80.06" r="1.38"/><circle cx="364.68" cy="67.97" r="1.38"/><circle cx="345.81" cy="67.97" r="1.38"/><circle cx="328.25" cy="69.22" r="1.38"/><circle cx="262.46" cy="55.12" r="1.38"/><circle cx="334.51" cy="45.13" r="1.38"/><circle cx="327.1" cy="57.75" r="1.38"/><circle cx="302.9" cy="67.21" r="1.38"/><circle cx="261.73" cy="40.16" r="1.38"/><circle cx="257.3" cy="61.2" r="1.38"/><circle cx="287.45" cy="36.47" r="1.38"/><circle cx="267.09" cy="57.29" r="1.38"/><circle cx="353.73" cy="60.7" r="1.38"/><circle cx="294.05" cy="61.69" r="1.38"/><circle cx="324.23" cy="66.03" r="1.38"/><circle cx="355.48" cy="49.24" r="1.38"/><circle cx="316.17" cy="68.75" r="1.38"/><circle cx="250.6" cy="51.06" r="1.38"/><circle cx="273.19" cy="74.44" r="1.38"/><circle cx="359.12" cy="69.26" r="1.38"/><circle cx="296.9" cy="54.57" r="1.38"/><circle cx="259.28" cy="64.68" r="1.38"/><circle cx="315.73" cy="39.36" r="1.38"/><circle cx="349.37" cy="75.7" r="1.38"/><circle cx="344.56" cy="53.39" r="1.38"/><circle cx="331.8" cy="101.75" r="1.38"/><circle cx="327.72" cy="42.28" r="1.38"/><circle cx="280.91" cy="78.96" r="1.38"/><circle cx="236.44" cy="63.58" r="1.38"/><circle cx="318.26" cy="29.02" r="1.38"/><circle cx="238.04" cy="70.2" r="1.38"/><circle cx="341.42" cy="66.14" r="1.38"/><circle cx="246.38" cy="79.91" r="1.38"/><circle cx="231.2" cy="46" r="1.38"/><circle cx="370.03" cy="60.01" r="1.38"/><circle cx="251.54" cy="51.15" r="1.38"/><circle cx="310.59" cy="52.33" r="1.38"/><circle cx="236.47" cy="66.56" r="1.38"/><circle cx="367.4" cy="58.64" r="1.38"/><circle cx="324.82" cy="46.52" r="1.38"/><circle cx="325.68" cy="65.28" r="1.38"/><circle cx="347.87" cy="51.34" r="1.38"/><circle cx="269.9" cy="62.49" r="1.38"/><circle cx="307.35" cy="69.46" r="1.38"/><circle cx="232.98" cy="60.73" r="1.38"/><circle cx="236.38" cy="52.22" r="1.38"/><circle cx="335.16" cy="73.02" r="1.38"/><circle cx="302.98" cy="64.2" r="1.38"/><circle cx="355.4" cy="41.86" r="1.38"/><circle cx="317.79" cy="65.07" r="1.38"/><circle cx="312.32" cy="66.81" r="1.38"/><circle cx="256.45" cy="68.87" r="1.38"/><circle cx="259.55" cy="64.99" r="1.38"/><circle cx="367.08" cy="62.96" r="1.38"/><circle cx="363.35" cy="59.64" r="1.38"/><circle cx="290.06" cy="60.4" r="1.38"/><circle cx="340.94" cy="74.82" r="1.38"/><circle cx="330.27" cy="59.23" r="1.38"/><circle cx="267.25" cy="57.2" r="1.38"/><circle cx="256.18" cy="57.17" r="1.38"/><circle cx="334.36" cy="67.85" r="1.38"/><circle cx="364.82" cy="57.13" r="1.38"/><circle cx="367.81" cy="66.36" r="1.38"/><circle cx="278.58" cy="64.61" r="1.38"/><circle cx="237.04" cy="80.85" r="1.38"/><circle cx="273.16" cy="58.25" r="1.38"/><circle cx="237.66" cy="66.52" r="1.38"/><circle cx="368.39" cy="58.32" r="1.38"/><circle cx="271.45" cy="65.97" r="1.38"/><circle cx="348.42" cy="61.91" r="1.38"/><circle cx="262.8" cy="73.5" r="1.38"/><circle cx="364.43" cy="57.75" r="1.38"/><circle cx="297.37" cy="49.73" r="1.38"/><circle cx="346.47" cy="49.36" r="1.38"/><circle cx="313.06" cy="63.99" r="1.38"/><circle cx="336.81" cy="52.06" r="1.38"/><circle cx="238.08" cy="58.36" r="1.38"/><circle cx="240.18" cy="57.03" r="1.38"/><circle cx="278.59" cy="80.51" r="1.38"/><circle cx="352.7" cy="72.48" r="1.38"/><circle cx="357.22" cy="53.93" r="1.38"/><circle cx="328.92" cy="60.83" r="1.38"/><circle cx="312.98" cy="48.53" r="1.38"/><circle cx="234.7" cy="70.67" r="1.38"/><circle cx="359.89" cy="68.97" r="1.38"/><circle cx="321.7" cy="59.76" r="1.38"/><circle cx="315.43" cy="45.21" r="1.38"/><circle cx="347.64" cy="57.3" r="1.38"/><circle cx="261.37" cy="61.19" r="1.38"/><circle cx="316" cy="46.25" r="1.38"/><circle cx="324.97" cy="61.57" r="1.38"/><circle cx="335.41" cy="54.58" r="1.38"/><circle cx="241.2" cy="50.9" r="1.38"/><circle cx="331.44" cy="50.52" r="1.38"/><circle cx="356.29" cy="50.36" r="1.38"/><circle cx="317.21" cy="58.45" r="1.38"/><circle cx="251.9" cy="56.81" r="1.38"/><circle cx="358.56" cy="59.09" r="1.38"/><circle cx="242.24" cy="58.8" r="1.38"/><circle cx="260.51" cy="57.82" r="1.38"/><circle cx="349.47" cy="55.57" r="1.38"/><circle cx="311.56" cy="62.91" r="1.38"/><circle cx="275.51" cy="73.36" r="1.38"/><circle cx="342.15" cy="58.39" r="1.38"/><circle cx="319.91" cy="61.2" r="1.38"/><circle cx="244.53" cy="70.37" r="1.38"/><circle cx="260.76" cy="53.98" r="1.38"/><circle cx="343.16" cy="30.58" r="1.38"/><circle cx="343.23" cy="55.64" r="1.38"/><circle cx="238.28" cy="83.76" r="1.38"/><circle cx="301.99" cy="49.5" r="1.38"/><circle cx="329.26" cy="61.64" r="1.38"/><circle cx="274.05" cy="72.65" r="1.38"/><circle cx="236.64" cy="73.19" r="1.38"/><circle cx="287.12" cy="67.17" r="1.38"/><circle cx="360.86" cy="36.3" r="1.38"/><circle cx="331.72" cy="67.68" r="1.38"/><circle cx="258.09" cy="49.36" r="1.38"/><circle cx="348.02" cy="62.69" r="1.38"/><circle cx="322.79" cy="74.6" r="1.38"/><circle cx="269.03" cy="45.69" r="1.38"/><circle cx="265.96" cy="49.38" r="1.38"/><circle cx="252.92" cy="66.33" r="1.38"/><circle cx="285.35" cy="60.87" r="1.38"/><circle cx="278.99" cy="44.57" r="1.38"/><circle cx="268.34" cy="72.45" r="1.38"/><circle cx="352.16" cy="56.38" r="1.38"/><circle cx="336.08" cy="86.87" r="1.38"/><circle cx="297.89" cy="76.66" r="1.38"/><circle cx="364.83" cy="49.61" r="1.38"/><circle cx="323.66" cy="57.91" r="1.38"/><circle cx="363.29" cy="55.86" r="1.38"/><circle cx="345.18" cy="76.77" r="1.38"/><circle cx="318.06" cy="57.65" r="1.38"/><circle cx="326.51" cy="44.93" r="1.38"/><circle cx="338.08" cy="62.35" r="1.38"/><circle cx="335.56" cy="68.94" r="1.38"/><circle cx="352.13" cy="63.56" r="1.38"/><circle cx="276.12" cy="62.6" r="1.38"/><circle cx="279.46" cy="55.7" r="1.38"/><circle cx="262.87" cy="72.56" r="1.38"/><circle cx="359.01" cy="70.72" r="1.38"/><circle cx="356.43" cy="66.33" r="1.38"/><circle cx="290.66" cy="56.34" r="1.38"/><circle cx="284.84" cy="55.14" r="1.38"/><circle cx="246.58" cy="51.45" r="1.38"/><circle cx="366.62" cy="79.36" r="1.38"/><circle cx="323.4" cy="72.01" r="1.38"/><circle cx="364.95" cy="64.81" r="1.38"/><circle cx="317.75" cy="48.39" r="1.38"/><circle cx="300.9" cy="71.52" r="1.38"/><circle cx="334.36" cy="65.05" r="1.38"/><circle cx="354.04" cy="52.22" r="1.38"/><circle cx="348.05" cy="65.01" r="1.38"/><circle cx="276.98" cy="62.05" r="1.38"/><circle cx="299.89" cy="70.88" r="1.38"/><circle cx="362.27" cy="49.3" r="1.38"/><circle cx="299.82" cy="61.54" r="1.38"/><circle cx="341.94" cy="72.05" r="1.38"/><circle cx="302.46" cy="54.4" r="1.38"/><circle cx="346.28" cy="70.51" r="1.38"/><circle cx="237.42" cy="73.46" r="1.38"/><circle cx="227.88" cy="74.44" r="1.38"/><circle cx="240.62" cy="58.88" r="1.38"/><circle cx="289.8" cy="70.72" r="1.38"/><circle cx="280.04" cy="84.83" r="1.38"/><circle cx="364.3" cy="61.51" r="1.38"/><circle cx="369.71" cy="62.65" r="1.38"/><circle cx="246.87" cy="81.69" r="1.38"/><circle cx="346.54" cy="83.96" r="1.38"/><circle cx="300.23" cy="63.28" r="1.38"/><circle cx="347.53" cy="56.81" r="1.38"/><circle cx="280.28" cy="76.5" r="1.38"/><circle cx="337.76" cy="60.56" r="1.38"/><circle cx="369.43" cy="63.73" r="1.38"/><circle cx="294.33" cy="62.81" r="1.38"/><circle cx="275.1" cy="61.84" r="1.38"/><circle cx="263.59" cy="56.06" r="1.38"/><circle cx="270.5" cy="72.64" r="1.38"/><circle cx="287.4" cy="62.21" r="1.38"/><circle cx="298.34" cy="53.32" r="1.38"/><circle cx="302.48" cy="57.63" r="1.38"/><circle cx="332.33" cy="48.03" r="1.38"/><circle cx="345.47" cy="73.75" r="1.38"/><circle cx="364.65" cy="49.69" r="1.38"/><circle cx="323.01" cy="59.35" r="1.38"/><circle cx="264.27" cy="61.95" r="1.38"/><circle cx="310.15" cy="69.13" r="1.38"/><circle cx="290.16" cy="76.84" r="1.38"/><circle cx="261.19" cy="56.96" r="1.38"/><circle cx="275.05" cy="80.97" r="1.38"/><circle cx="260.34" cy="49.45" r="1.38"/><circle cx="304.45" cy="60.21" r="1.38"/><circle cx="237.12" cy="60.35" r="1.38"/><circle cx="305.08" cy="70.82" r="1.38"/><circle cx="286.36" cy="67.68" r="1.38"/><circle cx="228.63" cy="81.04" r="1.38"/><circle cx="266.98" cy="56.49" r="1.38"/><circle cx="366" cy="74.52" r="1.38"/><circle cx="310.25" cy="46.05" r="1.38"/><circle cx="236.93" cy="61.05" r="1.38"/><circle cx="309.98" cy="55.72" r="1.38"/><circle cx="327.97" cy="81.75" r="1.38"/><circle cx="246.89" cy="57.78" r="1.38"/><circle cx="285.06" cy="46.73" r="1.38"/><circle cx="258.16" cy="58.03" r="1.38"/><circle cx="304.98" cy="69.31" r="1.38"/><circle cx="344.84" cy="59" r="1.38"/><circle cx="261.84" cy="58.72" r="1.38"/><circle cx="247.56" cy="60.31" r="1.38"/><circle cx="247.52" cy="59.21" r="1.38"/><circle cx="315.21" cy="76.16" r="1.38"/><circle cx="237.58" cy="64.48" r="1.38"/><circle cx="302.68" cy="54.14" r="1.38"/><circle cx="343.08" cy="51.96" r="1.38"/><circle cx="336.87" cy="77.03" r="1.38"/><circle cx="323.16" cy="47.84" r="1.38"/><circle cx="229.26" cy="84.87" r="1.38"/><circle cx="289.2" cy="61.84" r="1.38"/><circle cx="262.37" cy="59.27" r="1.38"/><circle cx="301.08" cy="68.84" r="1.38"/><circle cx="249.33" cy="60.22" r="1.38"/><circle cx="246.96" cy="51.74" r="1.38"/><circle cx="363.21" cy="55.8" r="1.38"/><circle cx="353.13" cy="67.44" r="1.38"/><circle cx="241.62" cy="59.13" r="1.38"/><circle cx="345.6" cy="74.12" r="1.38"/><circle cx="237.1" cy="56.66" r="1.38"/><circle cx="275.98" cy="45.38" r="1.38"/><circle cx="369.28" cy="76.86" r="1.38"/><circle cx="361.67" cy="76.09" r="1.38"/><circle cx="294.29" cy="61.31" r="1.38"/><circle cx="327.69" cy="58.09" r="1.38"/><circle cx="282.21" cy="73" r="1.38"/><circle cx="348.59" cy="52.21" r="1.38"/><circle cx="272.73" cy="32.25" r="1.38"/><circle cx="257.08" cy="60.23" r="1.38"/><circle cx="248.28" cy="65.5" r="1.38"/><circle cx="317.54" cy="63.49" r="1.38"/><circle cx="307.15" cy="60.64" r="1.38"/><circle cx="356.29" cy="73.36" r="1.38"/><circle cx="248.61" cy="56.5" r="1.38"/><circle cx="342.3" cy="55.19" r="1.38"/><circle cx="362.14" cy="52.71" r="1.38"/><circle cx="334.09" cy="78.07" r="1.38"/><circle cx="244.08" cy="69.52" r="1.38"/><circle cx="249.56" cy="64.06" r="1.38"/><circle cx="240.22" cy="69.27" r="1.38"/><circle cx="275.25" cy="60.11" r="1.38"/><circle cx="335.81" cy="51.76" r="1.38"/><circle cx="248.34" cy="53.09" r="1.38"/><circle cx="291.65" cy="56.62" r="1.38"/><circle cx="259.58" cy="70.59" r="1.38"/><circle cx="324.31" cy="70.2" r="1.38"/><circle cx="241.75" cy="55.3" r="1.38"/><circle cx="340.66" cy="53.31" r="1.38"/><circle cx="314.97" cy="53.17" r="1.38"/><circle cx="254.84" cy="66.06" r="1.38"/><circle cx="327.18" cy="70.36" r="1.38"/><circle cx="277.44" cy="72.13" r="1.38"/><circle cx="302.3" cy="68.25" r="1.38"/><circle cx="306.98" cy="76.43" r="1.38"/><circle cx="266.39" cy="66.83" r="1.38"/><circle cx="287.11" cy="65.98" r="1.38"/><circle cx="339.7" cy="65.08" r="1.38"/><circle cx="350.84" cy="68.73" r="1.38"/><circle cx="348.58" cy="62.09" r="1.38"/><circle cx="308.63" cy="50.55" r="1.38"/><circle cx="351.97" cy="75.38" r="1.38"/><circle cx="247.7" cy="64.29" r="1.38"/><circle cx="367.83" cy="66.46" r="1.38"/><circle cx="320.58" cy="59.74" r="1.38"/><circle cx="355.78" cy="55.33" r="1.38"/><circle cx="340.47" cy="67.25" r="1.38"/><circle cx="283.27" cy="64.07" r="1.38"/><circle cx="340.28" cy="79.25" r="1.38"/><circle cx="364.1" cy="70.19" r="1.38"/><circle cx="251.07" cy="74.02" r="1.38"/><circle cx="320.2" cy="67.74" r="1.38"/><circle cx="228.33" cy="70.89" r="1.38"/><circle cx="322.33" cy="67.01" r="1.38"/><circle cx="236.46" cy="56.26" r="1.38"/><circle cx="322.82" cy="90.86" r="1.38"/><circle cx="315.61" cy="52.77" r="1.38"/><circle cx="285.16" cy="68.67" r="1.38"/><circle cx="351.16" cy="48.67" r="1.38"/><circle cx="271.35" cy="51.52" r="1.38"/><circle cx="365.75" cy="62.03" r="1.38"/><circle cx="294.84" cy="62.07" r="1.38"/><circle cx="253.62" cy="49.52" r="1.38"/><circle cx="361.06" cy="59.84" r="1.38"/><circle cx="249.84" cy="68.06" r="1.38"/><circle cx="312.31" cy="60.62" r="1.38"/><circle cx="361.98" cy="36.85" r="1.38"/><circle cx="361.68" cy="63.61" r="1.38"/><circle cx="306.84" cy="85.21" r="1.38"/><circle cx="257.92" cy="60.52" r="1.38"/><circle cx="299" cy="72.57" r="1.38"/><circle cx="269.29" cy="57.24" r="1.38"/><circle cx="272.47" cy="54.21" r="1.38"/><circle cx="272.92" cy="75.64" r="1.38"/><circle cx="256.44" cy="56.02" r="1.38"/><circle cx="233.22" cy="70.84" r="1.38"/><circle cx="334.63" cy="69.53" r="1.38"/><circle cx="356.91" cy="69.99" r="1.38"/><circle cx="309.34" cy="68.06" r="1.38"/><circle cx="280" cy="56.79" r="1.38"/><circle cx="320.29" cy="60.67" r="1.38"/><circle cx="310.4" cy="52.02" r="1.38"/><circle cx="295.93" cy="69.06" r="1.38"/><circle cx="338.43" cy="57.83" r="1.38"/><circle cx="309.18" cy="68.08" r="1.38"/><circle cx="355.67" cy="49.77" r="1.38"/><circle cx="311.06" cy="49.89" r="1.38"/><circle cx="352.53" cy="68.67" r="1.38"/><circle cx="350.78" cy="75.27" r="1.38"/><circle cx="328.37" cy="60.64" r="1.38"/><circle cx="274.6" cy="67.87" r="1.38"/><circle cx="297.01" cy="66.7" r="1.38"/><circle cx="238.95" cy="82.63" r="1.38"/><circle cx="331" cy="55.03" r="1.38"/><circle cx="319.74" cy="64.57" r="1.38"/><circle cx="344.27" cy="67.59" r="1.38"/><circle cx="239.72" cy="44.49" r="1.38"/><circle cx="246.01" cy="58.18" r="1.38"/><circle cx="319.73" cy="86.59" r="1.38"/><circle cx="331.99" cy="56.24" r="1.38"/><circle cx="238.2" cy="54.82" r="1.38"/><circle cx="232.08" cy="67.17" r="1.38"/><circle cx="273.96" cy="69.42" r="1.38"/><circle cx="276.05" cy="59.98" r="1.38"/><circle cx="235.12" cy="61.37" r="1.38"/><circle cx="241.6" cy="59.4" r="1.38"/><circle cx="256.75" cy="60.96" r="1.38"/><circle cx="350.23" cy="64.17" r="1.38"/><circle cx="248.75" cy="65.19" r="1.38"/><circle cx="277.08" cy="62.76" r="1.38"/><circle cx="280.39" cy="60.59" r="1.38"/><circle cx="334.34" cy="66.06" r="1.38"/><circle cx="321.91" cy="71.29" r="1.38"/><circle cx="313.8" cy="43.42" r="1.38"/><circle cx="294.33" cy="63.57" r="1.38"/><circle cx="254.41" cy="44.87" r="1.38"/><circle cx="234.57" cy="69.97" r="1.38"/><circle cx="254.13" cy="54.23" r="1.38"/><circle cx="362.61" cy="66.19" r="1.38"/><circle cx="343.64" cy="74.79" r="1.38"/><circle cx="308.88" cy="59.15" r="1.38"/><circle cx="315.06" cy="67.41" r="1.38"/><circle cx="333.84" cy="64.85" r="1.38"/><circle cx="344.77" cy="60.2" r="1.38"/><circle cx="262.1" cy="53.56" r="1.38"/><circle cx="341.98" cy="64.35" r="1.38"/><circle cx="320.04" cy="53.55" r="1.38"/><circle cx="267.3" cy="60.21" r="1.38"/><circle cx="268.67" cy="80.98" r="1.38"/><circle cx="252.11" cy="59.67" r="1.38"/><circle cx="305.67" cy="63.65" r="1.38"/><circle cx="365.67" cy="77.33" r="1.38"/><circle cx="340.19" cy="48.89" r="1.38"/><circle cx="251.41" cy="65.39" r="1.38"/><circle cx="244.77" cy="69.99" r="1.38"/><circle cx="267.83" cy="53.71" r="1.38"/><circle cx="251.11" cy="56.22" r="1.38"/><circle cx="247.99" cy="59.45" r="1.38"/><circle cx="331.94" cy="61.94" r="1.38"/><circle cx="272.52" cy="56.07" r="1.38"/><circle cx="308.25" cy="70.61" r="1.38"/><circle cx="272.6" cy="55.47" r="1.38"/><circle cx="367.94" cy="70.36" r="1.38"/><circle cx="312.04" cy="66.55" r="1.38"/><circle cx="247.59" cy="53.41" r="1.38"/><circle cx="338.42" cy="51.96" r="1.38"/><circle cx="268.97" cy="51.82" r="1.38"/><circle cx="292.52" cy="53.07" r="1.38"/><circle cx="268.62" cy="54.3" r="1.38"/><circle cx="297.45" cy="42.87" r="1.38"/><circle cx="271.48" cy="51.44" r="1.38"/><circle cx="273.37" cy="68.38" r="1.38"/><circle cx="250.15" cy="57.65" r="1.38"/><circle cx="364.45" cy="66.26" r="1.38"/><circle cx="257.24" cy="78.18" r="1.38"/><circle cx="267.97" cy="61.04" r="1.38"/><circle cx="286.14" cy="63.06" r="1.38"/><circle cx="244.49" cy="74.39" r="1.38"/><circle cx="260.33" cy="68.23" r="1.38"/><circle cx="285.72" cy="52.8" r="1.38"/><circle cx="310.86" cy="69.6" r="1.38"/><circle cx="304.1" cy="47.43" r="1.38"/><circle cx="280.21" cy="67.02" r="1.38"/><circle cx="324.07" cy="80.07" r="1.38"/><circle cx="333.9" cy="45.51" r="1.38"/><circle cx="265.48" cy="47.35" r="1.38"/><circle cx="261.83" cy="76.13" r="1.38"/><circle cx="316.78" cy="61.19" r="1.38"/><circle cx="286.3" cy="55.69" r="1.38"/><circle cx="345.96" cy="75.91" r="1.38"/><circle cx="357.85" cy="68.5" r="1.38"/><circle cx="304.84" cy="64.72" r="1.38"/><circle cx="277.36" cy="31.56" r="1.38"/><circle cx="257.95" cy="64.6" r="1.38"/><circle cx="351.33" cy="60.14" r="1.38"/><circle cx="258.61" cy="68.34" r="1.38"/><circle cx="340.02" cy="65.33" r="1.38"/><circle cx="349.35" cy="48.83" r="1.38"/><circle cx="365.5" cy="80.8" r="1.38"/><circle cx="244.27" cy="51.83" r="1.38"/><circle cx="249.93" cy="81.87" r="1.38"/><circle cx="239.67" cy="61.37" r="1.38"/><circle cx="273.35" cy="62.47" r="1.38"/><circle cx="356.85" cy="61.49" r="1.38"/><circle cx="319.39" cy="66.51" r="1.38"/><circle cx="249.76" cy="62.36" r="1.38"/><circle cx="242.74" cy="65.25" r="1.38"/><circle cx="334.47" cy="52.29" r="1.38"/><circle cx="316.48" cy="69.17" r="1.38"/><circle cx="228.04" cy="52.59" r="1.38"/><circle cx="311.36" cy="64.89" r="1.38"/><circle cx="254.76" cy="62.65" r="1.38"/><circle cx="269.52" cy="63.77" r="1.38"/><circle cx="242.07" cy="62.04" r="1.38"/><circle cx="368.91" cy="82.41" r="1.38"/><circle cx="292.77" cy="65.59" r="1.38"/><circle cx="315.57" cy="74.26" r="1.38"/><circle cx="256.78" cy="63.18" r="1.38"/><circle cx="281.12" cy="79.26" r="1.38"/><circle cx="319.85" cy="61" r="1.38"/><circle cx="334.06" cy="71.44" r="1.38"/><circle cx="356.88" cy="64.74" r="1.38"/><circle cx="262.97" cy="65.93" r="1.38"/><circle cx="261.86" cy="58.94" r="1.38"/><circle cx="285.12" cy="62.86" r="1.38"/><circle cx="271.62" cy="65.8" r="1.38"/><circle cx="344.43" cy="45.41" r="1.38"/><circle cx="280.59" cy="54.32" r="1.38"/><circle cx="280.9" cy="61.29" r="1.38"/><circle cx="299.28" cy="77.83" r="1.38"/><circle cx="308.02" cy="62.9" r="1.38"/><circle cx="278.02" cy="42.43" r="1.38"/><circle cx="228.95" cy="73.03" r="1.38"/><circle cx="332.45" cy="70.75" r="1.38"/><circle cx="244.04" cy="67.08" r="1.38"/><circle cx="349.38" cy="61.2" r="1.38"/><circle cx="262.87" cy="73.41" r="1.38"/><circle cx="264.11" cy="54.95" r="1.38"/><circle cx="303.95" cy="69.29" r="1.38"/><circle cx="356.95" cy="85.7" r="1.38"/><circle cx="281.91" cy="55.86" r="1.38"/><circle cx="296.14" cy="57.83" r="1.38"/><circle cx="286.78" cy="62.35" r="1.38"/><circle cx="243.67" cy="73.2" r="1.38"/><circle cx="268.76" cy="50.04" r="1.38"/><circle cx="358.28" cy="69.03" r="1.38"/><circle cx="361.51" cy="59.55" r="1.38"/><circle cx="264.02" cy="61.42" r="1.38"/><circle cx="358.76" cy="56.36" r="1.38"/><circle cx="229.95" cy="49.15" r="1.38"/><circle cx="330.06" cy="63.13" r="1.38"/><circle cx="231.35" cy="66.41" r="1.38"/><circle cx="288.39" cy="49.43" r="1.38"/><circle cx="286.49" cy="65.87" r="1.38"/><circle cx="289.65" cy="65.17" r="1.38"/><circle cx="361.76" cy="84.44" r="1.38"/><circle cx="277.87" cy="68.91" r="1.38"/><circle cx="230.27" cy="74.9" r="1.38"/><circle cx="243.42" cy="44.47" r="1.38"/><circle cx="334.42" cy="69.07" r="1.38"/><circle cx="246" cy="66.68" r="1.38"/><circle cx="236.06" cy="64.81" r="1.38"/><circle cx="255.53" cy="62.04" r="1.38"/><circle cx="366.97" cy="49.39" r="1.38"/><circle cx="291.03" cy="73.41" r="1.38"/><circle cx="248.8" cy="26.42" r="1.38"/><circle cx="321.49" cy="64.44" r="1.38"/><circle cx="281.49" cy="62.87" r="1.38"/><circle cx="306.44" cy="90.78" r="1.38"/><circle cx="369.57" cy="65.84" r="1.38"/><circle cx="327.28" cy="65.19" r="1.38"/><circle cx="303.89" cy="51.17" r="1.38"/><circle cx="369.9" cy="63.28" r="1.38"/><circle cx="299.72" cy="69.48" r="1.38"/><circle cx="292.2" cy="49.5" r="1.38"/><circle cx="348.86" cy="55.77" r="1.38"/><circle cx="364.17" cy="63.15" r="1.38"/><circle cx="330.18" cy="68.07" r="1.38"/><circle cx="279.72" cy="60.07" r="1.38"/><circle cx="285.05" cy="59.63" r="1.38"/><circle cx="258.29" cy="39.56" r="1.38"/><circle cx="261.85" cy="53.44" r="1.38"/><circle cx="338.36" cy="49.08" r="1.38"/><circle cx="297.34" cy="55.51" r="1.38"/><circle cx="349.7" cy="61.14" r="1.38"/><circle cx="323.15" cy="61.38" r="1.38"/><circle cx="308.34" cy="74.99" r="1.38"/><circle cx="342.48" cy="42.41" r="1.38"/><circle cx="298.61" cy="83.83" r="1.38"/><circle cx="322.74" cy="52.83" r="1.38"/><circle cx="297.46" cy="85.17" r="1.38"/><circle cx="277.91" cy="47.9" r="1.38"/><circle cx="336.67" cy="61.5" r="1.38"/><circle cx="237.83" cy="65" r="1.38"/><circle cx="366.89" cy="66.14" r="1.38"/><circle cx="364.56" cy="68.23" r="1.38"/><circle cx="345.98" cy="73.11" r="1.38"/><circle cx="294.29" cy="68.79" r="1.38"/><circle cx="291.79" cy="62.81" r="1.38"/><circle cx="285.02" cy="55.07" r="1.38"/><circle cx="293.12" cy="63.1" r="1.38"/><circle cx="259.28" cy="57.75" r="1.38"/><circle cx="341.52" cy="54.61" r="1.38"/><circle cx="353.2" cy="66.84" r="1.38"/><circle cx="299.02" cy="71.16" r="1.38"/><circle cx="349.2" cy="47.38" r="1.38"/><circle cx="269.24" cy="55.37" r="1.38"/><circle cx="350.13" cy="68.57" r="1.38"/><circle cx="366.33" cy="54.43" r="1.38"/><circle cx="323.19" cy="57.04" r="1.38"/><circle cx="364.85" cy="74.74" r="1.38"/><circle cx="331.12" cy="58.45" r="1.38"/><circle cx="326.47" cy="43.08" r="1.38"/><circle cx="295.08" cy="73.81" r="1.38"/><circle cx="236.22" cy="56.26" r="1.38"/><circle cx="245.54" cy="71.8" r="1.38"/><circle cx="345.61" cy="75.79" r="1.38"/><circle cx="253.57" cy="77.39" r="1.38"/><circle cx="325.47" cy="66.92" r="1.38"/><circle cx="250.5" cy="70.65" r="1.38"/><circle cx="335.27" cy="52.71" r="1.38"/><circle cx="363.83" cy="60.89" r="1.38"/><circle cx="315.76" cy="64.79" r="1.38"/><circle cx="233.24" cy="70.12" r="1.38"/><circle cx="332.68" cy="51.43" r="1.38"/><circle cx="295.48" cy="70.23" r="1.38"/><circle cx="351.02" cy="65.85" r="1.38"/><circle cx="248.92" cy="83.79" r="1.38"/><circle cx="267.68" cy="37.33" r="1.38"/><circle cx="358.63" cy="86.4" r="1.38"/><circle cx="346.95" cy="49.69" r="1.38"/><circle cx="357.19" cy="72.3" r="1.38"/><circle cx="301.86" cy="59.84" r="1.38"/><circle cx="323.76" cy="52.78" r="1.38"/><circle cx="360.58" cy="69.68" r="1.38"/><circle cx="321.7" cy="55.39" r="1.38"/><circle cx="240.15" cy="59.83" r="1.38"/><circle cx="249.75" cy="65.03" r="1.38"/><circle cx="228.08" cy="61.65" r="1.38"/><circle cx="243.56" cy="67.79" r="1.38"/><circle cx="231.58" cy="42.39" r="1.38"/><circle cx="282.51" cy="67.98" r="1.38"/><circle cx="315.53" cy="66.45" r="1.38"/><circle cx="350.36" cy="56.9" r="1.38"/><circle cx="285.91" cy="52.98" r="1.38"/><circle cx="250.61" cy="60.2" r="1.38"/><circle cx="357.17" cy="51.99" r="1.38"/><circle cx="358.31" cy="55.41" r="1.38"/><circle cx="366.92" cy="57.67" r="1.38"/><circle cx="292.54" cy="63.8" r="1.38"/><circle cx="311.86" cy="77.05" r="1.38"/><circle cx="317.51" cy="54.6" r="1.38"/><circle cx="303.8" cy="49.72" r="1.38"/><circle cx="254.46" cy="49.64" r="1.38"/><circle cx="358.85" cy="57.06" r="1.38"/><circle cx="304.14" cy="59.71" r="1.38"/><circle cx="232.99" cy="60.95" r="1.38"/><circle cx="277.02" cy="85.7" r="1.38"/><circle cx="331.3" cy="56.6" r="1.38"/><circle cx="256.59" cy="60.8" r="1.38"/><circle cx="338.3" cy="59.49" r="1.38"/><circle cx="257.61" cy="57.87" r="1.38"/><circle cx="289.33" cy="85.31" r="1.38"/><circle cx="269.35" cy="51.85" r="1.38"/><circle cx="245.89" cy="68.86" r="1.38"/><circle cx="353.59" cy="92.5" r="1.38"/><circle cx="276.21" cy="62.05" r="1.38"/><circle cx="334.74" cy="51.23" r="1.38"/><circle cx="354.65" cy="54.51" r="1.38"/><circle cx="267.98" cy="74.58" r="1.38"/><circle cx="267.01" cy="57.2" r="1.38"/><circle cx="302.51" cy="62.51" r="1.38"/><circle cx="261.24" cy="41.54" r="1.38"/><circle cx="352.18" cy="41.47" r="1.38"/><circle cx="251.17" cy="75.13" r="1.38"/><circle cx="330.45" cy="76.18" r="1.38"/><circle cx="366.55" cy="57.27" r="1.38"/><circle cx="266.31" cy="56.63" r="1.38"/><circle cx="255.73" cy="60.19" r="1.38"/><circle cx="349.07" cy="69.82" r="1.38"/><circle cx="313.04" cy="71.62" r="1.38"/><circle cx="321.66" cy="63.42" r="1.38"/><circle cx="239.42" cy="45.24" r="1.38"/><circle cx="271.66" cy="61.47" r="1.38"/><circle cx="354.82" cy="67.69" r="1.38"/><circle cx="315.05" cy="61.47" r="1.38"/><circle cx="335.62" cy="58.68" r="1.38"/><circle cx="299.17" cy="61.1" r="1.38"/><circle cx="256.94" cy="64.72" r="1.38"/><circle cx="357.88" cy="45.91" r="1.38"/><circle cx="265.29" cy="72.79" r="1.38"/><circle cx="251.92" cy="53.08" r="1.38"/><circle cx="320.13" cy="66.08" r="1.38"/><circle cx="239.99" cy="81.3" r="1.38"/><circle cx="336.61" cy="61.57" r="1.38"/><circle cx="329.13" cy="69.18" r="1.38"/><circle cx="282.28" cy="65.74" r="1.38"/><circle cx="301.07" cy="82.18" r="1.38"/><circle cx="297.06" cy="72.74" r="1.38"/><circle cx="238.34" cy="67.68" r="1.38"/><circle cx="239.04" cy="75.59" r="1.38"/><circle cx="277.89" cy="63.08" r="1.38"/><circle cx="328.99" cy="78.92" r="1.38"/><circle cx="254.13" cy="80.88" r="1.38"/><circle cx="279.77" cy="67.54" r="1.38"/><circle cx="317.04" cy="63.72" r="1.38"/><circle cx="301.15" cy="63.56" r="1.38"/><circle cx="252.43" cy="44.09" r="1.38"/><circle cx="335.87" cy="69.58" r="1.38"/><circle cx="340.85" cy="74.32" r="1.38"/><circle cx="322.11" cy="69.29" r="1.38"/><circle cx="325.69" cy="64.55" r="1.38"/><circle cx="263.8" cy="67.09" r="1.38"/><circle cx="347.11" cy="29.9" r="1.38"/><circle cx="311.04" cy="67.32" r="1.38"/><circle cx="252.98" cy="69.29" r="1.38"/><circle cx="325.18" cy="61.89" r="1.38"/><circle cx="317.07" cy="65.85" r="1.38"/><circle cx="308.7" cy="63.73" r="1.38"/><circle cx="294.79" cy="38.77" r="1.38"/><circle cx="336.93" cy="66.37" r="1.38"/><circle cx="331.68" cy="81.65" r="1.38"/><circle cx="311.6" cy="57.64" r="1.38"/><circle cx="237.25" cy="58.22" r="1.38"/><circle cx="260.74" cy="56.55" r="1.38"/><circle cx="367.13" cy="61.06" r="1.38"/><circle cx="285.03" cy="56.81" r="1.38"/><circle cx="317.85" cy="9.45" r="1.38"/><circle cx="246.44" cy="51.67" r="1.38"/><circle cx="309.08" cy="71.11" r="1.38"/><circle cx="314.41" cy="71.34" r="1.38"/><circle cx="336.25" cy="66.61" r="1.38"/><circle cx="365.71" cy="68.4" r="1.38"/><circle cx="292.65" cy="74.27" r="1.38"/><circle cx="272.24" cy="60.05" r="1.38"/><circle cx="250.46" cy="75.28" r="1.38"/><circle cx="275.31" cy="54.75" r="1.38"/><circle cx="290.86" cy="79.67" r="1.38"/><circle cx="365.04" cy="70.38" r="1.38"/><circle cx="300.52" cy="53.31" r="1.38"/><circle cx="323.85" cy="54.3" r="1.38"/><circle cx="332.19" cy="56.94" r="1.38"/><circle cx="356.76" cy="79.55" r="1.38"/><circle cx="260.88" cy="54.88" r="1.38"/><circle cx="304.66" cy="69.06" r="1.38"/><circle cx="235.86" cy="62.2" r="1.38"/><circle cx="249.16" cy="67.42" r="1.38"/><circle cx="334.89" cy="60.68" r="1.38"/><circle cx="323.72" cy="73.35" r="1.38"/><circle cx="247.44" cy="65.34" r="1.38"/><circle cx="244.5" cy="56" r="1.38"/><circle cx="347.81" cy="36.51" r="1.38"/><circle cx="294.99" cy="69.29" r="1.38"/><circle cx="272.73" cy="55.5" r="1.38"/><circle cx="330.14" cy="68.35" r="1.38"/><circle cx="322.99" cy="71.5" r="1.38"/><circle cx="369.32" cy="57.44" r="1.38"/><circle cx="242.44" cy="69.72" r="1.38"/><circle cx="337.17" cy="58.73" r="1.38"/><circle cx="293.24" cy="65.79" r="1.38"/><circle cx="263.04" cy="66.37" r="1.38"/><circle cx="238.12" cy="32.52" r="1.38"/><circle cx="342.17" cy="10.13" r="1.38"/><circle cx="342.88" cy="95.2" r="1.38"/><circle cx="306.58" cy="18.27" r="1.38"/><circle cx="319.74" cy="35.68" r="1.38"/><circle cx="307.57" cy="28.95" r="1.38"/><circle cx="268.89" cy="89.48" r="1.38"/><circle cx="235.72" cy="5.37" r="1.38"/><circle cx="320.06" cy="38.1" r="1.38"/><circle cx="267.86" cy="121.77" r="1.38"/><circle cx="333.46" cy="35.18" r="1.38"/><circle cx="362.59" cy="149.75" r="1.38"/><circle cx="362.59" cy="116.71" r="1.38"/><circle cx="317.31" cy="111.38" r="1.38"/><circle cx="333.35" cy="6.91" r="1.38"/><circle cx="333.35" cy="10.11" r="1.38"/><circle cx="256" cy="102.85" r="1.38"/><circle cx="229.59" cy="106.05" r="1.38"/><circle cx="280.52" cy="109.24" r="1.38"/><circle cx="302.22" cy="108.18" r="1.38"/><circle cx="357.88" cy="100.72" r="1.38"/><circle cx="268.26" cy="15.44" r="1.38"/><circle cx="250.34" cy="20.77" r="1.38"/><circle cx="305.05" cy="19.7" r="1.38"/><circle cx="290.9" cy="25.03" r="1.38"/><circle cx="349.39" cy="17.57" r="1.38"/><circle cx="325.8" cy="23.96" r="1.38"/></g>
<g fill="#90ee90" fill-opacity="0.5"><rect x="227.7" y="31.5" width="2.6" height="7.19"/><rect x="227.7" y="38.69" width="6.9" height="7.19"/><rect x="227.7" y="45.88" width="16" height="7.19"/><rect x="227.7" y="53.07" width="38" height="7.19"/><rect x="227.7" y="60.26" width="57" height="7.19"/><rect x="227.7" y="67.45" width="52" height="7.19"/><rect x="227.7" y="74.64" width="29" height="7.19"/><rect x="227.7" y="81.83" width="10" height="7.19"/><rect x="227.7" y="89.02" width="2" height="7.19"/></g>
<polyline points="228,13.52 228.1,20.71 228.8,27.91 231.5,35.09 240.3,42.28 259,49.48 279.8,56.67 285.3,63.86 269.3,71.05 244.8,78.23 232.3,85.43 228.8,92.62 228.1,99.81 228,107 228,114.19 228,121.38 228,128.56 228,135.75 228,142.94 228,150.13" fill="none" stroke="#ff7f0e" stroke-width="2.0" stroke-linejoin="round"/>
</g>
<rect x="227.7" y="0.5" width="142.5" height="159.8" fill="none" stroke="#464646" stroke-width="1.0"/>
<line x1="225" y1="19.7" x2="227.7" y2="19.7" stroke="#464646" stroke-width="0.9" />
<text x="222.3" y="22.65" font-size="8.55" text-anchor="end" fill="#000" color="#000" textLength="4.71" lengthAdjust="spacingAndGlyphs" >4</text>
<line x1="225" y1="41.02" x2="227.7" y2="41.02" stroke="#464646" stroke-width="0.9" />
<text x="222.3" y="43.97" font-size="8.55" text-anchor="end" fill="#000" color="#000" textLength="4.71" lengthAdjust="spacingAndGlyphs" >2</text>
<line x1="225" y1="62.34" x2="227.7" y2="62.34" stroke="#464646" stroke-width="0.9" />
<text x="222.3" y="65.29" font-size="8.55" text-anchor="end" fill="#000" color="#000" textLength="4.71" lengthAdjust="spacingAndGlyphs" >0</text>
<line x1="225" y1="83.66" x2="227.7" y2="83.66" stroke="#464646" stroke-width="0.9" />
<text x="222.3" y="86.61" font-size="8.55" text-anchor="end" fill="#000" color="#000" textLength="10.91" lengthAdjust="spacingAndGlyphs" >−2</text>
<line x1="225" y1="104.98" x2="227.7" y2="104.98" stroke="#464646" stroke-width="0.9" />
<text x="222.3" y="107.93" font-size="8.55" text-anchor="end" fill="#000" color="#000" textLength="10.91" lengthAdjust="spacingAndGlyphs" >−4</text>
<line x1="225" y1="126.3" x2="227.7" y2="126.3" stroke="#464646" stroke-width="0.9" />
<text x="222.3" y="129.25" font-size="8.55" text-anchor="end" fill="#000" color="#000" textLength="10.91" lengthAdjust="spacingAndGlyphs" >−6</text>
<line x1="225" y1="147.62" x2="227.7" y2="147.62" stroke="#464646" stroke-width="0.9" />
<text x="222.3" y="150.57" font-size="8.55" text-anchor="end" fill="#000" color="#000" textLength="10.91" lengthAdjust="spacingAndGlyphs" >−8</text>
<line x1="227.7" y1="160.3" x2="227.7" y2="163" stroke="#464646" stroke-width="0.9" />
<text x="227.7" y="171" font-size="8.55" text-anchor="middle" fill="#000" color="#000" textLength="4.71" lengthAdjust="spacingAndGlyphs" >0</text>
<line x1="274.87" y1="160.3" x2="274.87" y2="163" stroke="#464646" stroke-width="0.9" />
<text x="274.87" y="171" font-size="8.55" text-anchor="middle" fill="#000" color="#000" textLength="18.83" lengthAdjust="spacingAndGlyphs" >5000</text>
<line x1="322.03" y1="160.3" x2="322.03" y2="163" stroke="#464646" stroke-width="0.9" />
<text x="322.03" y="171" font-size="8.55" text-anchor="middle" fill="#000" color="#000" textLength="23.54" lengthAdjust="spacingAndGlyphs" >10000</text>
<line x1="369.19" y1="160.3" x2="369.19" y2="163" stroke="#464646" stroke-width="0.9" />
<text x="369.19" y="171" font-size="8.55" text-anchor="middle" fill="#000" color="#000" textLength="23.54" lengthAdjust="spacingAndGlyphs" >15000</text>
<text x="298.9" y="181" font-size="8.55" text-anchor="middle" fill="#000" color="#000" textLength="18.11" lengthAdjust="spacingAndGlyphs" >Time</text>
<text x="207.2" y="80.2" font-size="8.55" text-anchor="middle" fill="#000" color="#000" textLength="86.32" lengthAdjust="spacingAndGlyphs" transform="rotate(-90 207.2 80.2)" >Standardized Residuals</text>
<text x="367.9" y="8.8" font-size="10.6" text-anchor="end" fill="#000" color="#000" textLength="13.7" lengthAdjust="spacingAndGlyphs" >(b)</text>
<clipPath id="cc"><rect x="32.6" y="190.7" width="142.6" height="64.0"/></clipPath>
<rect x="32.6" y="190.7" width="142.6" height="64" fill="none" stroke="#464646" stroke-width="1.0"/>
<g clip-path="url(#cc)">
<line x1="34.8" y1="210.86" x2="172.5" y2="210.86" stroke="#000" stroke-width="1" stroke-dasharray="1.1 1.56"/>
<line x1="34.8" y1="237.54" x2="172.5" y2="237.54" stroke="#000" stroke-width="1" stroke-dasharray="1.1 1.56"/>
<path d="M35.55 224.2V231.86M38.4 224.2V222.47M41.24 224.2V234.82M44.09 224.2V207.4M46.94 224.2V221.48M49.79 224.2V211.36M52.64 224.2V233.83M55.48 224.2V213.33M58.33 224.2V238.03M61.18 224.2V224.2M64.03 224.2V235.07M66.88 224.2V227.16M69.72 224.2V229.63M72.57 224.2V233.09M75.42 224.2V229.14M78.27 224.2V227.66M81.12 224.2V226.18M83.96 224.2V241M86.81 224.2V229.14M89.66 224.2V227.16M92.51 224.2V227.16M95.36 224.2V237.04M98.2 224.2V239.27M101.05 224.2V221.73M103.9 224.2V227.66M106.75 224.2V214.32M109.6 224.2V216.79M112.44 224.2V216.05M115.29 224.2V227.66M118.14 224.2V226.18M120.99 224.2V243.96M123.84 224.2V224.2M126.68 224.2V216.79M129.53 224.2V207.9M132.38 224.2V234.82M135.23 224.2V230.13M138.08 224.2V218.77M140.92 224.2V224.2M143.77 224.2V222.96M146.62 224.2V228.65M149.47 224.2V218.02M152.32 224.2V226.67M155.16 224.2V220.49M158.01 224.2V227.66M160.86 224.2V233.09M163.71 224.2V224.2M166.56 224.2V244.95M169.4 224.2V228.65M172.25 224.2V214.32M175.1 224.2V219.75" stroke="#ff0000" stroke-width="1.2" fill="none"/>
<line x1="32.7" y1="224.2" x2="175.1" y2="224.2" stroke="#ff0000" stroke-width="1.2" />
</g>
<line x1="32.7" y1="224.2" x2="32.7" y2="190.3" stroke="#ff0000" stroke-width="1.2" />
<line x1="29.9" y1="199.5" x2="32.6" y2="199.5" stroke="#464646" stroke-width="0.9" />
<text x="27.2" y="202.45" font-size="8.55" text-anchor="end" fill="#000" color="#000" textLength="11.77" lengthAdjust="spacingAndGlyphs" >0.1</text>
<line x1="29.9" y1="224.2" x2="32.6" y2="224.2" stroke="#464646" stroke-width="0.9" />
<text x="27.2" y="227.15" font-size="8.55" text-anchor="end" fill="#000" color="#000" textLength="11.77" lengthAdjust="spacingAndGlyphs" >0.0</text>
<line x1="29.9" y1="248.9" x2="32.6" y2="248.9" stroke="#464646" stroke-width="0.9" />
<text x="27.2" y="251.85" font-size="8.55" text-anchor="end" fill="#000" color="#000" textLength="17.97" lengthAdjust="spacingAndGlyphs" >−0.1</text>
<line x1="32.7" y1="254.7" x2="32.7" y2="257.4" stroke="#464646" stroke-width="0.9" />
<text x="32.7" y="265.6" font-size="8.55" text-anchor="middle" fill="#000" color="#000" textLength="4.71" lengthAdjust="spacingAndGlyphs" >0</text>
<line x1="61.18" y1="254.7" x2="61.18" y2="257.4" stroke="#464646" stroke-width="0.9" />
<text x="61.18" y="265.6" font-size="8.55" text-anchor="middle" fill="#000" color="#000" textLength="9.42" lengthAdjust="spacingAndGlyphs" >10</text>
<line x1="89.66" y1="254.7" x2="89.66" y2="257.4" stroke="#464646" stroke-width="0.9" />
<text x="89.66" y="265.6" font-size="8.55" text-anchor="middle" fill="#000" color="#000" textLength="9.42" lengthAdjust="spacingAndGlyphs" >20</text>
<line x1="118.14" y1="254.7" x2="118.14" y2="257.4" stroke="#464646" stroke-width="0.9" />
<text x="118.14" y="265.6" font-size="8.55" text-anchor="middle" fill="#000" color="#000" textLength="9.42" lengthAdjust="spacingAndGlyphs" >30</text>
<line x1="146.62" y1="254.7" x2="146.62" y2="257.4" stroke="#464646" stroke-width="0.9" />
<text x="146.62" y="265.6" font-size="8.55" text-anchor="middle" fill="#000" color="#000" textLength="9.42" lengthAdjust="spacingAndGlyphs" >40</text>
<line x1="175.1" y1="254.7" x2="175.1" y2="257.4" stroke="#464646" stroke-width="0.9" />
<text x="175.1" y="265.6" font-size="8.55" text-anchor="middle" fill="#000" color="#000" textLength="9.42" lengthAdjust="spacingAndGlyphs" >50</text>
<text x="103.9" y="275.6" font-size="8.55" text-anchor="middle" fill="#000" color="#000" textLength="33.82" lengthAdjust="spacingAndGlyphs" >Time Lag</text>
<text x="7.5" y="222.7" font-size="8.55" text-anchor="middle" fill="#000" color="#000" textLength="14.36" lengthAdjust="spacingAndGlyphs" transform="rotate(-90 7.5 222.7)" >ACF</text>
<line x1="39.1" y1="200.25" x2="54.1" y2="200.25" stroke="#ff0000" stroke-width="1.1" />
<text x="60.3" y="202.9" font-size="8.55" text-anchor="start" fill="#000" color="#000" textLength="71.97" lengthAdjust="spacingAndGlyphs" >ACF of stand. resid.</text>
<text x="172.3" y="198.9" font-size="10.6" text-anchor="end" fill="#000" color="#000" textLength="13.3" lengthAdjust="spacingAndGlyphs" >(c)</text>
<clipPath id="cd"><rect x="32.6" y="285.4" width="142.6" height="64.70000000000005"/></clipPath>
<rect x="32.6" y="285.4" width="142.6" height="64.7" fill="none" stroke="#464646" stroke-width="1.0"/>
<g clip-path="url(#cd)">
<line x1="34.8" y1="324.09" x2="172.5" y2="324.09" stroke="#000" stroke-width="1" stroke-dasharray="1.1 1.56"/>
<line x1="34.8" y1="344.71" x2="172.5" y2="344.71" stroke="#000" stroke-width="1" stroke-dasharray="1.1 1.56"/>
<path d="M35.55 334.4V318.16M38.4 334.4V323.51M41.24 334.4V330.77M44.09 334.4V325.8M46.94 334.4V324.85M49.79 334.4V331.15M52.64 334.4V331.15M55.48 334.4V325.42M58.33 334.4V328.67M61.18 334.4V309.95M64.03 334.4V334.4M66.88 334.4V335.16M69.72 334.4V320.46M72.57 334.4V334.97M75.42 334.4V326M78.27 334.4V329.05M81.12 334.4V339.37M83.96 334.4V334.4M86.81 334.4V333.25M89.66 334.4V334.4M92.51 334.4V334.4M95.36 334.4V341.47M98.2 334.4V334.4M101.05 334.4V336.5M103.9 334.4V334.02M106.75 334.4V334.4M109.6 334.4V340.7M112.44 334.4V328.29M115.29 334.4V337.65M118.14 334.4V336.31M120.99 334.4V339.94M123.84 334.4V339.94M126.68 334.4V337.46M129.53 334.4V325.42M132.38 334.4V334.4M135.23 334.4V334.4M138.08 334.4V343.57M140.92 334.4V342.04M143.77 334.4V338.79M146.62 334.4V332.49M149.47 334.4V332.49M152.32 334.4V334.4M155.16 334.4V328.67M158.01 334.4V328.29M160.86 334.4V332.49M163.71 334.4V335.74M166.56 334.4V333.44M169.4 334.4V337.46M172.25 334.4V327.33M175.1 334.4V330.58" stroke="#0000ff" stroke-width="1.2" fill="none"/>
<line x1="32.7" y1="334.4" x2="175.1" y2="334.4" stroke="#0000ff" stroke-width="1.2" />
</g>
<line x1="32.7" y1="334.4" x2="32.7" y2="285" stroke="#0000ff" stroke-width="1.2" />
<line x1="29.9" y1="296.2" x2="32.6" y2="296.2" stroke="#464646" stroke-width="0.9" />
<text x="27.2" y="299.15" font-size="8.55" text-anchor="end" fill="#000" color="#000" textLength="11.77" lengthAdjust="spacingAndGlyphs" >0.2</text>
<line x1="29.9" y1="315.3" x2="32.6" y2="315.3" stroke="#464646" stroke-width="0.9" />
<text x="27.2" y="318.25" font-size="8.55" text-anchor="end" fill="#000" color="#000" textLength="11.77" lengthAdjust="spacingAndGlyphs" >0.1</text>
<line x1="29.9" y1="334.4" x2="32.6" y2="334.4" stroke="#464646" stroke-width="0.9" />
<text x="27.2" y="337.35" font-size="8.55" text-anchor="end" fill="#000" color="#000" textLength="11.77" lengthAdjust="spacingAndGlyphs" >0.0</text>
<line x1="32.7" y1="350.1" x2="32.7" y2="352.8" stroke="#464646" stroke-width="0.9" />
<text x="32.7" y="360.9" font-size="8.55" text-anchor="middle" fill="#000" color="#000" textLength="4.71" lengthAdjust="spacingAndGlyphs" >0</text>
<line x1="61.18" y1="350.1" x2="61.18" y2="352.8" stroke="#464646" stroke-width="0.9" />
<text x="61.18" y="360.9" font-size="8.55" text-anchor="middle" fill="#000" color="#000" textLength="9.42" lengthAdjust="spacingAndGlyphs" >10</text>
<line x1="89.66" y1="350.1" x2="89.66" y2="352.8" stroke="#464646" stroke-width="0.9" />
<text x="89.66" y="360.9" font-size="8.55" text-anchor="middle" fill="#000" color="#000" textLength="9.42" lengthAdjust="spacingAndGlyphs" >20</text>
<line x1="118.14" y1="350.1" x2="118.14" y2="352.8" stroke="#464646" stroke-width="0.9" />
<text x="118.14" y="360.9" font-size="8.55" text-anchor="middle" fill="#000" color="#000" textLength="9.42" lengthAdjust="spacingAndGlyphs" >30</text>
<line x1="146.62" y1="350.1" x2="146.62" y2="352.8" stroke="#464646" stroke-width="0.9" />
<text x="146.62" y="360.9" font-size="8.55" text-anchor="middle" fill="#000" color="#000" textLength="9.42" lengthAdjust="spacingAndGlyphs" >40</text>
<line x1="175.1" y1="350.1" x2="175.1" y2="352.8" stroke="#464646" stroke-width="0.9" />
<text x="175.1" y="360.9" font-size="8.55" text-anchor="middle" fill="#000" color="#000" textLength="9.42" lengthAdjust="spacingAndGlyphs" >50</text>
<text x="103.4" y="371.1" font-size="8.55" text-anchor="middle" fill="#000" color="#000" textLength="33.82" lengthAdjust="spacingAndGlyphs" >Time Lag</text>
<text x="13.3" y="317.7" font-size="8.55" text-anchor="middle" fill="#000" color="#000" textLength="14.36" lengthAdjust="spacingAndGlyphs" transform="rotate(-90 13.3 317.7)" >ACF</text>
<line x1="39.1" y1="295.4" x2="54.1" y2="295.4" stroke="#0000ff" stroke-width="1.1" />
<text x="58.8" y="298.1" font-size="8.3" text-anchor="start" fill="#000" color="#000" textLength="103" lengthAdjust="spacingAndGlyphs" >ACF of stand. squared resid.</text>
<text x="175.2" y="294.4" font-size="10.6" text-anchor="end" fill="#000" color="#000" textLength="13.5" lengthAdjust="spacingAndGlyphs" >(d)</text>
<clipPath id="ce"><rect x="227.6" y="190.5" width="142.4" height="159.60000000000002"/></clipPath>
<g clip-path="url(#ce)">
<line x1="233.3" y1="336.8" x2="363.58" y2="336.8" stroke="#000" stroke-width="1" stroke-dasharray="1.1 1.56"/>
<line x1="233.3" y1="347.2" x2="363.58" y2="347.2" stroke="#000" stroke-width="1" stroke-dasharray="1.1 1.56"/>
<polyline points="233.8,-21.3 255.43,173.28 277.06,325.22 298.69,320.25 320.32,318.49 341.95,323.15 363.58,313.32" fill="none" stroke="#0000ff" stroke-width="1.1" />
<rect x="231.7" y="-23.4" width="4.2" height="4.2" fill="#0000ff"/>
<rect x="253.33" y="171.18" width="4.2" height="4.2" fill="#0000ff"/>
<rect x="274.96" y="323.12" width="4.2" height="4.2" fill="#0000ff"/>
<rect x="296.59" y="318.15" width="4.2" height="4.2" fill="#0000ff"/>
<rect x="318.22" y="316.39" width="4.2" height="4.2" fill="#0000ff"/>
<rect x="339.85" y="321.05" width="4.2" height="4.2" fill="#0000ff"/>
<rect x="361.48" y="311.22" width="4.2" height="4.2" fill="#0000ff"/>
<polyline points="255.43,307.83 277.06,318.59 298.69,338.36 320.32,336.09 341.95,325.84 363.58,316.11" fill="none" stroke="#008000" stroke-width="1.1" />
<rect x="253.33" y="305.73" width="4.2" height="4.2" fill="#008000"/>
<rect x="274.96" y="316.49" width="4.2" height="4.2" fill="#008000"/>
<rect x="296.59" y="336.26" width="4.2" height="4.2" fill="#008000"/>
<rect x="318.22" y="333.99" width="4.2" height="4.2" fill="#008000"/>
<rect x="339.85" y="323.74" width="4.2" height="4.2" fill="#008000"/>
<rect x="361.48" y="314.01" width="4.2" height="4.2" fill="#008000"/>
<polyline points="277.06,337.43 298.69,344.99 320.32,339.81 341.95,341.47 363.58,336.81" fill="none" stroke="#ff0000" stroke-width="1.1" />
<rect x="274.96" y="335.33" width="4.2" height="4.2" fill="#ff0000"/>
<rect x="296.59" y="342.89" width="4.2" height="4.2" fill="#ff0000"/>
<rect x="318.22" y="337.71" width="4.2" height="4.2" fill="#ff0000"/>
<rect x="339.85" y="339.37" width="4.2" height="4.2" fill="#ff0000"/>
<rect x="361.48" y="334.71" width="4.2" height="4.2" fill="#ff0000"/>
<polyline points="298.69,342.61 320.32,334.95 341.95,348.51 363.58,343.02" fill="none" stroke="#90ee90" stroke-width="1.1" />
<rect x="296.59" y="340.51" width="4.2" height="4.2" fill="#90ee90"/>
<rect x="318.22" y="332.85" width="4.2" height="4.2" fill="#90ee90"/>
<rect x="339.85" y="346.41" width="4.2" height="4.2" fill="#90ee90"/>
<rect x="361.48" y="340.92" width="4.2" height="4.2" fill="#90ee90"/>
<polyline points="320.32,344.06 341.95,345.3 363.58,346.02" fill="none" stroke="#ee82ee" stroke-width="1.1" />
<rect x="318.22" y="341.95" width="4.2" height="4.2" fill="#ee82ee"/>
<rect x="339.85" y="343.2" width="4.2" height="4.2" fill="#ee82ee"/>
<rect x="361.48" y="343.92" width="4.2" height="4.2" fill="#ee82ee"/>
<polyline points="341.95,338.57 363.58,343.54" fill="none" stroke="#ffff00" stroke-width="1.1" />
<rect x="339.85" y="336.47" width="4.2" height="4.2" fill="#ffff00"/>
<rect x="361.48" y="341.44" width="4.2" height="4.2" fill="#ffff00"/>
<rect x="361.48" y="336.68" width="4.2" height="4.2" fill="#000000"/>
</g>
<rect x="227.6" y="190.5" width="142.4" height="159.6" fill="none" stroke="#464646" stroke-width="1.0"/>
<line x1="224.9" y1="206.4" x2="227.6" y2="206.4" stroke="#464646" stroke-width="0.9" />
<text x="222.2" y="209.35" font-size="8.55" text-anchor="end" fill="#000" color="#000" textLength="25.03" lengthAdjust="spacingAndGlyphs" >−5120</text>
<line x1="224.9" y1="227.1" x2="227.6" y2="227.1" stroke="#464646" stroke-width="0.9" />
<text x="222.2" y="230.05" font-size="8.55" text-anchor="end" fill="#000" color="#000" textLength="25.03" lengthAdjust="spacingAndGlyphs" >−5140</text>
<line x1="224.9" y1="247.8" x2="227.6" y2="247.8" stroke="#464646" stroke-width="0.9" />
<text x="222.2" y="250.75" font-size="8.55" text-anchor="end" fill="#000" color="#000" textLength="25.03" lengthAdjust="spacingAndGlyphs" >−5160</text>
<line x1="224.9" y1="268.5" x2="227.6" y2="268.5" stroke="#464646" stroke-width="0.9" />
<text x="222.2" y="271.45" font-size="8.55" text-anchor="end" fill="#000" color="#000" textLength="25.03" lengthAdjust="spacingAndGlyphs" >−5180</text>
<line x1="224.9" y1="289.2" x2="227.6" y2="289.2" stroke="#464646" stroke-width="0.9" />
<text x="222.2" y="292.15" font-size="8.55" text-anchor="end" fill="#000" color="#000" textLength="25.03" lengthAdjust="spacingAndGlyphs" >−5200</text>
<line x1="224.9" y1="309.9" x2="227.6" y2="309.9" stroke="#464646" stroke-width="0.9" />
<text x="222.2" y="312.85" font-size="8.55" text-anchor="end" fill="#000" color="#000" textLength="25.03" lengthAdjust="spacingAndGlyphs" >−5220</text>
<line x1="224.9" y1="330.6" x2="227.6" y2="330.6" stroke="#464646" stroke-width="0.9" />
<text x="222.2" y="333.55" font-size="8.55" text-anchor="end" fill="#000" color="#000" textLength="25.03" lengthAdjust="spacingAndGlyphs" >−5240</text>
<line x1="233.8" y1="350.1" x2="233.8" y2="352.8" stroke="#464646" stroke-width="0.9" />
<text x="233.8" y="360.9" font-size="8.55" text-anchor="middle" fill="#000" color="#000" textLength="4.71" lengthAdjust="spacingAndGlyphs" >1</text>
<line x1="255.43" y1="350.1" x2="255.43" y2="352.8" stroke="#464646" stroke-width="0.9" />
<text x="255.43" y="360.9" font-size="8.55" text-anchor="middle" fill="#000" color="#000" textLength="4.71" lengthAdjust="spacingAndGlyphs" >2</text>
<line x1="277.06" y1="350.1" x2="277.06" y2="352.8" stroke="#464646" stroke-width="0.9" />
<text x="277.06" y="360.9" font-size="8.55" text-anchor="middle" fill="#000" color="#000" textLength="4.71" lengthAdjust="spacingAndGlyphs" >3</text>
<line x1="298.69" y1="350.1" x2="298.69" y2="352.8" stroke="#464646" stroke-width="0.9" />
<text x="298.69" y="360.9" font-size="8.55" text-anchor="middle" fill="#000" color="#000" textLength="4.71" lengthAdjust="spacingAndGlyphs" >4</text>
<line x1="320.32" y1="350.1" x2="320.32" y2="352.8" stroke="#464646" stroke-width="0.9" />
<text x="320.32" y="360.9" font-size="8.55" text-anchor="middle" fill="#000" color="#000" textLength="4.71" lengthAdjust="spacingAndGlyphs" >5</text>
<line x1="341.95" y1="350.1" x2="341.95" y2="352.8" stroke="#464646" stroke-width="0.9" />
<text x="341.95" y="360.9" font-size="8.55" text-anchor="middle" fill="#000" color="#000" textLength="4.71" lengthAdjust="spacingAndGlyphs" >6</text>
<line x1="363.58" y1="350.1" x2="363.58" y2="352.8" stroke="#464646" stroke-width="0.9" />
<text x="363.58" y="360.9" font-size="8.55" text-anchor="middle" fill="#000" color="#000" textLength="4.71" lengthAdjust="spacingAndGlyphs" >7</text>
<text x="298.8" y="371.2" font-size="8.55" text-anchor="middle" fill="#000" color="#000" textLength="4.7" lengthAdjust="spacingAndGlyphs" >p</text>
<text x="193.4" y="270.6" font-size="8.55" text-anchor="middle" fill="#000" color="#000" textLength="36.35" lengthAdjust="spacingAndGlyphs" transform="rotate(-90 193.4 270.6)" >AICc(p, q)</text>
<text x="367.6" y="198.9" font-size="10.6" text-anchor="end" fill="#000" color="#000" textLength="13.3" lengthAdjust="spacingAndGlyphs" >(e)</text>
<line x1="233.8" y1="200.3" x2="249.7" y2="200.3" stroke="#0000ff" stroke-width="1.1" />
<rect x="239.6" y="198.2" width="4.2" height="4.2" fill="#0000ff"/>
<text x="254.5" y="203.2" font-size="8.55" text-anchor="start" fill="#000" color="#000" textLength="20.31" lengthAdjust="spacingAndGlyphs" >q = 0</text>
<line x1="233.8" y1="211.1" x2="249.7" y2="211.1" stroke="#008000" stroke-width="1.1" />
<rect x="239.6" y="209" width="4.2" height="4.2" fill="#008000"/>
<text x="254.5" y="214" font-size="8.55" text-anchor="start" fill="#000" color="#000" textLength="20.31" lengthAdjust="spacingAndGlyphs" >q = 1</text>
<line x1="233.8" y1="221.9" x2="249.7" y2="221.9" stroke="#ff0000" stroke-width="1.1" />
<rect x="239.6" y="219.8" width="4.2" height="4.2" fill="#ff0000"/>
<text x="254.5" y="224.8" font-size="8.55" text-anchor="start" fill="#000" color="#000" textLength="20.31" lengthAdjust="spacingAndGlyphs" >q = 2</text>
<line x1="233.8" y1="232.7" x2="249.7" y2="232.7" stroke="#90ee90" stroke-width="1.1" />
<rect x="239.6" y="230.6" width="4.2" height="4.2" fill="#90ee90"/>
<text x="254.5" y="235.6" font-size="8.55" text-anchor="start" fill="#000" color="#000" textLength="20.31" lengthAdjust="spacingAndGlyphs" >q = 3</text>
<line x1="233.8" y1="243.5" x2="249.7" y2="243.5" stroke="#ee82ee" stroke-width="1.1" />
<rect x="239.6" y="241.4" width="4.2" height="4.2" fill="#ee82ee"/>
<text x="254.5" y="246.4" font-size="8.55" text-anchor="start" fill="#000" color="#000" textLength="20.31" lengthAdjust="spacingAndGlyphs" >q = 4</text>
<line x1="233.8" y1="254.3" x2="249.7" y2="254.3" stroke="#ffff00" stroke-width="1.1" />
<rect x="239.6" y="252.2" width="4.2" height="4.2" fill="#ffff00"/>
<text x="254.5" y="257.2" font-size="8.55" text-anchor="start" fill="#000" color="#000" textLength="20.31" lengthAdjust="spacingAndGlyphs" >q = 5</text>
<line x1="233.8" y1="265.1" x2="249.7" y2="265.1" stroke="#000000" stroke-width="1.1" />
<rect x="239.6" y="263" width="4.2" height="4.2" fill="#000000"/>
<text x="254.5" y="268" font-size="8.55" text-anchor="start" fill="#000" color="#000" textLength="20.31" lengthAdjust="spacingAndGlyphs" >q = 6</text>
<clipPath id="cf"><rect x="422.4" y="0.5" width="336.9" height="349.8"/></clipPath>
<g clip-path="url(#cf)">
<polygon points="404.35,20.15 405.76,20.66 407.21,21.17 408.65,21.69 410.07,22.21 411.47,22.74 412.86,23.27 414.23,23.81 415.58,24.35 416.93,24.9 418.25,25.45 419.57,26.01 420.87,26.57 422.16,27.13 423.43,27.7 424.69,28.27 425.94,28.84 427.18,29.42 428.4,30 429.61,30.58 430.81,31.16 432,31.75 433.18,32.34 434.35,32.93 435.51,33.52 436.66,34.12 437.79,34.71 438.92,35.31 440.04,35.91 441.16,36.51 442.26,37.11 443.35,37.72 444.44,38.32 445.52,38.93 446.59,39.53 447.65,40.14 448.71,40.75 449.76,41.36 450.8,41.97 451.84,42.58 452.87,43.2 453.9,43.81 454.92,44.42 455.93,45.04 456.94,45.65 457.94,46.27 458.94,46.89 459.94,47.51 460.93,48.13 461.92,48.75 462.9,49.37 463.88,49.99 464.85,50.61 465.83,51.23 466.8,51.86 467.76,52.48 468.73,53.11 469.69,53.73 470.64,54.36 471.6,54.99 472.55,55.62 473.5,56.25 474.45,56.88 475.4,57.51 476.34,58.15 477.29,58.78 478.23,59.42 479.17,60.06 480.11,60.7 481.05,61.33 481.99,61.98 482.92,62.62 483.86,63.26 484.79,63.91 485.72,64.55 486.66,65.2 487.59,65.85 488.52,66.5 489.45,67.16 490.38,67.81 491.32,68.47 492.25,69.12 493.18,69.78 494.11,70.45 495.04,71.11 495.97,71.77 496.9,72.44 497.83,73.11 498.76,73.78 499.69,74.45 500.62,75.12 501.55,75.8 502.48,76.48 503.42,77.16 504.35,77.84 505.28,78.52 506.21,79.21 507.15,79.9 508.08,80.59 509.02,81.28 509.95,81.98 510.89,82.67 511.82,83.37 512.76,84.07 513.7,84.78 514.63,85.48 515.57,86.19 516.51,86.9 517.45,87.61 518.39,88.33 519.33,89.04 520.27,89.76 521.21,90.48 522.16,91.21 523.1,91.93 524.04,92.66 524.99,93.39 525.93,94.12 526.88,94.86 527.83,95.6 528.77,96.34 529.72,97.08 530.67,97.82 531.62,98.57 532.57,99.32 533.52,100.07 534.47,100.82 535.42,101.58 536.37,102.33 537.32,103.09 538.28,103.86 539.23,104.62 540.18,105.39 541.14,106.16 542.09,106.93 543.05,107.7 544,108.48 544.96,109.25 545.91,110.03 546.87,110.81 547.83,111.6 548.79,112.39 549.75,113.17 550.7,113.96 551.66,114.76 552.62,115.55 553.58,116.35 554.54,117.15 555.5,117.95 556.46,118.75 557.42,119.55 558.38,120.36 559.35,121.17 560.31,121.98 561.27,122.79 562.23,123.6 563.19,124.42 564.15,125.24 565.12,126.05 566.08,126.88 567.04,127.7 568,128.52 568.97,129.35 569.93,130.18 570.89,131.01 571.86,131.84 572.82,132.67 573.78,133.5 574.75,134.34 575.71,135.18 576.67,136.02 577.64,136.86 578.6,137.7 579.56,138.54 580.52,139.39 581.49,140.23 582.45,141.08 583.41,141.93 584.37,142.78 585.34,143.63 586.3,144.48 587.26,145.34 588.22,146.19 589.18,147.05 590.15,147.91 591.11,148.77 592.07,149.63 593.03,150.49 593.99,151.35 594.95,152.21 595.91,153.08 596.87,153.94 597.83,154.81 598.79,155.68 599.75,156.54 600.71,157.41 601.67,158.28 602.63,159.16 603.59,160.03 604.54,160.9 605.5,161.77 606.46,162.65 607.42,163.52 608.37,164.4 609.33,165.28 610.29,166.16 611.24,167.03 612.2,167.91 613.15,168.79 614.11,169.67 615.06,170.56 616.02,171.44 616.97,172.32 617.92,173.21 618.88,174.09 619.83,174.97 620.78,175.86 621.74,176.75 622.69,177.63 623.64,178.52 624.59,179.41 625.54,180.3 626.49,181.19 627.44,182.08 628.39,182.97 629.34,183.86 630.29,184.75 631.24,185.64 632.19,186.54 633.14,187.43 634.09,188.32 635.04,189.22 635.99,190.11 636.93,191.01 637.88,191.91 638.83,192.81 639.78,193.7 640.72,194.6 641.67,195.5 642.62,196.4 643.56,197.3 644.51,198.2 645.45,199.11 646.4,200.01 647.34,200.91 648.29,201.82 649.23,202.72 650.18,203.63 651.12,204.54 652.07,205.44 653.01,206.35 653.96,207.26 654.9,208.17 655.85,209.08 656.79,210 657.73,210.91 658.68,211.82 659.62,212.74 660.57,213.66 661.51,214.57 662.45,215.49 663.4,216.41 664.34,217.34 665.29,218.26 666.23,219.18 667.17,220.11 668.12,221.04 669.06,221.97 670.01,222.9 670.95,223.83 671.9,224.76 672.84,225.7 673.79,226.64 674.73,227.58 675.68,228.52 676.62,229.46 677.57,230.41 678.51,231.35 679.46,232.3 680.41,233.26 681.35,234.21 682.3,235.17 683.25,236.13 684.2,237.09 685.15,238.05 686.1,239.02 687.04,239.99 687.99,240.97 688.95,241.94 689.9,242.92 690.85,243.91 691.8,244.89 692.75,245.88 693.71,246.88 694.66,247.88 695.61,248.88 696.57,249.88 697.53,250.89 698.48,251.9 699.44,252.92 700.4,253.95 701.36,254.97 702.32,256 703.28,257.04 704.24,258.08 705.2,259.13 706.17,260.18 707.13,261.24 708.1,262.3 709.07,263.37 710.03,264.45 711,265.53 711.98,266.61 712.95,267.71 713.92,268.81 714.9,269.92 715.87,271.03 716.85,272.15 717.83,273.28 718.81,274.42 719.79,275.56 720.77,276.72 721.76,277.88 722.75,279.05 723.74,280.22 724.73,281.41 725.72,282.61 726.72,283.81 727.71,285.03 728.71,286.25 729.71,287.49 730.71,288.73 731.72,289.99 732.73,291.26 733.74,292.54 734.75,293.83 735.76,295.13 736.78,296.44 737.8,297.77 738.82,299.11 739.85,300.46 740.88,301.83 741.91,303.21 742.94,304.6 743.98,306.01 745.02,307.43 746.06,308.86 747.11,310.32 748.16,311.78 749.21,313.27 750.27,314.77 751.33,316.28 752.39,317.82 753.46,319.37 754.53,320.94 755.6,322.52 756.68,324.13 757.76,325.76 758.85,327.4 759.93,329.06 761.03,330.75 762.13,332.45 763.23,334.18 764.34,335.93 765.45,337.69 766.56,339.49 767.68,341.3 768.81,343.14 769.94,345 771.07,346.89 772.21,348.8 773.36,350.73 774.5,352.69 775.66,354.68 776.82,356.7 757.47,365.66 756.83,363.52 756.18,361.4 755.53,359.32 754.86,357.26 754.19,355.24 753.5,353.23 752.81,351.26 752.11,349.3 751.4,347.38 750.68,345.48 749.96,343.6 749.22,341.75 748.48,339.92 747.74,338.11 746.98,336.33 746.22,334.57 745.45,332.83 744.68,331.11 743.9,329.41 743.11,327.74 742.32,326.08 741.52,324.45 740.71,322.83 739.9,321.23 739.08,319.66 738.26,318.1 737.44,316.56 736.61,315.03 735.77,313.53 734.93,312.04 734.08,310.57 733.23,309.11 732.38,307.68 731.52,306.25 730.66,304.85 729.79,303.45 728.92,302.08 728.05,300.72 727.17,299.37 726.29,298.03 725.41,296.71 724.52,295.41 723.63,294.11 722.74,292.83 721.84,291.56 720.95,290.31 720.05,289.06 719.14,287.83 718.24,286.61 717.33,285.4 716.42,284.2 715.51,283.01 714.59,281.83 713.67,280.66 712.76,279.51 711.84,278.36 710.91,277.22 709.99,276.09 709.07,274.96 708.14,273.85 707.21,272.75 706.28,271.65 705.35,270.56 704.42,269.48 703.48,268.4 702.55,267.34 701.61,266.28 700.68,265.22 699.74,264.18 698.8,263.14 697.86,262.1 696.92,261.08 695.98,260.05 695.03,259.04 694.09,258.03 693.15,257.02 692.2,256.02 691.26,255.02 690.31,254.03 689.37,253.05 688.42,252.06 687.47,251.09 686.53,250.11 685.58,249.14 684.63,248.17 683.68,247.21 682.73,246.25 681.78,245.3 680.83,244.35 679.88,243.4 678.93,242.45 677.98,241.51 677.03,240.56 676.08,239.63 675.13,238.69 674.18,237.76 673.23,236.83 672.28,235.9 671.33,234.97 670.38,234.05 669.43,233.12 668.47,232.2 667.52,231.28 666.57,230.36 665.62,229.45 664.67,228.53 663.72,227.62 662.77,226.71 661.82,225.8 660.87,224.89 659.91,223.98 658.96,223.07 658.01,222.17 657.06,221.26 656.11,220.35 655.16,219.45 654.21,218.55 653.26,217.65 652.31,216.74 651.36,215.84 650.41,214.94 649.46,214.04 648.51,213.14 647.56,212.25 646.61,211.35 645.66,210.45 644.71,209.55 643.76,208.66 642.81,207.76 641.86,206.86 640.91,205.97 639.96,205.07 639.01,204.18 638.06,203.28 637.11,202.39 636.16,201.5 635.21,200.6 634.26,199.71 633.31,198.82 632.36,197.92 631.41,197.03 630.46,196.14 629.51,195.25 628.56,194.36 627.61,193.47 626.66,192.58 625.71,191.69 624.76,190.8 623.81,189.91 622.86,189.02 621.91,188.13 620.96,187.24 620.01,186.36 619.06,185.47 618.11,184.58 617.16,183.7 616.2,182.81 615.25,181.93 614.3,181.05 613.35,180.16 612.39,179.28 611.44,178.4 610.49,177.52 609.53,176.64 608.58,175.76 607.62,174.88 606.67,174.01 605.71,173.13 604.75,172.26 603.8,171.39 602.84,170.51 601.88,169.64 600.92,168.77 599.96,167.9 599,167.04 598.04,166.17 597.08,165.31 596.12,164.45 595.16,163.58 594.19,162.73 593.23,161.87 592.27,161.01 591.3,160.16 590.33,159.3 589.37,158.45 588.4,157.61 587.43,156.76 586.46,155.91 585.49,155.07 584.52,154.23 583.55,153.39 582.58,152.56 581.61,151.73 580.63,150.89 579.66,150.07 578.68,149.24 577.7,148.42 576.72,147.6 575.75,146.78 574.77,145.96 573.78,145.15 572.8,144.34 571.82,143.54 570.84,142.73 569.85,141.93 568.86,141.14 567.88,140.34 566.89,139.55 565.9,138.77 564.91,137.98 563.92,137.2 562.93,136.43 561.93,135.65 560.94,134.89 559.94,134.12 558.95,133.36 557.95,132.6 556.95,131.85 555.95,131.1 554.95,130.36 553.94,129.62 552.94,128.88 551.94,128.15 550.93,127.42 549.93,126.7 548.92,125.98 547.91,125.27 546.9,124.56 545.89,123.85 544.88,123.15 543.86,122.46 542.85,121.77 541.84,121.08 540.82,120.4 539.8,119.73 538.79,119.06 537.77,118.4 536.75,117.74 535.73,117.09 534.71,116.44 533.69,115.8 532.66,115.16 531.64,114.53 530.62,113.91 529.59,113.29 528.57,112.68 527.54,112.07 526.52,111.47 525.49,110.87 524.46,110.29 523.43,109.7 522.4,109.13 521.38,108.56 520.35,108 519.32,107.44 518.29,106.89 517.26,106.34 516.23,105.81 515.2,105.28 514.17,104.75 513.14,104.24 512.11,103.73 511.08,103.22 510.05,102.73 509.02,102.24 507.99,101.75 506.96,101.28 505.93,100.81 504.9,100.35 503.88,99.9 502.85,99.45 501.82,99.01 500.8,98.58 499.77,98.15 498.75,97.74 497.73,97.33 496.7,96.92 495.68,96.53 494.66,96.14 493.65,95.76 492.63,95.39 491.61,95.02 490.6,94.66 489.59,94.31 488.58,93.97 487.57,93.63 486.56,93.31 485.56,92.99 484.56,92.67 483.56,92.37 482.56,92.07 481.56,91.78 480.57,91.5 479.58,91.22 478.59,90.96 477.6,90.7 476.62,90.44 475.64,90.2 474.67,89.96 473.69,89.73 472.72,89.51 471.76,89.29 470.79,89.09 469.83,88.88 468.88,88.69 467.92,88.5 466.97,88.32 466.03,88.15 465.09,87.98 464.15,87.83 463.22,87.67 462.29,87.53 461.37,87.39 460.45,87.26 459.53,87.13 458.62,87.01 457.72,86.9 456.81,86.79 455.92,86.69 455.03,86.59 454.14,86.5 453.26,86.42 452.38,86.34 451.51,86.27 450.64,86.2 449.78,86.13 448.93,86.08 448.08,86.02 447.23,85.97 446.39,85.93 445.56,85.89 444.73,85.85 443.9,85.82 443.09,85.79 442.27,85.77 441.46,85.75 440.66,85.73 439.87,85.72 439.07,85.7 438.29,85.69 437.5,85.69 436.73,85.68 435.96,85.68 435.19,85.68 434.43,85.68 433.67,85.68 432.92,85.68 432.17,85.69 431.42,85.69 430.68,85.7 429.95,85.7 429.22,85.71 428.49,85.71 427.76,85.72 427.04,85.72 426.32,85.72 425.6,85.72 424.89,85.73 424.18,85.72 423.46,85.72 422.76,85.72 422.05,85.71 421.34,85.7 420.63,85.69 419.93,85.67 419.22,85.66 418.51,85.63 417.8,85.61 417.09,85.58 416.38,85.55 415.67,85.52 414.95,85.48 414.23,85.44 413.48,85.39" fill="#1f77b4" fill-opacity="0.5"/>
<polyline points="410,60.55 410.96,60.42 411.92,60.3 412.88,60.18 413.84,60.08 414.8,59.99 415.76,59.91 416.72,59.84 417.69,59.78 418.65,59.73 419.61,59.68 420.57,59.65 421.53,59.63 422.49,59.61 423.45,59.61 424.41,59.61 425.37,59.62 426.33,59.65 427.29,59.68 428.25,59.72 429.21,59.77 430.17,59.83 431.13,59.89 432.09,59.97 433.06,60.05 434.02,60.15 434.98,60.25 435.94,60.36 436.9,60.48 437.86,60.6 438.82,60.74 439.78,60.88 440.74,61.04 441.7,61.2 442.66,61.37 443.62,61.54 444.58,61.73 445.54,61.92 446.5,62.12 447.46,62.33 448.43,62.55 449.39,62.77 450.35,63 451.31,63.24 452.27,63.49 453.23,63.75 454.19,64.01 455.15,64.28 456.11,64.56 457.07,64.84 458.03,65.14 458.99,65.44 459.95,65.74 460.91,66.06 461.87,66.38 462.84,66.71 463.8,67.05 464.76,67.39 465.72,67.74 466.68,68.1 467.64,68.46 468.6,68.83 469.56,69.21 470.52,69.59 471.48,69.99 472.44,70.38 473.4,70.79 474.36,71.2 475.32,71.62 476.28,72.04 477.24,72.47 478.21,72.91 479.17,73.35 480.13,73.8 481.09,74.26 482.05,74.72 483.01,75.19 483.97,75.66 484.93,76.14 485.89,76.63 486.85,77.12 487.81,77.62 488.77,78.13 489.73,78.64 490.69,79.15 491.65,79.67 492.62,80.2 493.58,80.73 494.54,81.27 495.5,81.82 496.46,82.37 497.42,82.92 498.38,83.48 499.34,84.05 500.3,84.62 501.26,85.19 502.22,85.78 503.18,86.36 504.14,86.95 505.1,87.55 506.06,88.15 507.02,88.76 507.99,89.37 508.95,89.99 509.91,90.61 510.87,91.24 511.83,91.87 512.79,92.5 513.75,93.14 514.71,93.79 515.67,94.44 516.63,95.09 517.59,95.75 518.55,96.41 519.51,97.08 520.47,97.75 521.43,98.43 522.39,99.11 523.36,99.79 524.32,100.48 525.28,101.17 526.24,101.87 527.2,102.57 528.16,103.27 529.12,103.98 530.08,104.69 531.04,105.41 532,106.13 532.96,106.85 533.92,107.58 534.88,108.31 535.84,109.04 536.8,109.78 537.77,110.52 538.73,111.26 539.69,112.01 540.65,112.76 541.61,113.51 542.57,114.27 543.53,115.03 544.49,115.79 545.45,116.56 546.41,117.33 547.37,118.1 548.33,118.88 549.29,119.65 550.25,120.44 551.21,121.22 552.17,122 553.14,122.79 554.1,123.58 555.06,124.38 556.02,125.17 556.98,125.97 557.94,126.78 558.9,127.58 559.86,128.38 560.82,129.19 561.78,130 562.74,130.82 563.7,131.63 564.66,132.45 565.62,133.27 566.58,134.09 567.55,134.91 568.51,135.74 569.47,136.56 570.43,137.39 571.39,138.22 572.35,139.05 573.31,139.89 574.27,140.72 575.23,141.56 576.19,142.4 577.15,143.24 578.11,144.08 579.07,144.92 580.03,145.77 580.99,146.61 581.95,147.46 582.92,148.31 583.88,149.16 584.84,150.01 585.8,150.86 586.76,151.72 587.72,152.57 588.68,153.43 589.64,154.29 590.6,155.14 591.56,156 592.52,156.86 593.48,157.72 594.44,158.59 595.4,159.45 596.36,160.31 597.32,161.18 598.29,162.04 599.25,162.91 600.21,163.77 601.17,164.64 602.13,165.51 603.09,166.38 604.05,167.25 605.01,168.11 605.97,168.98 606.93,169.86 607.89,170.73 608.85,171.6 609.81,172.47 610.77,173.34 611.73,174.22 612.7,175.09 613.66,175.96 614.62,176.84 615.58,177.71 616.54,178.59 617.5,179.46 618.46,180.34 619.42,181.22 620.38,182.09 621.34,182.97 622.3,183.85 623.26,184.72 624.22,185.6 625.18,186.48 626.14,187.36 627.1,188.24 628.07,189.12 629.03,190 629.99,190.88 630.95,191.76 631.91,192.64 632.87,193.52 633.83,194.4 634.79,195.28 635.75,196.16 636.71,197.04 637.67,197.92 638.63,198.81 639.59,199.69 640.55,200.57 641.51,201.46 642.47,202.34 643.44,203.23 644.4,204.11 645.36,205 646.32,205.88 647.28,206.77 648.24,207.66 649.2,208.54 650.16,209.43 651.12,210.32 652.08,211.21 653.04,212.1 654,213 654.96,213.89 655.92,214.78 656.88,215.68 657.85,216.57 658.81,217.47 659.77,218.37 660.73,219.27 661.69,220.17 662.65,221.07 663.61,221.97 664.57,222.87 665.53,223.78 666.49,224.69 667.45,225.6 668.41,226.51 669.37,227.42 670.33,228.33 671.29,229.25 672.25,230.16 673.22,231.08 674.18,232.01 675.14,232.93 676.1,233.86 677.06,234.79 678.02,235.72 678.98,236.65 679.94,237.59 680.9,238.53 681.86,239.47 682.82,240.41 683.78,241.36 684.74,242.31 685.7,243.27 686.66,244.23 687.63,245.19 688.59,246.15 689.55,247.12 690.51,248.1 691.47,249.07 692.43,250.05 693.39,251.04 694.35,252.03 695.31,253.03 696.27,254.03 697.23,255.03 698.19,256.04 699.15,257.05 700.11,258.07 701.07,259.1 702.03,260.13 703,261.17 703.96,262.21 704.92,263.26 705.88,264.32 706.84,265.38 707.8,266.45 708.76,267.52 709.72,268.61 710.68,269.7 711.64,270.8 712.6,271.9 713.56,273.02 714.52,274.14 715.48,275.27 716.44,276.41 717.4,277.55 718.37,278.71 719.33,279.87 720.29,281.05 721.25,282.23 722.21,283.43 723.17,284.63 724.13,285.85 725.09,287.07 726.05,288.31 727.01,289.56 727.97,290.82 728.93,292.09 729.89,293.37 730.85,294.67 731.81,295.97 732.78,297.29 733.74,298.63 734.7,299.97 735.66,301.33 736.62,302.71 737.58,304.1 738.54,305.5 739.5,306.92 740.46,308.35 741.42,309.8 742.38,311.26 743.34,312.75 744.3,314.24 745.26,315.76 746.22,317.29 747.18,318.84 748.15,320.4 749.11,321.99 750.07,323.59 751.03,325.22 751.99,326.86 752.95,328.52 753.91,330.2 754.87,331.9 755.83,333.63 756.79,335.37 757.75,337.14 758.71,338.93 759.67,340.74 760.63,342.57 761.59,344.43 762.56,346.31 763.52,348.22 764.48,350.15 765.44,352.1 766.4,354.08 767.36,356.09 768.32,358.13 769.28,360.19" fill="none" stroke="#1f77b4" stroke-width="1.25" stroke-linejoin="round"/>
<line x1="422.4" y1="284.7" x2="759.3" y2="284.7" stroke="#000" stroke-width="1.3" />
<line x1="422.4" y1="296.4" x2="759.3" y2="296.4" stroke="#ff0000" stroke-width="1.3" />
</g>
<rect x="422.4" y="0.5" width="336.9" height="349.8" fill="none" stroke="#464646" stroke-width="1.0"/>
<line x1="419.7" y1="34.5" x2="422.4" y2="34.5" stroke="#464646" stroke-width="0.9" />
<text x="417" y="37.45" font-size="8.55" text-anchor="end" fill="#000" color="#000" textLength="4.71" lengthAdjust="spacingAndGlyphs" >3</text>
<line x1="419.7" y1="88.1" x2="422.4" y2="88.1" stroke="#464646" stroke-width="0.9" />
<text x="417" y="91.05" font-size="8.55" text-anchor="end" fill="#000" color="#000" textLength="4.71" lengthAdjust="spacingAndGlyphs" >2</text>
<line x1="419.7" y1="141.7" x2="422.4" y2="141.7" stroke="#464646" stroke-width="0.9" />
<text x="417" y="144.65" font-size="8.55" text-anchor="end" fill="#000" color="#000" textLength="4.71" lengthAdjust="spacingAndGlyphs" >1</text>
<line x1="419.7" y1="195.3" x2="422.4" y2="195.3" stroke="#464646" stroke-width="0.9" />
<text x="417" y="198.25" font-size="8.55" text-anchor="end" fill="#000" color="#000" textLength="4.71" lengthAdjust="spacingAndGlyphs" >0</text>
<line x1="419.7" y1="248.9" x2="422.4" y2="248.9" stroke="#464646" stroke-width="0.9" />
<text x="417" y="251.85" font-size="8.55" text-anchor="end" fill="#000" color="#000" textLength="10.91" lengthAdjust="spacingAndGlyphs" >−1</text>
<line x1="419.7" y1="302.5" x2="422.4" y2="302.5" stroke="#464646" stroke-width="0.9" />
<text x="417" y="305.45" font-size="8.55" text-anchor="end" fill="#000" color="#000" textLength="10.91" lengthAdjust="spacingAndGlyphs" >−2</text>
<line x1="444.3" y1="350.3" x2="444.3" y2="353" stroke="#464646" stroke-width="0.9" />
<text x="444.3" y="361" font-size="8.55" text-anchor="middle" fill="#000" color="#000" textLength="17.97" lengthAdjust="spacingAndGlyphs" >−4.0</text>
<line x1="505.3" y1="350.3" x2="505.3" y2="353" stroke="#464646" stroke-width="0.9" />
<text x="505.3" y="361" font-size="8.55" text-anchor="middle" fill="#000" color="#000" textLength="17.97" lengthAdjust="spacingAndGlyphs" >−3.5</text>
<line x1="566.3" y1="350.3" x2="566.3" y2="353" stroke="#464646" stroke-width="0.9" />
<text x="566.3" y="361" font-size="8.55" text-anchor="middle" fill="#000" color="#000" textLength="17.97" lengthAdjust="spacingAndGlyphs" >−3.0</text>
<line x1="627.3" y1="350.3" x2="627.3" y2="353" stroke="#464646" stroke-width="0.9" />
<text x="627.3" y="361" font-size="8.55" text-anchor="middle" fill="#000" color="#000" textLength="17.97" lengthAdjust="spacingAndGlyphs" >−2.5</text>
<line x1="688.3" y1="350.3" x2="688.3" y2="353" stroke="#464646" stroke-width="0.9" />
<text x="688.3" y="361" font-size="8.55" text-anchor="middle" fill="#000" color="#000" textLength="17.97" lengthAdjust="spacingAndGlyphs" >−2.0</text>
<line x1="749.3" y1="350.3" x2="749.3" y2="353" stroke="#464646" stroke-width="0.9" />
<text x="749.3" y="361" font-size="8.55" text-anchor="middle" fill="#000" color="#000" textLength="17.97" lengthAdjust="spacingAndGlyphs" >−1.5</text>
<text x="590.8" y="370.5" font-size="8.55" text-anchor="middle" fill="#000" color="#000" textLength="85.51" lengthAdjust="spacingAndGlyphs" >log Frequency [1 / day]</text>
<text x="402.6" y="174.2" font-size="8.0" text-anchor="middle" transform="rotate(-90 402.6 174.2)" textLength="80.5" lengthAdjust="spacingAndGlyphs">log Power [rms<tspan font-size="5.6" dy="-3">2</tspan><tspan dy="3"> day]</tspan></text>
<text x="448" y="271.8" font-size="8.55" text-anchor="start" fill="#000" color="#000" textLength="81.26" lengthAdjust="spacingAndGlyphs" >Mean noise floor level</text>
<text x="448" y="311" font-size="8.55" text-anchor="start" fill="#ff0000" color="#ff0000" textLength="88.01" lengthAdjust="spacingAndGlyphs" >Median noise floor level</text>
<text x="642" y="17.6" font-size="8.3" text-anchor="start" fill="#000" color="#000" textLength="19.1" lengthAdjust="spacingAndGlyphs" >(p, q)</text>
<text x="661.7" y="18.7" font-size="5.9" text-anchor="start" fill="#000" color="#000" textLength="9.8" lengthAdjust="spacingAndGlyphs" font-style="italic">min</text>
<text x="674.7" y="17.6" font-size="8.3" text-anchor="start" fill="#000" color="#000" textLength="27.3" lengthAdjust="spacingAndGlyphs" >= (3, 2)</text>
<text x="752.8" y="19.2" font-size="10.6" text-anchor="end" fill="#000" color="#000" textLength="10.8" lengthAdjust="spacingAndGlyphs" >(f)</text>
</svg></body></html>
